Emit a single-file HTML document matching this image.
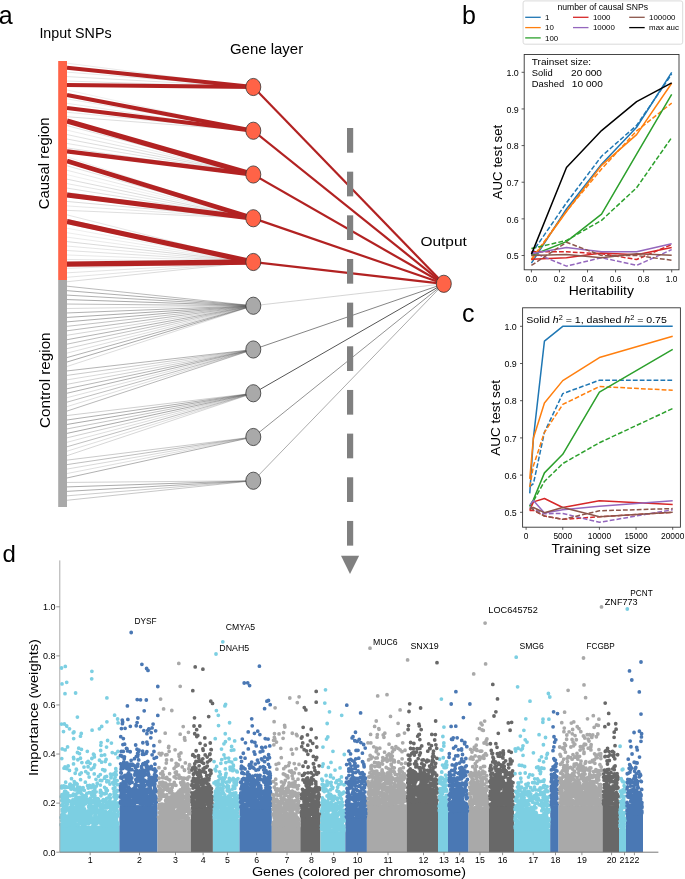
<!DOCTYPE html>
<html><head><meta charset="utf-8"><style>
html,body{margin:0;padding:0;background:#fff;}
svg{display:block;font-family:"Liberation Sans",sans-serif;will-change:transform;}
</style></head><body>
<svg width="685" height="879" viewBox="0 0 685 879">
<text x="-1.2" y="23.6" font-size="25" fill="#000">a</text>
<text x="39.4" y="38.2" font-size="14.2" textLength="72.2" lengthAdjust="spacingAndGlyphs" fill="#000">Input SNPs</text>
<text x="229.9" y="54.1" font-size="14.2" textLength="73.3" lengthAdjust="spacingAndGlyphs" fill="#000">Gene layer</text>
<text x="420.4" y="245.5" font-size="13.6" textLength="46.4" lengthAdjust="spacingAndGlyphs" fill="#000">Output</text>
<text x="49.5" y="209.2" font-size="14.2" textLength="91.7" lengthAdjust="spacingAndGlyphs" transform="rotate(-90 49.5 209.2)" fill="#000">Causal region</text>
<text x="49.6" y="428" font-size="14.2" textLength="95.6" lengthAdjust="spacingAndGlyphs" transform="rotate(-90 49.6 428)" fill="#000">Control region</text>
<line x1="67" y1="63.2" x2="253.3" y2="87" stroke="#808080" stroke-width="0.5" stroke-opacity="0.33"/>
<line x1="67" y1="67.66" x2="253.3" y2="87" stroke="#808080" stroke-width="0.5" stroke-opacity="0.44"/>
<line x1="67" y1="72.12" x2="253.3" y2="87" stroke="#808080" stroke-width="0.5" stroke-opacity="0.38"/>
<line x1="67" y1="76.58" x2="253.3" y2="87" stroke="#808080" stroke-width="0.5" stroke-opacity="0.46"/>
<line x1="67" y1="81.04" x2="253.3" y2="87" stroke="#808080" stroke-width="0.5" stroke-opacity="0.47"/>
<line x1="67" y1="85.5" x2="253.3" y2="87" stroke="#808080" stroke-width="0.5" stroke-opacity="0.27"/>
<line x1="67" y1="89.96" x2="253.3" y2="130.75" stroke="#808080" stroke-width="0.5" stroke-opacity="0.25"/>
<line x1="67" y1="94.42" x2="253.3" y2="130.75" stroke="#808080" stroke-width="0.5" stroke-opacity="0.54"/>
<line x1="67" y1="98.88" x2="253.3" y2="130.75" stroke="#808080" stroke-width="0.5" stroke-opacity="0.34"/>
<line x1="67" y1="103.34" x2="253.3" y2="130.75" stroke="#808080" stroke-width="0.5" stroke-opacity="0.33"/>
<line x1="67" y1="107.8" x2="253.3" y2="130.75" stroke="#808080" stroke-width="0.5" stroke-opacity="0.6"/>
<line x1="67" y1="112.26" x2="253.3" y2="130.75" stroke="#808080" stroke-width="0.5" stroke-opacity="0.41"/>
<line x1="67" y1="116.72" x2="253.3" y2="130.75" stroke="#808080" stroke-width="0.5" stroke-opacity="0.54"/>
<line x1="67" y1="121.18" x2="253.3" y2="174.5" stroke="#808080" stroke-width="0.5" stroke-opacity="0.42"/>
<line x1="67" y1="125.64" x2="253.3" y2="174.5" stroke="#808080" stroke-width="0.5" stroke-opacity="0.47"/>
<line x1="67" y1="130.1" x2="253.3" y2="174.5" stroke="#808080" stroke-width="0.5" stroke-opacity="0.3"/>
<line x1="67" y1="134.56" x2="253.3" y2="174.5" stroke="#808080" stroke-width="0.5" stroke-opacity="0.47"/>
<line x1="67" y1="139.02" x2="253.3" y2="174.5" stroke="#808080" stroke-width="0.5" stroke-opacity="0.55"/>
<line x1="67" y1="143.48" x2="253.3" y2="174.5" stroke="#808080" stroke-width="0.5" stroke-opacity="0.43"/>
<line x1="67" y1="147.94" x2="253.3" y2="174.5" stroke="#808080" stroke-width="0.5" stroke-opacity="0.51"/>
<line x1="67" y1="152.4" x2="253.3" y2="174.5" stroke="#808080" stroke-width="0.5" stroke-opacity="0.48"/>
<line x1="67" y1="156.86" x2="253.3" y2="218.25" stroke="#808080" stroke-width="0.5" stroke-opacity="0.27"/>
<line x1="67" y1="161.32" x2="253.3" y2="218.25" stroke="#808080" stroke-width="0.5" stroke-opacity="0.52"/>
<line x1="67" y1="165.78" x2="253.3" y2="218.25" stroke="#808080" stroke-width="0.5" stroke-opacity="0.46"/>
<line x1="67" y1="170.24" x2="253.3" y2="218.25" stroke="#808080" stroke-width="0.5" stroke-opacity="0.36"/>
<line x1="67" y1="174.7" x2="253.3" y2="218.25" stroke="#808080" stroke-width="0.5" stroke-opacity="0.26"/>
<line x1="67" y1="179.16" x2="253.3" y2="218.25" stroke="#808080" stroke-width="0.5" stroke-opacity="0.55"/>
<line x1="67" y1="183.62" x2="253.3" y2="218.25" stroke="#808080" stroke-width="0.5" stroke-opacity="0.42"/>
<line x1="67" y1="188.08" x2="253.3" y2="218.25" stroke="#808080" stroke-width="0.5" stroke-opacity="0.5"/>
<line x1="67" y1="192.54" x2="253.3" y2="218.25" stroke="#808080" stroke-width="0.5" stroke-opacity="0.56"/>
<line x1="67" y1="197" x2="253.3" y2="218.25" stroke="#808080" stroke-width="0.5" stroke-opacity="0.5"/>
<line x1="67" y1="201.46" x2="253.3" y2="218.25" stroke="#808080" stroke-width="0.5" stroke-opacity="0.57"/>
<line x1="67" y1="205.92" x2="253.3" y2="218.25" stroke="#808080" stroke-width="0.5" stroke-opacity="0.39"/>
<line x1="67" y1="210.38" x2="253.3" y2="218.25" stroke="#808080" stroke-width="0.5" stroke-opacity="0.53"/>
<line x1="67" y1="214.84" x2="253.3" y2="262" stroke="#808080" stroke-width="0.5" stroke-opacity="0.41"/>
<line x1="67" y1="219.3" x2="253.3" y2="262" stroke="#808080" stroke-width="0.5" stroke-opacity="0.58"/>
<line x1="67" y1="223.76" x2="253.3" y2="262" stroke="#808080" stroke-width="0.5" stroke-opacity="0.56"/>
<line x1="67" y1="228.22" x2="253.3" y2="262" stroke="#808080" stroke-width="0.5" stroke-opacity="0.28"/>
<line x1="67" y1="232.68" x2="253.3" y2="262" stroke="#808080" stroke-width="0.5" stroke-opacity="0.3"/>
<line x1="67" y1="237.14" x2="253.3" y2="262" stroke="#808080" stroke-width="0.5" stroke-opacity="0.33"/>
<line x1="67" y1="241.6" x2="253.3" y2="262" stroke="#808080" stroke-width="0.5" stroke-opacity="0.59"/>
<line x1="67" y1="246.06" x2="253.3" y2="262" stroke="#808080" stroke-width="0.5" stroke-opacity="0.4"/>
<line x1="67" y1="250.52" x2="253.3" y2="262" stroke="#808080" stroke-width="0.5" stroke-opacity="0.47"/>
<line x1="67" y1="254.98" x2="253.3" y2="262" stroke="#808080" stroke-width="0.5" stroke-opacity="0.36"/>
<line x1="67" y1="259.44" x2="253.3" y2="262" stroke="#808080" stroke-width="0.5" stroke-opacity="0.43"/>
<line x1="67" y1="263.9" x2="253.3" y2="262" stroke="#808080" stroke-width="0.5" stroke-opacity="0.39"/>
<line x1="67" y1="268.36" x2="253.3" y2="262" stroke="#808080" stroke-width="0.5" stroke-opacity="0.37"/>
<line x1="67" y1="272.82" x2="253.3" y2="262" stroke="#808080" stroke-width="0.5" stroke-opacity="0.45"/>
<line x1="67" y1="277.28" x2="253.3" y2="262" stroke="#808080" stroke-width="0.5" stroke-opacity="0.45"/>
<line x1="67" y1="281.74" x2="253.3" y2="262" stroke="#808080" stroke-width="0.5" stroke-opacity="0.57"/>
<line x1="67" y1="286.2" x2="253.3" y2="305.75" stroke="#555" stroke-width="0.6" stroke-opacity="0.68"/>
<line x1="67" y1="290.66" x2="253.3" y2="305.75" stroke="#555" stroke-width="0.6" stroke-opacity="0.81"/>
<line x1="67" y1="295.12" x2="253.3" y2="305.75" stroke="#555" stroke-width="0.6" stroke-opacity="0.77"/>
<line x1="67" y1="299.58" x2="253.3" y2="305.75" stroke="#555" stroke-width="0.6" stroke-opacity="0.85"/>
<line x1="67" y1="304.04" x2="253.3" y2="305.75" stroke="#555" stroke-width="0.6" stroke-opacity="0.67"/>
<line x1="67" y1="308.5" x2="253.3" y2="305.75" stroke="#555" stroke-width="0.6" stroke-opacity="0.39"/>
<line x1="67" y1="312.96" x2="253.3" y2="305.75" stroke="#555" stroke-width="0.6" stroke-opacity="0.77"/>
<line x1="67" y1="317.42" x2="253.3" y2="305.75" stroke="#555" stroke-width="0.6" stroke-opacity="0.83"/>
<line x1="67" y1="321.88" x2="253.3" y2="305.75" stroke="#555" stroke-width="0.6" stroke-opacity="0.8"/>
<line x1="67" y1="326.34" x2="253.3" y2="305.75" stroke="#555" stroke-width="0.6" stroke-opacity="0.61"/>
<line x1="67" y1="330.8" x2="253.3" y2="305.75" stroke="#555" stroke-width="0.6" stroke-opacity="0.69"/>
<line x1="67" y1="335.26" x2="253.3" y2="305.75" stroke="#555" stroke-width="0.6" stroke-opacity="0.42"/>
<line x1="67" y1="339.72" x2="253.3" y2="305.75" stroke="#555" stroke-width="0.6" stroke-opacity="0.76"/>
<line x1="67" y1="344.18" x2="253.3" y2="305.75" stroke="#555" stroke-width="0.6" stroke-opacity="0.62"/>
<line x1="67" y1="348.64" x2="253.3" y2="305.75" stroke="#555" stroke-width="0.6" stroke-opacity="0.46"/>
<line x1="67" y1="353.1" x2="253.3" y2="305.75" stroke="#555" stroke-width="0.6" stroke-opacity="0.33"/>
<line x1="67" y1="357.56" x2="253.3" y2="305.75" stroke="#555" stroke-width="0.6" stroke-opacity="0.77"/>
<line x1="67" y1="362.02" x2="253.3" y2="305.75" stroke="#555" stroke-width="0.6" stroke-opacity="0.84"/>
<line x1="67" y1="366.48" x2="253.3" y2="305.75" stroke="#555" stroke-width="0.6" stroke-opacity="0.35"/>
<line x1="67" y1="370.94" x2="253.3" y2="349.5" stroke="#555" stroke-width="0.6" stroke-opacity="0.74"/>
<line x1="67" y1="375.4" x2="253.3" y2="349.5" stroke="#555" stroke-width="0.6" stroke-opacity="0.53"/>
<line x1="67" y1="379.86" x2="253.3" y2="349.5" stroke="#555" stroke-width="0.6" stroke-opacity="0.38"/>
<line x1="67" y1="384.32" x2="253.3" y2="349.5" stroke="#555" stroke-width="0.6" stroke-opacity="0.46"/>
<line x1="67" y1="388.78" x2="253.3" y2="349.5" stroke="#555" stroke-width="0.6" stroke-opacity="0.72"/>
<line x1="67" y1="393.24" x2="253.3" y2="349.5" stroke="#555" stroke-width="0.6" stroke-opacity="0.78"/>
<line x1="67" y1="397.7" x2="253.3" y2="349.5" stroke="#555" stroke-width="0.6" stroke-opacity="0.32"/>
<line x1="67" y1="402.16" x2="253.3" y2="349.5" stroke="#555" stroke-width="0.6" stroke-opacity="0.64"/>
<line x1="67" y1="406.62" x2="253.3" y2="349.5" stroke="#555" stroke-width="0.6" stroke-opacity="0.32"/>
<line x1="67" y1="411.08" x2="253.3" y2="349.5" stroke="#555" stroke-width="0.6" stroke-opacity="0.7"/>
<line x1="67" y1="415.54" x2="253.3" y2="393.25" stroke="#555" stroke-width="0.6" stroke-opacity="0.48"/>
<line x1="67" y1="420" x2="253.3" y2="393.25" stroke="#555" stroke-width="0.6" stroke-opacity="0.78"/>
<line x1="67" y1="424.46" x2="253.3" y2="393.25" stroke="#555" stroke-width="0.6" stroke-opacity="0.84"/>
<line x1="67" y1="428.92" x2="253.3" y2="393.25" stroke="#555" stroke-width="0.6" stroke-opacity="0.58"/>
<line x1="67" y1="433.38" x2="253.3" y2="393.25" stroke="#555" stroke-width="0.6" stroke-opacity="0.85"/>
<line x1="67" y1="437.84" x2="253.3" y2="393.25" stroke="#555" stroke-width="0.6" stroke-opacity="0.47"/>
<line x1="67" y1="442.3" x2="253.3" y2="393.25" stroke="#555" stroke-width="0.6" stroke-opacity="0.34"/>
<line x1="67" y1="446.76" x2="253.3" y2="393.25" stroke="#555" stroke-width="0.6" stroke-opacity="0.63"/>
<line x1="67" y1="451.22" x2="253.3" y2="393.25" stroke="#555" stroke-width="0.6" stroke-opacity="0.32"/>
<line x1="67" y1="455.68" x2="253.3" y2="393.25" stroke="#555" stroke-width="0.6" stroke-opacity="0.41"/>
<line x1="67" y1="460.14" x2="253.3" y2="437" stroke="#555" stroke-width="0.6" stroke-opacity="0.52"/>
<line x1="67" y1="464.6" x2="253.3" y2="437" stroke="#555" stroke-width="0.6" stroke-opacity="0.64"/>
<line x1="67" y1="469.06" x2="253.3" y2="437" stroke="#555" stroke-width="0.6" stroke-opacity="0.39"/>
<line x1="67" y1="473.52" x2="253.3" y2="437" stroke="#555" stroke-width="0.6" stroke-opacity="0.32"/>
<line x1="67" y1="477.98" x2="253.3" y2="437" stroke="#555" stroke-width="0.6" stroke-opacity="0.78"/>
<line x1="67" y1="482.44" x2="253.3" y2="480.75" stroke="#555" stroke-width="0.6" stroke-opacity="0.47"/>
<line x1="67" y1="486.9" x2="253.3" y2="480.75" stroke="#555" stroke-width="0.6" stroke-opacity="0.83"/>
<line x1="67" y1="491.36" x2="253.3" y2="480.75" stroke="#555" stroke-width="0.6" stroke-opacity="0.79"/>
<line x1="67" y1="495.82" x2="253.3" y2="480.75" stroke="#555" stroke-width="0.6" stroke-opacity="0.51"/>
<line x1="67" y1="500.28" x2="253.3" y2="480.75" stroke="#555" stroke-width="0.6" stroke-opacity="0.55"/>
<line x1="67" y1="67.7" x2="253.3" y2="87" stroke="#b22222" stroke-width="3.9"/>
<line x1="67" y1="85" x2="253.3" y2="87" stroke="#b22222" stroke-width="4.1"/>
<line x1="67" y1="95" x2="253.3" y2="130.75" stroke="#b22222" stroke-width="4"/>
<line x1="67" y1="107.9" x2="253.3" y2="130.75" stroke="#b22222" stroke-width="4"/>
<line x1="67" y1="121" x2="253.3" y2="174.5" stroke="#b22222" stroke-width="5.2"/>
<line x1="67" y1="151.3" x2="253.3" y2="174.5" stroke="#b22222" stroke-width="4.3"/>
<line x1="67" y1="161" x2="253.3" y2="218.25" stroke="#b22222" stroke-width="4.6"/>
<line x1="67" y1="195" x2="253.3" y2="218.25" stroke="#b22222" stroke-width="4.8"/>
<line x1="67" y1="221.5" x2="253.3" y2="262" stroke="#b22222" stroke-width="5.2"/>
<line x1="67" y1="264.2" x2="253.3" y2="262" stroke="#b22222" stroke-width="5.3"/>
<line x1="253.3" y1="87" x2="443.8" y2="283.8" stroke="#b22222" stroke-width="2.2"/>
<line x1="253.3" y1="130.75" x2="443.8" y2="283.8" stroke="#b22222" stroke-width="2.2"/>
<line x1="253.3" y1="174.5" x2="443.8" y2="283.8" stroke="#b22222" stroke-width="2.2"/>
<line x1="253.3" y1="218.25" x2="443.8" y2="283.8" stroke="#b22222" stroke-width="2.2"/>
<line x1="253.3" y1="262" x2="443.8" y2="283.8" stroke="#b22222" stroke-width="2.2"/>
<line x1="253.3" y1="305.75" x2="443.8" y2="283.8" stroke="#aaa" stroke-width="0.5"/>
<line x1="253.3" y1="349.5" x2="443.8" y2="283.8" stroke="#666" stroke-width="0.8"/>
<line x1="253.3" y1="393.25" x2="443.8" y2="283.8" stroke="#555" stroke-width="1"/>
<line x1="253.3" y1="437" x2="443.8" y2="283.8" stroke="#777" stroke-width="0.8"/>
<line x1="253.3" y1="480.75" x2="443.8" y2="283.8" stroke="#888" stroke-width="0.7"/>
<rect x="58.2" y="61" width="8.8" height="219" fill="#ff6347"/>
<rect x="58.2" y="280" width="8.8" height="227" fill="#a9a9a9"/>
<ellipse cx="253.3" cy="87" rx="7.5" ry="8.6" fill="#ff6347" stroke="#333" stroke-width="0.8"/>
<ellipse cx="253.3" cy="130.75" rx="7.5" ry="8.6" fill="#ff6347" stroke="#333" stroke-width="0.8"/>
<ellipse cx="253.3" cy="174.5" rx="7.5" ry="8.6" fill="#ff6347" stroke="#333" stroke-width="0.8"/>
<ellipse cx="253.3" cy="218.25" rx="7.5" ry="8.6" fill="#ff6347" stroke="#333" stroke-width="0.8"/>
<ellipse cx="253.3" cy="262" rx="7.5" ry="8.6" fill="#ff6347" stroke="#333" stroke-width="0.8"/>
<ellipse cx="253.3" cy="305.75" rx="7.5" ry="8.6" fill="#a9a9a9" stroke="#333" stroke-width="0.8"/>
<ellipse cx="253.3" cy="349.5" rx="7.5" ry="8.6" fill="#a9a9a9" stroke="#333" stroke-width="0.8"/>
<ellipse cx="253.3" cy="393.25" rx="7.5" ry="8.6" fill="#a9a9a9" stroke="#333" stroke-width="0.8"/>
<ellipse cx="253.3" cy="437" rx="7.5" ry="8.6" fill="#a9a9a9" stroke="#333" stroke-width="0.8"/>
<ellipse cx="253.3" cy="480.75" rx="7.5" ry="8.6" fill="#a9a9a9" stroke="#333" stroke-width="0.8"/>
<ellipse cx="443.8" cy="283.8" rx="7.5" ry="8.6" fill="#ff6347" stroke="#333" stroke-width="0.8"/>
<rect x="347" y="128" width="6.2" height="24.7" fill="#808080"/>
<rect x="347" y="171.66" width="6.2" height="24.7" fill="#808080"/>
<rect x="347" y="215.32" width="6.2" height="24.7" fill="#808080"/>
<rect x="347" y="258.98" width="6.2" height="24.7" fill="#808080"/>
<rect x="347" y="302.64" width="6.2" height="24.7" fill="#808080"/>
<rect x="347" y="346.3" width="6.2" height="24.7" fill="#808080"/>
<rect x="347" y="389.96" width="6.2" height="24.7" fill="#808080"/>
<rect x="347" y="433.62" width="6.2" height="24.7" fill="#808080"/>
<rect x="347" y="477.28" width="6.2" height="24.7" fill="#808080"/>
<rect x="347" y="520.94" width="6.2" height="24.7" fill="#808080"/>
<polygon points="341,555.7 359.1,555.7 350,574" fill="#808080"/>
<text x="462" y="23.6" font-size="25" fill="#000">b</text>
<rect x="523.1" y="0.9" width="159.6" height="43.3" rx="2" ry="2" fill="#fff" stroke="#d0d0d0" stroke-width="0.8"/>
<text x="557.5" y="10" font-size="8.6" textLength="90.6" lengthAdjust="spacingAndGlyphs" fill="#000">number of causal SNPs</text>
<line x1="525.2" y1="17.3" x2="540.7" y2="17.3" stroke="#1f77b4" stroke-width="1.3"/>
<text x="545.1" y="19.9" font-size="7.9" fill="#000">1</text>
<line x1="525.2" y1="27.6" x2="540.7" y2="27.6" stroke="#ff7f0e" stroke-width="1.3"/>
<text x="545.1" y="30.2" font-size="7.9" fill="#000">10</text>
<line x1="525.2" y1="37.9" x2="540.7" y2="37.9" stroke="#2ca02c" stroke-width="1.3"/>
<text x="545.1" y="40.5" font-size="7.9" fill="#000">100</text>
<line x1="573" y1="17.3" x2="588.5" y2="17.3" stroke="#d62728" stroke-width="1.3"/>
<text x="592.9" y="19.9" font-size="7.9" fill="#000">1000</text>
<line x1="573" y1="27.6" x2="588.5" y2="27.6" stroke="#9467bd" stroke-width="1.3"/>
<text x="592.9" y="30.2" font-size="7.9" fill="#000">10000</text>
<line x1="629.2" y1="17.3" x2="644.7" y2="17.3" stroke="#8c564b" stroke-width="1.3"/>
<text x="649.1" y="19.9" font-size="7.9" fill="#000">100000</text>
<line x1="629.2" y1="27.6" x2="644.7" y2="27.6" stroke="#000000" stroke-width="1.3"/>
<text x="649.1" y="30.2" font-size="7.9" fill="#000">max auc</text>
<rect x="524.2" y="54.5" width="154.8" height="215.3" fill="none" stroke="#333" stroke-width="0.9"/>
<line x1="521.6" y1="255.5" x2="524.2" y2="255.5" stroke="#333" stroke-width="0.8"/>
<text x="518.8" y="259.2" font-size="8.9" text-anchor="end" fill="#000">0.5</text>
<line x1="521.6" y1="218.86" x2="524.2" y2="218.86" stroke="#333" stroke-width="0.8"/>
<text x="518.8" y="222.56" font-size="8.9" text-anchor="end" fill="#000">0.6</text>
<line x1="521.6" y1="182.22" x2="524.2" y2="182.22" stroke="#333" stroke-width="0.8"/>
<text x="518.8" y="185.92" font-size="8.9" text-anchor="end" fill="#000">0.7</text>
<line x1="521.6" y1="145.58" x2="524.2" y2="145.58" stroke="#333" stroke-width="0.8"/>
<text x="518.8" y="149.28" font-size="8.9" text-anchor="end" fill="#000">0.8</text>
<line x1="521.6" y1="108.94" x2="524.2" y2="108.94" stroke="#333" stroke-width="0.8"/>
<text x="518.8" y="112.64" font-size="8.9" text-anchor="end" fill="#000">0.9</text>
<line x1="521.6" y1="72.3" x2="524.2" y2="72.3" stroke="#333" stroke-width="0.8"/>
<text x="518.8" y="76" font-size="8.9" text-anchor="end" fill="#000">1.0</text>
<line x1="531.4" y1="269.8" x2="531.4" y2="272.4" stroke="#333" stroke-width="0.8"/>
<text x="531.4" y="281.5" font-size="8.4" text-anchor="middle" fill="#000">0.0</text>
<line x1="559.46" y1="269.8" x2="559.46" y2="272.4" stroke="#333" stroke-width="0.8"/>
<text x="559.46" y="281.5" font-size="8.4" text-anchor="middle" fill="#000">0.2</text>
<line x1="587.52" y1="269.8" x2="587.52" y2="272.4" stroke="#333" stroke-width="0.8"/>
<text x="587.52" y="281.5" font-size="8.4" text-anchor="middle" fill="#000">0.4</text>
<line x1="615.58" y1="269.8" x2="615.58" y2="272.4" stroke="#333" stroke-width="0.8"/>
<text x="615.58" y="281.5" font-size="8.4" text-anchor="middle" fill="#000">0.6</text>
<line x1="643.64" y1="269.8" x2="643.64" y2="272.4" stroke="#333" stroke-width="0.8"/>
<text x="643.64" y="281.5" font-size="8.4" text-anchor="middle" fill="#000">0.8</text>
<line x1="671.7" y1="269.8" x2="671.7" y2="272.4" stroke="#333" stroke-width="0.8"/>
<text x="671.7" y="281.5" font-size="8.4" text-anchor="middle" fill="#000">1.0</text>
<text x="501.7" y="199.4" font-size="12.6" textLength="74.7" lengthAdjust="spacingAndGlyphs" transform="rotate(-90 501.7 199.4)" fill="#000">AUC test set</text>
<text x="568.8" y="295.1" font-size="12.6" textLength="65.1" lengthAdjust="spacingAndGlyphs" fill="#000">Heritability</text>
<text x="531.8" y="65.4" font-size="9.4" textLength="59.3" lengthAdjust="spacingAndGlyphs" fill="#000">Trainset size:</text>
<text x="531.8" y="76.1" font-size="9.4" fill="#000">Solid</text>
<text x="571.1" y="76.1" font-size="9.4" textLength="30.9" lengthAdjust="spacingAndGlyphs" fill="#000">20 000</text>
<text x="531.8" y="87.3" font-size="9.4" fill="#000">Dashed</text>
<text x="571.8" y="87.3" font-size="9.4" textLength="31" lengthAdjust="spacingAndGlyphs" fill="#000">10 000</text>
<polyline points="531.4,263.19 566.48,208.97 601.55,164.27 636.62,127.26 671.7,72.3" fill="none" stroke="#1f77b4" stroke-width="1.5" stroke-linejoin="round"/>
<polyline points="531.4,253.67 566.48,202.74 601.55,156.21 636.62,125.43 671.7,74.13" fill="none" stroke="#1f77b4" stroke-width="1.5" stroke-linejoin="round" stroke-dasharray="4.8 2.1"/>
<polyline points="531.4,260.26 566.48,211.53 601.55,165.37 636.62,134.59 671.7,83.29" fill="none" stroke="#ff7f0e" stroke-width="1.5" stroke-linejoin="round"/>
<polyline points="531.4,259.16 566.48,211.17 601.55,169.03 636.62,130.92 671.7,103.08" fill="none" stroke="#ff7f0e" stroke-width="1.5" stroke-linejoin="round" stroke-dasharray="4.8 2.1"/>
<polyline points="531.4,255.5 566.48,241.58 601.55,214.1 636.62,154.01 671.7,94.28" fill="none" stroke="#2ca02c" stroke-width="1.5" stroke-linejoin="round"/>
<polyline points="531.4,248.54 566.48,240.48 601.55,220.33 636.62,187.72 671.7,137.52" fill="none" stroke="#2ca02c" stroke-width="1.5" stroke-linejoin="round" stroke-dasharray="4.8 2.1"/>
<polyline points="531.4,259.16 566.48,257.7 601.55,252.94 636.62,254.77 671.7,247.44" fill="none" stroke="#d62728" stroke-width="1.5" stroke-linejoin="round"/>
<polyline points="531.4,251.84 566.48,251.84 601.55,253.67 636.62,259.53 671.7,244.51" fill="none" stroke="#d62728" stroke-width="1.5" stroke-linejoin="round" stroke-dasharray="4.8 2.1"/>
<polyline points="531.4,253.67 566.48,247.44 601.55,251.84 636.62,251.84 671.7,243.78" fill="none" stroke="#9467bd" stroke-width="1.5" stroke-linejoin="round"/>
<polyline points="531.4,251.84 566.48,266.13 601.55,257.7 636.62,265.39 671.7,249.64" fill="none" stroke="#9467bd" stroke-width="1.5" stroke-linejoin="round" stroke-dasharray="4.8 2.1"/>
<polyline points="531.4,255.5 566.48,254.4 601.55,257.7 636.62,253.67 671.7,255.13" fill="none" stroke="#8c564b" stroke-width="1.5" stroke-linejoin="round"/>
<polyline points="531.4,265.39 566.48,242.31 601.55,255.5 636.62,255.5 671.7,260.26" fill="none" stroke="#8c564b" stroke-width="1.5" stroke-linejoin="round" stroke-dasharray="4.8 2.1"/>
<polyline points="531.4,254.4 566.48,167.56 601.55,130.56 636.62,101.61 671.7,82.93" fill="none" stroke="#000000" stroke-width="1.5" stroke-linejoin="round"/>
<text x="461.9" y="321.7" font-size="25" fill="#000">c</text>
<rect x="522.6" y="307.8" width="157.8" height="219.4" fill="none" stroke="#333" stroke-width="0.9"/>
<line x1="520" y1="512.3" x2="522.6" y2="512.3" stroke="#333" stroke-width="0.8"/>
<text x="516.8" y="515.9" font-size="8.9" text-anchor="end" fill="#000">0.5</text>
<line x1="520" y1="475.1" x2="522.6" y2="475.1" stroke="#333" stroke-width="0.8"/>
<text x="516.8" y="478.7" font-size="8.9" text-anchor="end" fill="#000">0.6</text>
<line x1="520" y1="437.9" x2="522.6" y2="437.9" stroke="#333" stroke-width="0.8"/>
<text x="516.8" y="441.5" font-size="8.9" text-anchor="end" fill="#000">0.7</text>
<line x1="520" y1="400.7" x2="522.6" y2="400.7" stroke="#333" stroke-width="0.8"/>
<text x="516.8" y="404.3" font-size="8.9" text-anchor="end" fill="#000">0.8</text>
<line x1="520" y1="363.5" x2="522.6" y2="363.5" stroke="#333" stroke-width="0.8"/>
<text x="516.8" y="367.1" font-size="8.9" text-anchor="end" fill="#000">0.9</text>
<line x1="520" y1="326.3" x2="522.6" y2="326.3" stroke="#333" stroke-width="0.8"/>
<text x="516.8" y="329.9" font-size="8.9" text-anchor="end" fill="#000">1.0</text>
<line x1="526.1" y1="527.2" x2="526.1" y2="529.8" stroke="#333" stroke-width="0.8"/>
<text x="526.1" y="539.1" font-size="8.4" text-anchor="middle" fill="#000">0</text>
<line x1="562.75" y1="527.2" x2="562.75" y2="529.8" stroke="#333" stroke-width="0.8"/>
<text x="562.75" y="539.1" font-size="8.4" text-anchor="middle" fill="#000">5000</text>
<line x1="599.4" y1="527.2" x2="599.4" y2="529.8" stroke="#333" stroke-width="0.8"/>
<text x="599.4" y="539.1" font-size="8.4" text-anchor="middle" fill="#000">10000</text>
<line x1="636.05" y1="527.2" x2="636.05" y2="529.8" stroke="#333" stroke-width="0.8"/>
<text x="636.05" y="539.1" font-size="8.4" text-anchor="middle" fill="#000">15000</text>
<line x1="672.7" y1="527.2" x2="672.7" y2="529.8" stroke="#333" stroke-width="0.8"/>
<text x="672.7" y="539.1" font-size="8.4" text-anchor="middle" fill="#000">20000</text>
<text x="499.7" y="455.7" font-size="12.6" textLength="75.7" lengthAdjust="spacingAndGlyphs" transform="rotate(-90 499.7 455.7)" fill="#000">AUC test set</text>
<text x="551.5" y="553" font-size="12.6" textLength="99.4" lengthAdjust="spacingAndGlyphs" fill="#000">Training set size</text>
<text x="526.3" y="323.1" font-size="9.4" textLength="140.6" lengthAdjust="spacingAndGlyphs" fill="#000">Solid <tspan font-style="italic">h</tspan><tspan font-size="6.5" dy="-3.5">2</tspan><tspan dy="3.5"> = 1, dashed </tspan><tspan font-style="italic">h</tspan><tspan font-size="6.5" dy="-3.5">2</tspan><tspan dy="3.5"> = 0.75</tspan></text>
<polyline points="529.76,493.33 533.43,437.9 544.43,341.18 562.75,326.3 599.4,326.3 672.7,326.3" fill="none" stroke="#1f77b4" stroke-width="1.5" stroke-linejoin="round"/>
<polyline points="529.76,486.63 533.43,483.66 544.43,432.32 562.75,393.63 599.4,380.24 672.7,380.24" fill="none" stroke="#1f77b4" stroke-width="1.5" stroke-linejoin="round" stroke-dasharray="4.8 2.1"/>
<polyline points="529.76,478.82 533.43,437.9 544.43,402.93 562.75,380.61 599.4,357.55 672.7,336.34" fill="none" stroke="#ff7f0e" stroke-width="1.5" stroke-linejoin="round"/>
<polyline points="529.76,487 533.43,465.8 544.43,432.32 562.75,404.42 599.4,386.56 672.7,390.28" fill="none" stroke="#ff7f0e" stroke-width="1.5" stroke-linejoin="round" stroke-dasharray="4.8 2.1"/>
<polyline points="529.76,506.35 533.43,499.65 544.43,472.87 562.75,454.27 599.4,392.14 672.7,349.36" fill="none" stroke="#2ca02c" stroke-width="1.5" stroke-linejoin="round"/>
<polyline points="529.76,506.35 533.43,501.14 544.43,481.42 562.75,463.57 599.4,442.74 672.7,408.51" fill="none" stroke="#2ca02c" stroke-width="1.5" stroke-linejoin="round" stroke-dasharray="4.8 2.1"/>
<polyline points="529.76,510.44 533.43,501.88 544.43,498.54 562.75,507.46 599.4,500.77 672.7,504.49" fill="none" stroke="#d62728" stroke-width="1.5" stroke-linejoin="round"/>
<polyline points="529.76,510.44 533.43,510.44 544.43,516.02 562.75,519.37 599.4,516.76 672.7,512.3" fill="none" stroke="#d62728" stroke-width="1.5" stroke-linejoin="round" stroke-dasharray="4.8 2.1"/>
<polyline points="529.76,504.86 533.43,500.4 544.43,513.04 562.75,509.7 599.4,506.35 672.7,500.77" fill="none" stroke="#9467bd" stroke-width="1.5" stroke-linejoin="round"/>
<polyline points="529.76,506.72 533.43,508.58 544.43,513.79 562.75,513.42 599.4,522.34 672.7,509.7" fill="none" stroke="#9467bd" stroke-width="1.5" stroke-linejoin="round" stroke-dasharray="4.8 2.1"/>
<polyline points="529.76,508.58 533.43,507.46 544.43,512.67 562.75,507.46 599.4,516.76 672.7,512.3" fill="none" stroke="#8c564b" stroke-width="1.5" stroke-linejoin="round"/>
<polyline points="529.76,507.84 533.43,509.7 544.43,516.02 562.75,519.37 599.4,510.81 672.7,508.58" fill="none" stroke="#8c564b" stroke-width="1.5" stroke-linejoin="round" stroke-dasharray="4.8 2.1"/>
<text x="2.6" y="562.4" font-size="24" fill="#000">d</text>
<rect x="59.8" y="825.7" width="59.6" height="26.5" fill="#7ccfe2"/>
<rect x="119.4" y="805.08" width="38.1" height="47.12" fill="#4a78b4"/>
<rect x="157.5" y="819.07" width="33.2" height="33.13" fill="#a9a9a9"/>
<rect x="190.7" y="806.8" width="22.2" height="45.4" fill="#686868"/>
<rect x="212.9" y="819.07" width="26.6" height="33.13" fill="#7ccfe2"/>
<rect x="239.5" y="808.03" width="32.3" height="44.17" fill="#4a78b4"/>
<rect x="271.8" y="825.7" width="28.5" height="26.5" fill="#a9a9a9"/>
<rect x="300.3" y="816.86" width="20.1" height="35.34" fill="#686868"/>
<rect x="320.4" y="831.34" width="24.9" height="20.86" fill="#7ccfe2"/>
<rect x="345.3" y="816.86" width="21.6" height="35.34" fill="#4a78b4"/>
<rect x="366.9" y="804.35" width="39.7" height="47.85" fill="#a9a9a9"/>
<rect x="406.6" y="801.89" width="31.4" height="50.31" fill="#686868"/>
<rect x="438" y="811.71" width="10" height="40.49" fill="#7ccfe2"/>
<rect x="448" y="811.71" width="20.6" height="40.49" fill="#4a78b4"/>
<rect x="468.6" y="808.03" width="20.3" height="44.17" fill="#a9a9a9"/>
<rect x="488.9" y="805.08" width="25.1" height="47.12" fill="#686868"/>
<rect x="514" y="828.89" width="36.2" height="23.31" fill="#7ccfe2"/>
<rect x="550.2" y="805.08" width="8.4" height="47.12" fill="#4a78b4"/>
<rect x="558.6" y="805.08" width="43.9" height="47.12" fill="#a9a9a9"/>
<rect x="602.5" y="805.08" width="16.5" height="47.12" fill="#686868"/>
<rect x="619" y="828.89" width="7" height="23.31" fill="#7ccfe2"/>
<rect x="626" y="814.16" width="17" height="38.04" fill="#4a78b4"/>
<path d="M104.94 825.61h0M109.56 825.21h0M115.98 825.22h0M60.83 824.66h0M113.23 825.44h0M117.27 825.12h0M65.01 825.21h0M105.64 824.92h0M65.82 825.37h0M116.33 825.29h0M67.6 824.77h0M66.62 825.39h0M106.71 825.62h0M93.02 825.48h0M71.78 825.15h0M68.34 824.8h0M67.51 824.91h0M73.06 825.18h0M116.73 825.37h0M78.32 824.71h0M72.94 824.61h0M110.01 825.21h0M66.58 824.91h0M73.08 824.48h0M105.31 825.38h0M77.87 825.29h0M65.99 825.61h0M74.8 824.98h0M82.21 824.96h0M116.05 825.14h0M93.9 825.1h0M71.33 824.63h0M113.13 825.51h0M75.17 824.69h0M103.39 825.46h0M72.12 824.54h0M111.61 824.53h0M85.08 824.96h0M63.03 825.57h0M74.53 824.52h0M75.6 824.83h0M95.16 824.69h0M88.58 823.69h0M79.17 823.57h0M65.14 823.24h0M103.25 823.8h0M103.26 823.37h0M106.49 823.61h0M81.07 823.35h0M112.69 823.63h0M84.83 823.4h0M110.54 823.5h0M96.8 823.77h0M94.36 824h0M65.42 823.72h0M118.02 823.69h0M102.74 823.39h0M103.14 823.99h0M86.17 823.76h0M65.63 823.44h0M62.52 823.55h0M88.5 823.73h0M101.02 824.19h0M96.2 823.86h0M75.54 823.34h0M78.14 824.46h0M72.47 823.64h0M112.97 824.26h0M86.26 823.66h0M79.63 823.38h0M72.23 823.65h0M107.22 823.94h0M111.5 823.35h0M63.5 823.07h0M86.52 822.47h0M98.53 822.47h0M116.01 822.25h0M72.28 822.4h0M71.09 822.66h0M88 823.23h0M71.12 822.37h0M80.71 822.91h0M90.78 822.39h0M104.36 822.49h0M106.42 822.76h0M65.82 822.13h0M102.41 822.1h0M86.92 823.08h0M113.21 822.48h0M93.56 822.78h0M106.69 822.16h0M87.51 822.08h0M72.6 822.44h0M107.94 822.36h0M102.14 822.46h0M112.64 822.98h0M117.1 822.04h0M106.35 822.58h0M113.22 822.85h0M80.87 822.19h0M86.2 823.14h0M105.05 822.57h0M62.44 822.64h0M64.49 822.25h0M70.76 822.26h0M106.18 822.83h0M69.36 823.07h0M114.1 821.26h0M105.69 821.86h0M71.98 821.99h0M100.37 821.74h0M81.27 821.62h0M66.84 821.26h0M67.87 821.12h0M75.23 821.39h0M91.35 821.77h0M82.44 821.48h0M91.29 821.51h0M72.57 821.82h0M97.58 821.24h0M109.83 821.37h0M110.15 821.27h0M103.47 821.73h0M112.79 821.02h0M78.94 821.63h0M73.37 820.88h0M111.92 820.79h0M74.59 821.85h0M75.75 821.12h0M108.73 821.9h0M106.3 821.5h0M84 821.86h0M61.82 821.18h0M100.11 821.77h0M116.58 820.9h0M89.93 821.87h0M89.76 821.09h0M71.69 821.17h0M66.92 821.93h0M92.58 821.97h0M93.56 821.38h0M71.43 821.84h0M109.2 821.77h0M114.19 820.8h0M64.37 821.9h0M87.42 820.85h0M79.63 821.08h0M90.48 821.44h0M95.41 821.49h0M101.18 822h0M71.24 820.98h0M103.39 821.46h0M72.04 821.52h0M90.32 821.81h0M112.25 822h0M101.39 821.03h0M97.05 820.96h0M66.47 820.33h0M112.97 820.48h0M90.05 820.11h0M93.52 819.6h0M97.55 819.57h0M65.19 819.8h0M104.53 820.06h0M114.38 820.73h0M87.97 820.59h0M89.34 820.58h0M64.17 820.04h0M85.03 819.63h0M95.24 820.14h0M77.26 820.34h0M93.09 819.98h0M102.08 820.44h0M61.61 820.43h0M63.26 820.49h0M104.27 820.6h0M112.5 820.31h0M63.69 819.87h0M115.2 819.58h0M112.96 820.7h0M88.31 820.26h0M74.84 819.59h0M114.79 820.15h0M87.78 819.9h0M107.84 819.59h0M67.43 820.05h0M87.05 820.02h0M63.8 820.54h0M67.96 820.14h0M99.27 820.25h0M75.9 820.23h0M84.97 820.07h0M91.37 819.83h0M115.67 819.56h0M74.53 819.89h0M112.22 820.65h0M96.8 819.83h0M76.44 820.35h0M93.34 819.95h0M97.27 820.06h0M71.73 819.86h0M79.54 818.35h0M103.78 818.89h0M85.43 818.43h0M66.39 819.11h0M65.32 818.49h0M93.3 819.46h0M100.27 818.97h0M105.47 819.2h0M73.08 819.47h0M65.51 818.75h0M102.56 819.19h0M77.1 818.71h0M81.41 819.39h0M81.9 818.67h0M101.65 819.42h0M113.71 818.86h0M113.41 818.41h0M107.06 819.02h0M79.09 819.19h0M114.64 819.07h0M75.1 818.46h0M81.86 819.12h0M83.59 819.12h0M72.03 819.09h0M106.71 818.87h0M108.98 818.9h0M70.97 818.87h0M111.54 818.63h0M62.08 819.22h0M92.14 818.93h0M116.47 818.87h0M107.13 818.76h0M77.62 817.81h0M64.21 817.14h0M67.41 817.96h0M105.49 817.54h0M64.39 818.11h0M94.44 817.77h0M62.9 817.22h0M71.43 818.2h0M74.36 818.07h0M95.06 817.45h0M71.46 818.06h0M70.74 817.99h0M78.76 817.41h0M107.87 817.66h0M75.8 817.75h0M113.46 817.25h0M92.33 817.92h0M88.6 817.16h0M63.66 818.06h0M106.96 817.17h0M91.19 817.86h0M76.61 817.7h0M98.68 817.12h0M61.43 818.04h0M82.2 817.75h0M101.89 817.36h0M69.86 817.59h0M79.34 818.14h0M110.87 818.02h0M97.49 817.7h0M76.15 817.12h0M69.48 817.68h0M60.88 817.39h0M109.54 817.33h0M65.55 817.33h0M102.07 818h0M88.45 818.22h0M115.84 817.76h0M110.18 817.62h0M106.26 817.96h0M113.61 817.82h0M108.4 818.22h0M92.1 818.08h0M69.87 817.69h0M78.74 817.31h0M75.57 816.29h0M102.93 816.86h0M115.23 816.7h0M102.49 816.42h0M108.43 816.7h0M68.91 816.99h0M99.84 816.99h0M71.16 816.24h0M109.01 816.61h0M65.99 816.38h0M69.85 816.83h0M84.23 816.96h0M113.83 817.02h0M90.27 816.58h0M104.97 816.31h0M83.03 816.1h0M84.54 816.7h0M83.88 817.09h0M117.36 816.25h0M98.83 816.14h0M61.87 816.36h0M80.51 816.7h0M66.92 816.31h0M90.14 816.64h0M108.33 816.14h0M69.92 816.36h0M112.81 816.17h0M81.11 816.44h0M68.97 816.49h0M71.17 815.84h0M114.91 814.67h0M78.52 815.07h0M103.29 815.06h0M94.89 815.41h0M61.74 814.89h0M87.76 815.64h0M83.06 815.71h0M70.8 815.18h0M75.99 815.24h0M79.93 815.18h0M62.98 815.09h0M69.14 815.06h0M95.37 814.7h0M84.5 815.3h0M100.5 815.12h0M104.1 814.95h0M118.09 815.28h0M110.05 814.85h0M85.8 815.38h0M112.94 815.19h0M91.04 815.24h0M112.89 815.35h0M63.95 815.49h0M112.65 814.99h0M95.22 814.98h0M78.35 814.96h0M64.82 815.15h0M86.54 815.73h0M83.65 815.26h0M100.83 815.82h0M74.57 815.24h0M83.58 815.5h0M64.74 815.59h0M116.47 814.76h0M110.71 815.06h0M107.18 815.36h0M103.81 815.61h0M114.59 814.04h0M88.02 813.45h0M77.81 814.4h0M112.46 813.52h0M109.06 814.41h0M88.02 814.22h0M111.47 814.44h0M72.44 813.43h0M71.83 813.88h0M63.68 813.57h0M102.6 814.52h0M112.66 814.27h0M101.88 813.59h0M100.89 814.49h0M86.44 813.5h0M73.66 814.56h0M101.73 814.28h0M71.23 814.41h0M99.08 814.36h0M82.26 813.68h0M104.03 812.86h0M114.33 812.95h0M71.16 812.81h0M97.95 812.74h0M98.72 812.99h0M90.56 812.47h0M109.49 812.81h0M90.78 812.59h0M70.82 812.26h0M70.31 812.47h0M74.36 812.68h0M105.33 812.89h0M106.37 812.46h0M88.97 813.14h0M94.21 813.16h0M62.84 812.81h0M101.97 812.69h0M111.08 812.72h0M69.54 813.21h0M89.38 813.4h0M86.24 812.89h0M106.79 813.1h0M113.06 813.34h0M92.09 812.73h0M74.51 812.46h0M78.71 813.25h0M78.91 813.37h0M91.07 812.66h0M68.95 811.11h0M77.97 811.72h0M65.21 811.68h0M118.18 812.16h0M103.08 811.26h0M75.38 811.92h0M74.72 811.52h0M114.51 811.63h0M80.21 811.75h0M95.99 811h0M84.02 812.15h0M64.17 811.4h0M100.81 811.78h0M94.82 811.14h0M87.45 811.11h0M109.36 811.72h0M105.81 811.73h0M80.81 811.94h0M92.45 811.97h0M72.53 812h0M87.74 811.94h0M86.55 811.82h0M99.92 810.98h0M65.59 810.5h0M79.53 809.89h0M90.71 810.03h0M83.49 810.91h0M63.15 810.68h0M95.09 810.79h0M78.79 810.93h0M92.13 810.45h0M101.5 810.81h0M102.59 810.65h0M69.28 810.16h0M76.95 810.72h0M84.15 810.1h0M110.68 810.5h0M77.62 810.7h0M73.23 810.55h0M62.21 810.92h0M93.4 810.2h0M116.99 809.98h0M99.42 810.61h0M73.25 809.85h0M99.2 810.13h0M101.2 809.03h0M101.13 809.07h0M83.34 809.72h0M64.43 809.3h0M63.95 809.25h0M94.55 809.14h0M79.55 809.17h0M62.16 809.43h0M112.17 809.32h0M75.89 809.05h0M71.51 808.93h0M96.24 809.17h0M81.69 808.57h0M115.08 809.04h0M96.93 808.8h0M84.47 808.98h0M76.71 809.24h0M111.47 808.73h0M113.19 809.28h0M68.62 809.7h0M78.58 809.12h0M100.85 807.64h0M116.32 807.68h0M69.99 807.51h0M89.06 807.76h0M82.08 807.83h0M103.94 808.17h0M74.45 807.86h0M79.52 808.21h0M90.39 808.3h0M64.44 808.36h0M66.69 808.43h0M67.3 807.65h0M105.27 807.96h0M70.16 807.93h0M110.9 807.46h0M75.42 808.45h0M106.68 807.9h0M102.04 808.04h0M102.03 808.21h0M80.03 808.12h0M109.34 807.59h0M77.28 807.24h0M118.03 806.39h0M79.81 807.14h0M92.05 807.26h0M82.31 806.7h0M106.91 806.91h0M77.14 806.26h0M96.38 806.81h0M117.3 806.35h0M100.78 806.81h0M106.89 806.62h0M70.88 807.11h0M114.57 807.16h0M88.92 806.98h0M79.44 807.14h0M93.4 807.27h0M96.82 807.12h0M73.91 806.96h0M81.87 806.7h0M63.75 806.97h0M112.22 807.21h0M65.32 806.91h0M88.65 807.07h0M72.45 806.07h0M88.69 806.23h0M78.66 805.14h0M61.4 805.43h0M116.05 805.81h0M91.17 806.05h0M106.44 805.07h0M83.8 805.16h0M108.47 805.08h0M117.59 805.12h0M115.54 805.94h0M101.42 805.57h0M113.2 805.76h0M94.02 806.04h0M83.17 805.79h0M98.64 805.61h0M81.81 805.07h0M81.19 805.28h0M112.94 805.72h0M66.22 805.67h0M103.52 805.65h0M67.04 803.91h0M85.57 803.63h0M73.45 803.66h0M101.47 804.34h0M76.55 804.62h0M115.39 804.01h0M71.37 804.44h0M117.79 804.4h0M97.36 804.66h0M97.89 804.37h0M96.3 804.58h0M110.13 803.75h0M89.88 804.07h0M67.37 804.14h0M100.53 803.81h0M99.13 804.28h0M82.96 804.32h0M118.04 802.98h0M110.92 803.53h0M75.24 802.74h0M86.95 802.62h0M110.66 802.95h0M76.91 803.37h0M65.04 802.82h0M106.14 802.93h0M74.73 803.01h0M110.05 802.63h0M92.44 802.67h0M106.69 802.5h0M81.87 803.42h0M62.92 803.49h0M110.62 803.19h0M67.56 802.59h0M83.19 803.39h0M96.34 802.57h0M64.94 802.5h0M72.71 802.4h0M111.29 802.84h0M72.15 802.72h0M85.61 802.79h0M80.36 803.59h0M97.07 803.22h0M95.54 803.27h0M71.21 802.76h0M89.97 801.82h0M80.75 801.23h0M74.34 801.52h0M77.21 801.67h0M77.3 801.31h0M99.78 801.34h0M114.58 801.83h0M103.61 801.91h0M86.63 801.65h0M84.94 802.31h0M86.2 802.04h0M77.67 801.21h0M99.51 801.53h0M84.5 802.08h0M112.37 802.22h0M85.03 802.08h0M108.06 801.96h0M94.82 801.34h0M66.53 801.71h0M83.91 800.59h0M73.36 800.35h0M72.86 799.94h0M69.03 800.7h0M103.53 800.67h0M70.41 801.05h0M96.68 800.36h0M75.4 800.25h0M102.9 800.16h0M67.69 800.2h0M61.71 800.58h0M115.21 800.1h0M62.19 800.06h0M91.67 800.73h0M67.21 800.5h0M78.17 800.19h0M67.98 800.53h0M68.27 800.46h0M90.3 801.05h0M105.58 800.8h0M84.64 800.85h0M73.34 801.09h0M92.95 800.6h0M109.8 800.59h0M109.77 801.03h0M78.12 799.79h0M97.84 798.74h0M63.45 798.89h0M65.31 799.42h0M67.24 799.61h0M79.74 798.8h0M98.47 799.33h0M115.32 798.84h0M89.65 799.23h0M83.52 798.82h0M103.39 799.56h0M81.99 799.61h0M88.27 799.4h0M85.6 799.49h0M63.66 799.38h0M116.46 798.2h0M94.98 798.69h0M81.86 797.52h0M82.05 797.97h0M95.89 798.33h0M78.95 797.98h0M90.53 798.09h0M63.86 797.78h0M75.31 798.59h0M106.63 798.37h0M110.34 798.18h0M77.26 798.21h0M65.72 797.87h0M61.12 796.76h0M84.9 796.57h0M117.46 796.64h0M65.12 796.35h0M86.17 796.52h0M82.56 796.55h0M85.96 796.93h0M79.23 797.33h0M64.92 796.57h0M108.84 797.33h0M92.37 796.66h0M67.62 797.34h0M115.74 797.1h0M113.92 796.79h0M84.69 797.22h0M109.14 796.82h0M72.44 795.53h0M70.24 795.82h0M94.86 795.82h0M83.18 795.61h0M109.32 795.54h0M94.43 795.81h0M117.28 795.66h0M100.97 795.85h0M75.85 795.96h0M93.92 795.35h0M64.5 795.93h0M82.55 795.24h0M85.73 795.37h0M93.03 795.49h0M104.85 793.86h0M66.43 794.03h0M73.38 794.06h0M91.61 794.78h0M67.76 794.27h0M94.35 794.08h0M114.02 793.92h0M81.77 794.18h0M102.19 793.85h0M110.2 794.66h0M76.05 794.13h0M61.97 794.72h0M75.41 794.36h0M75.37 794.66h0M114.75 793.73h0M106.15 793.35h0M86.88 793.51h0M102.8 793.34h0M89.93 792.64h0M80.89 793.1h0M115.51 793.51h0M114.97 793.66h0M64.94 792.99h0M66.68 792.69h0M67.7 793.1h0M78.62 792.58h0M64.34 792.72h0M64.71 792.98h0M93.69 793.76h0M100.26 792.59h0M106.01 792.75h0M92.92 791.97h0M93.14 791.37h0M78.09 792.4h0M101.24 792.16h0M117.02 791.42h0M114.1 791.4h0M114.65 791.51h0M89.01 792.54h0M100.3 791.84h0M96.12 791.82h0M65.78 791.42h0M100.46 790.32h0M94.21 790.7h0M107.33 790.41h0M64.71 791.34h0M116.98 790.37h0M84.28 790.32h0M80.77 790.93h0M70.92 789.03h0M75.4 789.93h0M105.94 789.53h0M74.52 789.71h0M75.79 789.31h0M75.48 789.47h0M71.43 789.04h0M78.17 789.83h0M113.27 788.45h0M83.1 787.67h0M106.28 788.72h0M80.28 787.93h0M82.66 787.92h0M94.97 788.53h0M88.21 787.98h0M61.6 787.88h0M82.71 788.27h0M113.48 788.81h0M72.64 788.71h0M67.72 787.2h0M114.88 787.32h0M71.45 787.57h0M63.64 787.23h0M71.33 787.28h0M91.15 787.51h0M93.5 787h0M91.14 786.72h0M65.49 786.5h0M65.22 787.39h0M104.62 787.28h0M89.82 786.53h0M79.83 787.46h0M77.76 786.96h0M63.79 785.94h0M70.77 786.23h0M72.99 785.53h0M73.46 786.41h0M89.55 785.45h0M87.59 785.63h0M61.67 786.21h0M63.19 786.06h0M96.44 786.11h0M88.04 785.98h0M109.93 784.06h0M70.17 784.12h0M117.51 784.58h0M70.65 784.85h0M74.34 784.32h0M69.88 784.49h0M77.16 784.04h0M100.39 785.09h0M93.02 784.78h0M113.94 784.6h0M76.3 783.37h0M97.2 783.27h0M65.67 782.21h0M74.31 781.77h0M106.76 781.73h0M112.8 782.44h0M85.35 782.13h0M115.28 782.07h0M108.85 781.26h0M117.17 780.54h0M100.26 780.4h0M101.79 780.55h0M106.95 780.53h0M107.73 781.31h0M80.57 779.67h0M95.97 779.33h0M114.51 779.18h0M110.99 777.87h0M71.51 778.69h0M104.47 778.22h0M105.07 776.78h0M111.12 776.88h0M115.14 777.15h0M89.14 777.06h0M106.63 776.42h0M98.45 776.34h0M100.33 774.59h0M79.84 774.23h0M113.3 774.25h0M115.64 775.03h0M116.24 774.63h0M110.48 774.12h0M88.05 773.51h0M75.19 773.25h0M94.25 773.92h0M81.27 772.87h0M115.46 772.29h0M116.04 771.13h0M85.74 771.56h0M104.72 770.87h0M91.2 769.26h0M104.93 770.25h0M69.46 770.41h0M76.5 769.81h0M102.66 769.6h0M66.94 768.72h0M115.79 768.67h0M64.03 768.16h0M76.32 769.17h0M93.81 767.51h0M84.01 767.11h0M68.21 765.93h0M88.08 766.73h0M65 766.78h0M109.88 764.4h0M94.66 764.98h0M73.53 763.97h0M90.11 763.28h0M101.59 762.15h0M81.87 762.57h0M86.89 762.58h0M105.31 761.52h0M88.08 761.33h0M106.06 759.47h0M99.46 760.17h0M77.86 759.76h0M73.82 758.64h0M91.86 758.49h0M80.48 758.24h0M61.76 758.57h0M73.52 757.46h0M118.04 757.72h0M94.38 756.91h0M104.67 754.88h0M94.15 754.84h0M101.42 755.45h0M79.51 753.57h0M115.54 753.64h0M93.47 754.19h0M112.26 752.54h0M77.45 752.49h0M87.32 751.33h0M117.89 751.43h0M65.14 749.92h0M100.65 750.48h0M81.44 749.29h0M62.19 748.96h0M78.72 748.21h0M67.58 746.95h0M106.54 747.06h0M100.85 745.34h0M101.08 742.62h0M111.4 743.07h0M107.59 740.49h0M73.67 738.6h0M80.46 736.17h0M81.26 733.46h0M73.25 732.81h0M73.98 732h0M63.51 731.56h0M92.09 730.19h0M64.41 724.02h0M236.7 818.83h0M221.54 817.97h0M222.24 818.68h0M223.33 818.65h0M214.31 817.89h0M227.39 818.63h0M222.1 818.32h0M224.44 818.19h0M236.31 818.89h0M231.22 818.82h0M218.07 817.93h0M233.04 818.14h0M236.45 818.65h0M233.25 817.16h0M238.06 816.79h0M227.13 817.04h0M217.63 817.21h0M235.77 817.8h0M234.31 816.65h0M229.29 817.61h0M221.83 817.6h0M236.81 816.87h0M233.07 817.83h0M231.07 816.97h0M222.52 817.66h0M218.91 816.93h0M225.67 817.64h0M220.37 817.64h0M219.12 817.65h0M224.05 817.72h0M217.34 817.43h0M223.82 817.63h0M221.2 817.76h0M232.08 817.79h0M225.44 817.69h0M230.69 817.68h0M215.05 815.49h0M224.46 816.12h0M216.44 815.87h0M217.18 815.79h0M221.6 816.28h0M238.47 816.53h0M236.11 816.54h0M236.77 815.78h0M227.38 815.89h0M227.41 816.07h0M218.24 816.21h0M233.43 815.9h0M236.24 815.42h0M218.93 815.87h0M217.9 815.93h0M232.48 815.56h0M221.85 816.16h0M224.63 815.53h0M230.33 816.52h0M216.79 816.1h0M219.06 815.57h0M229.3 815.1h0M214.11 815.22h0M229.04 814.63h0M214.57 814.28h0M216.85 815.01h0M233.72 814.27h0M225.5 815.2h0M229.15 814.54h0M227.18 814.8h0M215.42 815.13h0M226.4 815.2h0M235.65 815.21h0M214.22 815.03h0M230.24 814.6h0M224.87 814.48h0M230.54 814.27h0M233.46 814.24h0M224.5 815.05h0M229.44 815.14h0M225.24 814.91h0M218.24 814.94h0M231.75 814.67h0M224.63 813.48h0M231.73 813.18h0M236.3 813.02h0M230.09 814.03h0M215.93 813.03h0M214.41 813.99h0M237.19 813.94h0M217.41 813.08h0M216.53 814.16h0M221.85 813.1h0M222.74 813.46h0M229.53 813.65h0M215.49 813.01h0M231.46 813.65h0M229.33 813.2h0M214.56 813.82h0M227.68 813.88h0M228.38 813.07h0M236.77 812.17h0M234.99 812.07h0M214.45 811.92h0M219.95 812.15h0M233.27 812.1h0M218.6 811.95h0M217.78 812.48h0M231.24 811.92h0M227.4 812.25h0M225.07 812.03h0M237.37 812.72h0M226.09 811.99h0M218.99 812.25h0M215.23 812.65h0M233.9 812.12h0M218.68 812.61h0M220.88 812.41h0M219.98 812.01h0M223.86 812.62h0M231.43 811.88h0M217.34 812.79h0M225.9 811.56h0M230.62 811.19h0M219.84 811.11h0M232.33 811.46h0M232.84 811.01h0M224.87 811.47h0M218.15 811.57h0M220.66 811.28h0M216.5 810.54h0M216.18 811.08h0M216.44 810.62h0M221.67 810.66h0M216.31 811.27h0M215.67 810.94h0M227.01 810.89h0M229.88 811.37h0M215.5 810.84h0M235.44 810.59h0M236.62 810.73h0M221.21 810.06h0M224.81 810.48h0M223.95 809.26h0M223.06 810.22h0M214.55 809.75h0M226.82 810.27h0M231 810.04h0M215.44 810.32h0M232.37 809.36h0M228.73 809.69h0M217.56 810.25h0M230.71 809.94h0M226.21 809.91h0M237.23 810.38h0M223.47 810.19h0M237.19 809.49h0M224.99 810.03h0M225.91 809.45h0M236.98 808.83h0M224.55 809.19h0M232.19 808.81h0M238.35 808.41h0M228.83 808.07h0M228.61 808.13h0M226.41 809h0M236.27 808.93h0M215.75 807.38h0M214.78 807.17h0M213.99 807.43h0M237.09 807.07h0M225.11 807.11h0M232.48 807.46h0M222.64 807.93h0M218.16 807.44h0M222.53 807.47h0M228.38 807.86h0M216.99 807.49h0M219.45 807.37h0M221.75 807.33h0M220.34 806.44h0M233.21 805.82h0M232.68 806.03h0M229.64 806.27h0M214.24 806.36h0M235.48 806.16h0M236.1 806.19h0M220.14 806.33h0M224.48 806.61h0M216.61 806.42h0M237.35 806.42h0M224.25 805.84h0M216.74 805.11h0M233.1 804.75h0M215.24 804.79h0M214.33 805.08h0M232.42 804.74h0M231.5 805.33h0M217.46 805.51h0M219.22 804.44h0M236.89 804.78h0M225.11 804.63h0M223.79 805.05h0M233.21 805.38h0M232.69 804.94h0M219.71 804.99h0M216.81 805.26h0M226.22 804.69h0M237.9 805.1h0M219.01 804.11h0M216.71 803.34h0M234.76 803.99h0M231.2 804.27h0M219.38 803.86h0M235.04 803.19h0M217.15 804.09h0M215.7 803.67h0M221.96 803.19h0M215.26 803.96h0M227.7 803.75h0M231.13 804.19h0M234.09 803.72h0M235.33 803.22h0M222.44 803.81h0M234.09 802.99h0M222.96 802.7h0M231.14 802.88h0M237.35 802.89h0M236.7 803.09h0M224.81 802.62h0M219.75 802.5h0M226.66 802h0M235.35 802.45h0M234.53 802.31h0M221.26 802.97h0M236.95 801.4h0M219.42 800.75h0M235.33 801.22h0M235.25 801.61h0M234.09 801.52h0M237.13 801.43h0M223.24 800.82h0M229.13 801.88h0M221.18 801.2h0M224.2 800.77h0M219.44 801.24h0M227.07 801h0M237.01 801.71h0M217.68 800.08h0M222.29 799.69h0M216 800.23h0M222.82 800.33h0M219.1 800.34h0M231.71 800.32h0M226.32 800.52h0M214.44 799.87h0M232.54 799.66h0M215.34 800.37h0M216.38 798.51h0M226.05 799.11h0M228.95 798.93h0M237.71 798.96h0M236.56 799.18h0M233.91 799.42h0M220.99 799.31h0M236.28 798.92h0M223.91 797.93h0M221.63 797.03h0M221.15 797.21h0M235.35 797.34h0M227.96 797h0M218.04 797.48h0M219.1 797.17h0M235.08 798.06h0M225.25 797.57h0M236.61 797.98h0M235.17 797.37h0M225.73 797.73h0M216.16 797.58h0M228.52 798.19h0M234.61 797.77h0M230.35 797.28h0M219.84 797.51h0M230.29 797.5h0M228.26 796.98h0M216.05 795.82h0M228.8 796h0M214.21 796.12h0M214.96 796.5h0M238.2 795.82h0M228.52 796.11h0M217.13 796.03h0M218.71 794.62h0M231.75 795.14h0M224.76 794.86h0M234.43 794.91h0M235.21 794.09h0M220.57 793.77h0M221.19 793.84h0M230.98 793.34h0M223.52 793.45h0M233.3 794.37h0M215.45 793.16h0M215.43 792.65h0M217.75 792.7h0M233.6 793.07h0M229.45 792.09h0M218.31 792.55h0M235.8 792.78h0M222.23 791.18h0M221.82 790.87h0M222.86 791.21h0M215.37 791.13h0M217 790.19h0M219.18 789.89h0M227.15 790.79h0M229.68 790.13h0M218.94 789.27h0M220.53 788.54h0M219.04 789.14h0M216.87 788.73h0M232.44 789.05h0M223.07 788.33h0M234.79 788.38h0M228.48 787.23h0M228.38 787.75h0M227.19 787.95h0M234.76 787.64h0M226.45 786.79h0M228.37 786.12h0M233.21 785.96h0M234.55 785.94h0M219.65 784.86h0M220.38 784.91h0M234.4 784.9h0M216.24 784.92h0M227.39 785.7h0M223.25 785.65h0M236.33 784.76h0M218.03 785.74h0M218.4 783.54h0M235.67 784.61h0M234.08 782.44h0M234.55 782.76h0M236.59 782.56h0M235.38 782.38h0M222.26 783.26h0M214 782.88h0M235.35 783.14h0M225.97 782.29h0M216.65 782.85h0M222.23 782.04h0M215.48 781.98h0M234.36 781.96h0M223.82 781.34h0M226.52 782.12h0M229.39 781.91h0M222.78 781.21h0M231.67 779.82h0M218.07 780.96h0M236.89 780.06h0M229.12 780.91h0M230.3 779.98h0M235.5 779.9h0M219.96 778.71h0M229.32 778.43h0M224.37 778.41h0M237.96 778.55h0M222.21 777.82h0M233.18 778.3h0M225.38 776.9h0M218.92 776.32h0M225.72 774.77h0M220.42 774.37h0M226.09 773.31h0M237.28 771.89h0M219.64 771.81h0M236.66 771.13h0M215.89 770.85h0M232.68 770.7h0M230.56 769.89h0M233.79 769.68h0M225.36 768.89h0M215.1 769.13h0M230.13 769.29h0M232.62 768.52h0M216.66 766.47h0M230.08 767.24h0M232.73 767.47h0M233.36 766h0M233.35 765.18h0M220.85 763.31h0M225.84 762.56h0M231.75 762.12h0M214.08 761.54h0M229.14 761.36h0M235.8 759.22h0M221.72 759.54h0M234.83 759.37h0M228.64 758.05h0M225.2 758.06h0M223.97 754.87h0M233.81 749.88h0M231.32 750.36h0M221.5 749.12h0M231.65 746.47h0M223.95 743.81h0M234.67 740.93h0M225.43 741.64h0M229.19 738.8h0M215.24 738.66h0M225.26 733.74h0M218.52 725.56h0M229.59 722.73h0M327.25 831.26h0M330.77 831.04h0M342.03 830.68h0M335.42 830.34h0M341.78 830.73h0M337.63 830.19h0M325.84 830.58h0M341.73 831.05h0M329.23 830.5h0M324.35 830.43h0M333.5 831.28h0M332.97 830.25h0M325.27 830.14h0M327.48 831.12h0M343.86 830.85h0M325.48 830.7h0M342.03 830.4h0M325.23 830.16h0M341.24 830.44h0M340.48 829.5h0M327.8 829.83h0M330.39 830.11h0M328.71 829.17h0M321.48 829.05h0M322.29 829.3h0M339.01 829.96h0M338.18 829.05h0M344.1 829.5h0M335.7 828.69h0M322.73 828.39h0M336.38 828.6h0M329.1 828.88h0M329 828.3h0M321.76 828.37h0M328.72 827.99h0M336.16 828.78h0M322.18 827.89h0M327.28 828.1h0M339.68 828.17h0M338 828.09h0M342.19 828.76h0M327.49 828.24h0M334.19 828.5h0M322.78 828.63h0M343.02 828.31h0M333.77 826.58h0M342.97 827.3h0M338.58 826.58h0M328.07 827.38h0M337.68 827.55h0M330.72 826.93h0M330.47 827.64h0M329.59 827.17h0M330.41 826.66h0M325.67 827.12h0M328.16 827.61h0M341.83 826.8h0M325.25 825.36h0M343.75 826.28h0M332.94 826.19h0M326.05 825.4h0M336.86 825.3h0M340.89 825.77h0M336.84 825.63h0M334.69 826.1h0M338.29 826.11h0M330.62 825.54h0M338.44 825.95h0M329.42 825.93h0M339.22 825.97h0M324 825.29h0M329.56 825.71h0M326.47 826.19h0M338.13 825.27h0M323.54 825.22h0M333.11 826.41h0M322.66 825.23h0M337.15 826.16h0M329.21 826.22h0M321.47 826.12h0M333.63 825.92h0M333.2 826.12h0M343.5 825.84h0M332.32 824.32h0M332.69 824.49h0M325.01 825.1h0M322.14 824.73h0M336.06 824.85h0M330.58 824.57h0M322.42 824.96h0M321.72 824.81h0M335.64 824.8h0M322.43 824.57h0M341 824.43h0M323.24 825.14h0M332.76 825.05h0M336.01 825.04h0M338.96 824.84h0M340.38 823.87h0M332.97 823.39h0M339.13 823.33h0M327.24 823.61h0M329.65 822.83h0M333.09 823.68h0M324.5 823.04h0M336.79 823.64h0M322.08 823.76h0M324.18 823.68h0M333.39 823.66h0M336.51 823.94h0M325.55 821.89h0M339.73 822.67h0M336 821.92h0M326.86 821.63h0M342.37 822.66h0M325.91 822.51h0M330.58 821.75h0M334.14 822.53h0M325.54 822.01h0M323.78 821.6h0M337.44 822.64h0M333.27 821.41h0M328.16 821.34h0M344.16 820.76h0M339.91 820.34h0M340.13 821.48h0M338.04 821.22h0M338.03 821.3h0M340.9 821.31h0M321.82 820.81h0M335.93 820.72h0M336.92 820.55h0M327.15 820.59h0M339.8 819.58h0M325.41 820.02h0M333.44 820.16h0M325.55 820.05h0M340.83 819.09h0M342.04 819.91h0M333.63 819.72h0M328.71 820.03h0M322.08 819.07h0M340.59 820.22h0M332.13 819.57h0M335.06 818.37h0M324.75 818h0M323.62 818.69h0M322.87 817.99h0M336.07 818.25h0M324.69 818.51h0M329.75 818.37h0M326.04 818.32h0M337.04 818.94h0M333.67 817.94h0M343.16 818.34h0M341.54 818.73h0M322.05 818.12h0M335.29 818.13h0M341.37 818.8h0M343.1 817.7h0M334.97 817.07h0M334.22 817.32h0M326.07 816.7h0M326.9 816.96h0M330.53 817.59h0M336.92 817.15h0M328.15 817.78h0M322.47 816.3h0M342.09 816.38h0M344.11 816.15h0M326.56 816.34h0M323.36 816.17h0M323.13 815.98h0M341.85 816.57h0M337.5 816.18h0M331.62 815.74h0M337.52 816.11h0M326.11 816.32h0M331.65 815.23h0M337.82 814.55h0M338.4 814.54h0M330.18 815.38h0M336.4 814.97h0M322.34 814.74h0M324.32 814.65h0M326.3 814.53h0M333.25 814.61h0M342.17 814.34h0M333.73 814.03h0M341.49 813.59h0M343.19 813.92h0M327.96 813.72h0M322.08 814.11h0M332.84 814.15h0M341.99 813.16h0M335.66 812.95h0M340.07 813.83h0M336.12 813.68h0M332.85 814.02h0M326.25 812.63h0M343.63 812.17h0M338.94 812.65h0M336.18 812.89h0M341.92 812.53h0M327.85 812.02h0M340.59 811.27h0M321.47 811.12h0M328.45 810.99h0M321.64 810.87h0M322.93 811.27h0M333.44 811.6h0M321.82 811.61h0M333.29 811.24h0M335.52 811.01h0M342.82 810.67h0M322.75 811.13h0M327.86 809.71h0M325.37 810.22h0M332.44 809.6h0M322.21 809.57h0M330.86 809.86h0M330.94 809.73h0M343.63 810.3h0M329.23 809.34h0M322.1 808.7h0M338.71 808.24h0M340.02 808.93h0M337.6 809.07h0M324.98 808.05h0M340.51 809.06h0M338.54 808.51h0M328.67 807.64h0M324.17 807.5h0M339.05 807.7h0M335.47 807.79h0M329.46 806.98h0M322.41 807.62h0M338.41 807.15h0M324.01 807.08h0M323.94 806.94h0M332.31 807.03h0M332.06 807.38h0M329.56 806.96h0M341.89 806.74h0M331.39 806.73h0M339.93 806.77h0M327.62 806.74h0M337.06 805.96h0M335.65 806.7h0M340.41 805.66h0M322.29 804.37h0M325.62 804.68h0M332.72 804.71h0M340.97 805.07h0M323.69 804.36h0M328.98 805.29h0M341.08 805.29h0M342.72 805.35h0M323.05 805.39h0M328.29 805.02h0M329.83 804.48h0M327.91 805.42h0M328.54 803.86h0M330.5 803.61h0M327.68 804h0M323.96 803.36h0M337.36 803.35h0M336.02 803.42h0M335.67 804.1h0M329.65 803.86h0M323.99 804.11h0M340.93 803.44h0M326.16 803.16h0M328.58 802.96h0M324.99 802.17h0M322.09 802.49h0M342.22 802.15h0M325.3 802.47h0M330.72 802.74h0M339.23 802.34h0M327.23 801.1h0M322.69 800.4h0M332.19 800.63h0M333.18 800.5h0M324.23 800.25h0M322.77 800.01h0M337.35 799.54h0M337.35 798.67h0M328.88 798.75h0M335.04 798.36h0M341.47 798.88h0M335.37 798.23h0M337.63 798.64h0M331.82 797.2h0M329.48 797.57h0M333.39 797.21h0M340.3 797.2h0M337.48 798.12h0M330.66 798.08h0M322.38 798.01h0M327.07 795.98h0M327.66 796.06h0M329.57 796.31h0M331.98 795.83h0M334.68 796.32h0M339.35 794.48h0M340.72 793.34h0M341.52 793.36h0M341.13 794.45h0M340.21 794.05h0M330.59 794.28h0M329.08 793.84h0M341.88 794.1h0M342.86 793.61h0M343.84 792.09h0M338.76 791.62h0M327.39 790.94h0M324.25 791.6h0M337.18 791.24h0M323.2 790.41h0M323.21 790.31h0M336.95 790.66h0M330.45 789.88h0M330.55 789.76h0M322.9 788.4h0M325.89 789.26h0M332.48 788.47h0M332.87 787.57h0M337.62 787.24h0M323.8 787.56h0M322.7 787.97h0M344.02 784.83h0M331.32 785.63h0M327.18 785.36h0M325.02 785.71h0M322.2 784.32h0M344.29 784.63h0M322.97 784.41h0M338.65 784.63h0M340.95 783.81h0M331.19 782.29h0M329.56 782.79h0M335.8 782.54h0M327.14 783.35h0M326.98 781.2h0M336.51 781.71h0M341.21 781.86h0M322.53 780.46h0M336.91 780.66h0M321.76 779.06h0M339.23 779.78h0M333.35 778.07h0M330.4 776.62h0M341.46 776.94h0M330.66 775.25h0M326.09 775.48h0M335.01 770.12h0M340.07 767.97h0M322.39 766.35h0M328.41 767.46h0M323.14 763.97h0M331.01 762.47h0M344.28 754.51h0M332.95 751.3h0M322.95 747.06h0M326.51 739.07h0M327.81 736.98h0M327.17 723.49h0M442.88 811.02h0M439.29 810.65h0M442.28 811.15h0M443.42 810.75h0M446.69 811.61h0M443.26 810.7h0M442.95 811.28h0M446.14 810.53h0M443.72 810.28h0M441 810.28h0M442.65 810.03h0M446.93 810.16h0M442.8 809.82h0M443.04 809.76h0M440.43 809.28h0M445.51 810.16h0M440.03 809.97h0M439.38 809.82h0M444.26 809.09h0M445.69 808.93h0M446.51 808.99h0M445.73 809.06h0M440.81 807.05h0M441.45 807.64h0M443.12 808.02h0M446.14 807.54h0M445.55 807.52h0M446.98 807.13h0M445.85 807.82h0M441.47 807.72h0M446.64 807.92h0M440.67 806.9h0M439.81 806.86h0M446.08 807.95h0M440.95 806.12h0M441.25 805.6h0M443.17 805.98h0M446.96 805.73h0M439.11 806.17h0M440.93 806.37h0M446.06 806.17h0M443.01 806.2h0M441.05 804.81h0M445.63 805.48h0M439.59 805.25h0M442.45 804.43h0M443.84 805.05h0M446.76 803.71h0M443.73 803.65h0M440.78 803.67h0M444.95 803.18h0M440.05 803.45h0M440.47 804.09h0M441.4 802.26h0M444.75 802.62h0M446.47 802.41h0M443.33 803.02h0M444.85 801.08h0M445.67 800.97h0M441.29 801.17h0M440.94 801.55h0M441.14 801.54h0M443.94 800.57h0M442.31 800.05h0M440.78 800.26h0M445.96 799.63h0M443.02 800.04h0M445.09 799.37h0M440.4 798.91h0M439.34 799.36h0M444.5 799.02h0M440.31 798.43h0M440.04 797.94h0M442.44 797.38h0M444.82 798.18h0M444.13 797.87h0M444.96 797.78h0M439.68 796.26h0M440.45 796.43h0M441.16 795.83h0M446.17 796.45h0M446.22 795.44h0M441.62 795.35h0M441.16 794.24h0M442.39 793.99h0M441.29 793.64h0M441.37 794.18h0M441.28 792.26h0M439.31 792.13h0M442.54 790.97h0M443.04 791.23h0M444.42 791.36h0M442.77 791.07h0M440.74 792.03h0M446.73 791.07h0M442.71 791.37h0M444.39 790.49h0M444.83 790.4h0M445.75 790.47h0M440.24 790.09h0M441.95 788.79h0M445.26 788.47h0M444.96 788.78h0M439.76 789.3h0M441.56 788.44h0M446.12 789.35h0M439.65 788.82h0M439.54 789.14h0M443.7 787.58h0M442.14 788.16h0M443.99 786.58h0M443.94 786.31h0M444.21 785.56h0M446.49 785.21h0M443.8 785.81h0M441.69 784.02h0M444.59 784.49h0M443.44 782.43h0M439.18 782.98h0M442.16 783.41h0M444.99 781.39h0M445.69 781.19h0M443.96 781.88h0M440.73 781.02h0M446.48 780h0M446.63 780.05h0M439.19 779.93h0M445.63 780.96h0M444.43 779.31h0M445.3 779.55h0M439.95 778.73h0M446.86 778.3h0M440.5 778.22h0M440.96 777.4h0M440.79 778.1h0M440.26 777.83h0M442.34 778.01h0M445.61 775.05h0M441.74 771.9h0M441.78 772.21h0M444.03 767.56h0M445.2 767.71h0M445.98 767.54h0M446.46 767.18h0M446.3 766.43h0M446.3 765.69h0M445.55 763.92h0M446.88 764.9h0M442.52 765.03h0M446.53 761.64h0M439.59 759.19h0M443.29 757.76h0M441.95 750.03h0M441.11 749.79h0M443.84 746.01h0M443.85 742.9h0M442.88 736.49h0M443.94 727.05h0M539.99 827.84h0M515.2 827.95h0M530.29 828.26h0M528.97 827.86h0M544.68 828.58h0M522.43 827.86h0M536.09 828.82h0M538.37 828.17h0M518.03 827.66h0M538.64 828.16h0M538.01 828.86h0M518.13 827.75h0M542.63 828.3h0M545.46 828.16h0M531.58 828.48h0M534.56 828.05h0M516.77 828.29h0M519.12 828.65h0M531.62 827.95h0M519.78 828.68h0M531.31 828.32h0M544.27 827.91h0M525.36 828.82h0M543.57 828.34h0M521.16 828.47h0M517.82 828.56h0M528.62 828.79h0M517.4 828.64h0M522.41 828.37h0M516.92 827.11h0M543.8 827.21h0M546.02 827.29h0M547.46 827.24h0M517.61 827.35h0M527.4 827.22h0M527.16 827.2h0M532.91 827.12h0M518.89 827.45h0M518.7 827.2h0M524.32 827.1h0M540.13 826.68h0M523.35 827.46h0M515.1 826.58h0M541.03 827.01h0M545.05 827.54h0M529.29 827.26h0M539.05 827.44h0M537.53 826.64h0M528.26 827.28h0M548.33 827.08h0M521.92 826.77h0M548.28 826.99h0M536.55 826.34h0M541.37 826.23h0M548.32 825.42h0M517.11 826.35h0M524.08 825.95h0M537.81 826.41h0M528.99 826.25h0M545.1 826.24h0M521.99 825.81h0M540.67 825.64h0M524.4 825.26h0M539.95 825.45h0M536.28 825.5h0M526.8 825.81h0M522.28 826.05h0M536.68 825.51h0M515.51 825.52h0M519.04 825.82h0M538.91 825.76h0M520.8 826h0M532.99 823.99h0M534.26 824.41h0M520.84 824.33h0M526.77 825.19h0M538.6 824.2h0M521.2 824.78h0M544.28 824.11h0M538.28 824.81h0M530.27 825.08h0M521.39 825.05h0M539.51 824.98h0M528.58 824.14h0M516.51 825.01h0M521.15 824.79h0M540.49 824.72h0M540.03 823.99h0M524.45 824.1h0M519.25 824.84h0M540.46 824.64h0M547.23 824.41h0M516.41 824.76h0M523.33 824.84h0M521.81 824.36h0M529.39 823.93h0M539.88 823.52h0M542.79 823.64h0M534.56 823.84h0M540.15 823.41h0M547.2 823.61h0M528.78 823.88h0M548.67 823.86h0M538.8 823.39h0M546.44 823.13h0M548.16 823.93h0M544.42 823.38h0M519 823.48h0M531.74 823.15h0M542.92 823.82h0M516.02 823.56h0M547.43 823.92h0M534.52 822.87h0M536.51 823.1h0M517.59 822.5h0M536.43 822.48h0M540.19 821.79h0M528.78 821.54h0M530.14 821.66h0M528.59 822.15h0M523.36 821.93h0M540.35 821.59h0M521.06 822.16h0M517.3 822.62h0M532.31 822.5h0M537.4 822.15h0M535.43 821.6h0M529.99 822.3h0M536.11 822.65h0M526.99 822.42h0M534.28 821.82h0M535.7 822.53h0M545.99 821.75h0M523.3 822.72h0M522 822.44h0M522.34 822.36h0M517.76 822.12h0M536.88 822.01h0M540.65 822.52h0M518.71 822.5h0M519.65 822.04h0M531 820.73h0M521.44 821.07h0M542.27 820.61h0M540.27 820.54h0M538.23 820.49h0M533.81 821.08h0M528.05 820.43h0M536.74 821.33h0M524.67 820.89h0M546.32 820.68h0M515.39 820.74h0M546.12 820.61h0M515.48 821.11h0M528.45 820.87h0M534.69 821.52h0M531.88 820.74h0M531.9 820.75h0M547.09 820.57h0M533.82 820.5h0M546.6 820.85h0M545.03 821.32h0M527.09 819.7h0M542.99 819.94h0M547.8 819.71h0M544.81 820.2h0M525.98 819.52h0M521.03 820.23h0M539.18 819.8h0M516.84 819.91h0M542.17 819.1h0M521.83 819.66h0M525.69 820.23h0M547.44 819.37h0M532.35 819.11h0M521.19 819.77h0M541.05 819.9h0M537.3 819.87h0M523 819.54h0M525.99 819.15h0M548.83 820.28h0M515.07 819.17h0M542.8 819.18h0M544.5 819.59h0M548.57 820.2h0M544.56 819.37h0M549.07 818.92h0M531.87 818.97h0M545.62 818.97h0M519.53 818.06h0M539.84 818.54h0M520.89 818.38h0M545.41 817.95h0M541.73 818.44h0M538.38 818.84h0M520.33 817.99h0M546.86 818.74h0M541.32 818.7h0M537.87 818.24h0M541.65 818.04h0M527.72 818.71h0M524.53 816.95h0M534.57 816.64h0M528.72 816.93h0M528.33 816.85h0M529.05 816.88h0M515.24 817.74h0M530.09 817.76h0M542.93 817.25h0M526.79 817.8h0M535.66 817.73h0M537.66 817.62h0M539.19 817.46h0M544.68 817.04h0M530.09 817.56h0M541.79 815.64h0M518.6 816.44h0M539.53 815.83h0M519.27 816.17h0M545.12 815.77h0M546 815.96h0M533.1 816.02h0M518.04 815.63h0M532.23 816.4h0M528.05 815.59h0M526.23 816.52h0M520.79 815.74h0M519.39 815.78h0M515.31 815.48h0M539.61 815.99h0M545.48 816.04h0M529.99 815.89h0M546.78 816.61h0M528.86 815.55h0M537.17 815.76h0M534.78 816.09h0M533.67 816.12h0M521.66 816.22h0M529.34 816.46h0M517.35 816.22h0M541.04 816.6h0M525.83 816.29h0M534.47 814.4h0M520.54 814.62h0M530.49 814.77h0M534.6 814.26h0M522.93 814.71h0M536.95 814.84h0M532.79 814.26h0M520.62 815.05h0M519.75 814.21h0M526.29 814.6h0M523.69 815.27h0M523.24 814.3h0M536.35 814.98h0M518.79 812.97h0M531.35 813.58h0M517.74 813.3h0M522.03 812.94h0M530.98 813.54h0M517.05 814.07h0M527.57 813.91h0M529.49 813.23h0M545.81 813.65h0M524.33 813.14h0M543.99 813.76h0M535.81 814.15h0M530.79 813.98h0M546.64 814.06h0M533.51 814.09h0M533.42 813.02h0M529.86 814.15h0M536.16 812.85h0M528.71 812.71h0M522.99 812.28h0M533.02 812.32h0M535.9 812.36h0M524.62 812.06h0M523.93 811.87h0M522.11 811.89h0M535.46 812.43h0M529.36 812.23h0M517.32 811.93h0M521.39 811.75h0M534.76 812.82h0M528.74 812h0M548.56 812.09h0M517.82 811.68h0M520.62 810.98h0M524.43 811.66h0M527.2 810.82h0M545.62 810.78h0M526.9 810.63h0M545.38 810.68h0M541.77 810.64h0M521.08 811.29h0M529.36 811.37h0M529.72 811.3h0M532.83 810.2h0M543.79 809.73h0M547.7 810.21h0M548.03 809.85h0M533.61 809.27h0M521.61 809.97h0M524.29 809.44h0M544.73 809.84h0M528.16 809.79h0M523.93 810h0M517.05 809.7h0M549.18 809.68h0M546.96 810.32h0M530.53 809.58h0M515.18 809.4h0M515.06 808.91h0M542.78 809.09h0M519.83 808.6h0M546.82 809.22h0M521.76 808.34h0M522.63 809.15h0M527.78 808.16h0M532.75 808.37h0M542.75 807.59h0M531.2 807.49h0M543.22 807.88h0M526.5 807.17h0M521.01 806.95h0M535.9 807.83h0M517.95 806.83h0M518.73 806.98h0M521.35 807.74h0M526.08 808h0M526.38 806.66h0M522.89 806.03h0M534.51 806.08h0M517.94 806.39h0M546.57 806.16h0M515.21 805.82h0M541.63 805.75h0M518.36 805.74h0M540.23 805.09h0M544.84 804.87h0M548.86 805.44h0M539.15 804.82h0M523.01 805.02h0M528.88 804.51h0M540.64 805.09h0M519.7 805.27h0M517.74 804.91h0M542.89 803.21h0M524.13 804.05h0M525.17 803.44h0M528.22 803.89h0M524.07 803.72h0M541.38 803.99h0M541.79 803.86h0M537.65 803.15h0M521.74 803.26h0M535.05 803.2h0M547.11 804.04h0M542.02 803.39h0M527.65 802.71h0M541.99 803.05h0M532.61 802.16h0M527.75 802.25h0M543.03 803.11h0M520.61 802.96h0M545.59 802h0M519.61 802.22h0M518.04 801.01h0M547.49 801.01h0M527.22 800.89h0M519.33 800.98h0M517.18 801.53h0M541.73 801.54h0M541.18 801.01h0M517.85 801.83h0M525.34 800.71h0M545.4 800.78h0M536.61 799.48h0M547.03 800.4h0M529.35 799.75h0M523.27 800.55h0M522.65 799.79h0M538.79 799.82h0M515.34 800.65h0M537.86 800.18h0M524.13 800.48h0M530.29 800.45h0M538.42 798.7h0M546.5 798.22h0M543.34 799.01h0M516.87 798.94h0M533.7 798.69h0M521.21 799.01h0M530.85 798.67h0M536.71 797.39h0M547.3 798.08h0M532.5 797.76h0M544.23 797.12h0M533.35 797.74h0M524.11 797.66h0M515.55 797.5h0M522.39 798.06h0M543.81 797.36h0M543.11 797.58h0M548.95 797.09h0M529.94 797.32h0M531.05 796.1h0M521.33 796.11h0M522.89 796.19h0M544.92 796.56h0M517.8 796.93h0M543.61 796.72h0M528 795.82h0M549.11 796.72h0M516.72 796.93h0M545.78 796.8h0M541.84 794.57h0M530.62 795.71h0M521.89 795.15h0M539.61 794.71h0M534.58 795.73h0M523.88 795.15h0M518.06 795.09h0M537.22 794.7h0M516.99 793.8h0M527.67 793.73h0M517.38 793.78h0M519.27 794.49h0M541.9 793.58h0M527.54 793.86h0M524.28 793.34h0M528.22 793.73h0M525.56 794.15h0M544.17 794.51h0M530.8 793.89h0M536.34 793.85h0M526.07 794.27h0M522.66 792.53h0M543.9 792.15h0M540.73 792.24h0M516.5 792.41h0M522.23 792.16h0M547.81 791.52h0M515.53 791.44h0M547.98 791.22h0M544.98 791.5h0M527.86 791.45h0M545.25 791.9h0M516.89 791.62h0M529.18 791.68h0M538.17 790.12h0M518.25 790.48h0M532.6 790.17h0M518.47 790.32h0M546.05 789.75h0M539.68 789.85h0M546.03 790h0M535.66 789.86h0M546.72 790.76h0M524.56 790.77h0M519.42 790.54h0M524.87 788.61h0M519.93 789.62h0M530.56 787.77h0M541.28 788.07h0M526.25 787.76h0M540.12 787.82h0M520.27 787.62h0M543.52 787.42h0M521.77 787.68h0M534.46 787.09h0M521.52 787.1h0M517.5 787.12h0M547.11 786.67h0M544.54 785.29h0M543.56 785.85h0M527.89 785.26h0M518.66 785.01h0M525.91 784.35h0M532.58 782.58h0M528.22 783.29h0M537.27 783.46h0M534.53 782.76h0M518.08 782.94h0M543.68 781.27h0M542.37 781.16h0M521.13 781.85h0M539.82 781.49h0M544.04 780.02h0M538.23 780.13h0M537.49 778.97h0M534.68 778.84h0M520.8 778.25h0M528.52 777.06h0M532.65 775.12h0M532.68 775.07h0M529.82 774.53h0M515.03 773.63h0M525.22 773.01h0M520.07 773.34h0M540.29 773.59h0M540.66 771.79h0M539.36 770.25h0M540 769.42h0M543.93 768.4h0M541.58 767.91h0M542.1 768.06h0M524.64 766.5h0M538.1 767h0M536.64 767.49h0M519.33 765.21h0M521.97 765.49h0M543.58 761.92h0M539.46 760.27h0M546.23 758.2h0M541.48 756.8h0M523.02 755.34h0M546.99 754.62h0M547.45 753.47h0M533.41 752.86h0M515.65 751h0M521.15 749.82h0M515.2 748.91h0M518.06 748.25h0M522.35 748.59h0M522.96 745.79h0M543.41 744.75h0M527.01 742.1h0M525.22 739.79h0M545.51 737.48h0M520.33 736.09h0M539.07 734.69h0M523.89 730.32h0M542.86 722.23h0M621.35 828.08h0M621.69 827.77h0M622.43 828.31h0M623.13 828.65h0M624.13 828.05h0M620.05 826.5h0M623.67 827.55h0M621.46 825.87h0M621.72 825.47h0M620.57 825.62h0M624.15 826.14h0M624.34 824.27h0M620.06 824.81h0M621.1 825.15h0M621.52 824.78h0M622.57 822.99h0M621.51 823.97h0M621.59 823.42h0M621.18 821.79h0M623.79 822.01h0M620.15 821.13h0M621.99 820.35h0M622.53 820.52h0M620.43 820.84h0M621.45 820.69h0M624.28 821.48h0M623.8 820.49h0M624.87 820.62h0M621.99 819.86h0M622.64 819.29h0M620.99 818.67h0M624.43 818.04h0M623.2 818.28h0M623.65 818.87h0M623.57 818.47h0M623.34 817.02h0M620.89 817.82h0M620.82 817.72h0M620.31 817.17h0M621.4 817.59h0M623.02 817.26h0M620.26 816.96h0M623.1 815.42h0M621.04 816.15h0M623.54 816.14h0M623.65 814.5h0M623.41 814.81h0M622.41 813.19h0M623.45 813.43h0M620.73 814.07h0M620.19 813.39h0M620.56 814.09h0M624.47 812.72h0M621.71 811.81h0M620.02 811.99h0M620.45 812.11h0M621.67 812.71h0M621.42 809.89h0M620.36 809.16h0M624.85 807.3h0M621.92 807.05h0M620.85 806.88h0M621.98 807.06h0M622.72 807.75h0M624.8 805.7h0M623.99 806.75h0M621.26 804.89h0M622.32 804.1h0M624.47 804.05h0M623.83 802.71h0M620.02 801.7h0M622.93 800.65h0M622.32 800.39h0M623.84 800.19h0M623.72 797.91h0M624 796.46h0M620.14 796.95h0M621.89 795.31h0M621.44 794.25h0M622.14 793.11h0M621.94 792.68h0M620.29 791.26h0M624.72 791.92h0M624.16 790.33h0M622.95 789.96h0M624.59 786.68h0M624.12 785.66h0M624.05 782.06h0M622.72 781.63h0M622.1 780.68h0M621.22 778.69h0M622.21 769.74h0M622.9 769.22h0M620.09 746.27h0" stroke="#7ccfe2" stroke-width="3.8" stroke-linecap="round" fill="none"/>
<path d="M128.14 804.28h0M147.9 804.99h0M154.98 804.67h0M124.06 804.4h0M129.87 804.3h0M146.54 804.08h0M122.47 804.15h0M149.2 805.04h0M127.68 804.91h0M126.3 805.05h0M154.99 804.5h0M129.76 804.69h0M127.06 804.07h0M142.61 804.3h0M121.98 803.94h0M134.22 804.39h0M129.51 804.07h0M127.09 804.21h0M155.36 804.48h0M130.47 804.79h0M144.75 803.96h0M127.13 805h0M130.87 804.79h0M145.69 804.05h0M151.62 803.76h0M127.24 803.82h0M150.87 803.28h0M147.32 803.1h0M146.48 802.92h0M150.19 803.79h0M126.26 803.67h0M121.42 803.81h0M134.15 802.78h0M122.08 803.75h0M142.12 802.82h0M121.75 802.73h0M130.75 803.72h0M124.45 803.62h0M143.52 803.61h0M126.49 803.65h0M133.96 803.2h0M140.91 803.67h0M134.41 803.23h0M121.84 803.27h0M127.38 803.1h0M120.74 803.44h0M141.61 802.77h0M139.96 803.37h0M125.17 802.7h0M130.5 801.86h0M142.31 802.23h0M136.56 802.39h0M156.03 801.58h0M133.6 802.31h0M127.25 801.78h0M127.57 801.59h0M132.65 801.95h0M120.44 802.63h0M132.25 802.63h0M156.19 802.29h0M122.76 801.85h0M128.79 801.75h0M146.49 802.04h0M154.16 801.58h0M131.87 802.11h0M131.69 802.14h0M137.11 801.72h0M125.89 801.79h0M155.3 801.67h0M142.66 802.38h0M121.68 802.43h0M127.02 802.12h0M141.06 801.73h0M155.34 801.8h0M123.95 802.56h0M136.98 802.59h0M145.08 801.62h0M151.31 801.96h0M124.48 802.17h0M121.32 801.84h0M121.48 802.35h0M122.71 802.43h0M125.02 801.98h0M150.15 801.89h0M149.42 800.78h0M153.63 800.92h0M134.77 800.81h0M133.3 800.81h0M122.07 800.18h0M123.27 800.91h0M125.84 800.57h0M135.68 801.22h0M147.97 800.66h0M131.05 800.86h0M152.47 800.95h0M120.81 801.14h0M137.83 800.32h0M125.31 801.24h0M147.44 800.31h0M144.77 801.32h0M136.5 801.14h0M122.24 800.66h0M132.5 800.25h0M148.57 801.23h0M121.74 801.27h0M137.37 800.6h0M148.94 800.3h0M122.03 801.15h0M137.38 800.66h0M153.5 801.03h0M143.62 801.15h0M150.23 799.97h0M143.67 799.57h0M133.72 799.73h0M155.58 799.96h0M125.04 799.43h0M141.98 799.31h0M148.19 799.42h0M152.04 799.43h0M135.08 798.99h0M133.91 799.38h0M133.62 799.67h0M133.13 799.38h0M150.97 799.74h0M144.81 799.19h0M134.34 799.14h0M129.47 799.39h0M124.03 799.79h0M153.66 799.2h0M134.06 799.8h0M125.53 800.03h0M152.6 799.39h0M129.59 800.07h0M128.55 799.24h0M133.14 799.1h0M127.68 799.59h0M135.73 799.82h0M133.16 798.43h0M133.39 797.76h0M151.74 797.82h0M124.95 798.24h0M123.65 797.96h0M123.91 798.26h0M135.22 798.83h0M156.21 798.76h0M152.79 798.24h0M147.76 797.77h0M137.47 798.16h0M144.56 797.99h0M139.53 798.75h0M139.01 798.44h0M145.27 798.07h0M123.76 797.05h0M122.9 796.64h0M148.15 797.39h0M144.48 797h0M139.19 797.21h0M137.09 797.47h0M144.79 797.41h0M125.37 797.59h0M139.64 797.48h0M120.51 797.01h0M150.56 796.51h0M126.13 797.26h0M155.67 796.71h0M147.69 797.5h0M154.23 796.72h0M124.75 797.47h0M128.75 797.52h0M135.77 796.4h0M150.63 795.34h0M131.83 796.46h0M131.63 796.04h0M141.71 796.33h0M134.18 795.46h0M124.2 796.28h0M148.03 796.48h0M146.54 796.21h0M123.41 795.52h0M131.79 796.26h0M147 795.55h0M136.71 796.12h0M137.43 796.06h0M129.85 795.52h0M153.61 795.5h0M155.03 795.76h0M126.58 795.34h0M127.64 795.28h0M124.78 795.51h0M136.36 796.12h0M144.97 795.46h0M140.12 794.76h0M140.8 794.78h0M121.01 794.91h0M132.52 794.44h0M134.04 794.66h0M122.27 794.94h0M131.16 794.9h0M121.47 795.13h0M121.11 794.68h0M133.41 794.19h0M139.38 794.72h0M124.06 795.24h0M140.49 794.3h0M132.81 794.66h0M138.56 794.35h0M150.57 794.3h0M146.6 794.17h0M128.51 794.03h0M152.13 793.14h0M130.33 793.09h0M146.01 793.94h0M122.59 793.14h0M139.45 792.89h0M137.71 794h0M124.17 793.63h0M154.14 792.95h0M136.49 793.89h0M144.67 793.7h0M132.44 793.91h0M137.47 793.54h0M141.92 793.51h0M154.03 792.89h0M150.32 792.93h0M129.22 793.76h0M143.62 793.48h0M133.02 793.3h0M131.68 792.82h0M123.68 794.02h0M146.78 793.78h0M121.91 793.01h0M140.86 791.81h0M146.82 792.72h0M150.64 791.79h0M122.61 792.76h0M138.01 791.92h0M156.16 791.72h0M144.79 792.26h0M145.44 792h0M143.49 792.36h0M152.89 792.73h0M149.37 791.93h0M127.8 792.25h0M144.97 792.26h0M124.32 792.14h0M134.76 792.81h0M128.59 792.51h0M135.41 792.54h0M153.36 791.96h0M121.15 791.98h0M142.38 791.75h0M142.55 791.92h0M132.65 792.38h0M144.37 792.73h0M144.99 792.75h0M144.51 791.7h0M149.57 792.07h0M133.08 791.19h0M134.66 790.37h0M145.34 791.25h0M131.43 791.47h0M124.89 791.1h0M135.67 790.85h0M132.65 790.6h0M127.46 790.39h0M128.57 790.93h0M131.29 791.57h0M130.92 790.49h0M139.32 790.99h0M139.71 791.26h0M133.01 791.51h0M149.84 791.24h0M145.7 790.64h0M151.68 790.86h0M122.39 790.68h0M147.4 791.43h0M156.11 790.56h0M126.1 790.63h0M123.64 789.35h0M123.13 789.65h0M154.65 790.24h0M146.29 790.2h0M120.44 789.71h0M122.59 789.39h0M149.95 789.27h0M136.51 789.75h0M145.67 790.33h0M139.39 790.31h0M144.88 789.22h0M146.43 790.22h0M132.29 789.5h0M141.29 789.41h0M139.38 789.85h0M130.77 790.02h0M133.02 789.27h0M133.64 789.41h0M120.45 790.13h0M147.53 789.18h0M141.66 789.15h0M135.56 788.53h0M154.74 788.68h0M150.26 788.75h0M124.11 788.48h0M142.4 789.1h0M122.22 788.06h0M128.79 788.27h0M150.47 788.29h0M129.23 788.24h0M155.31 788.94h0M127.75 787.47h0M142.64 787.37h0M123.88 787.1h0M122.43 787.25h0M149.57 787.36h0M150.09 787.58h0M134.6 787.61h0M120.53 786.93h0M139.77 787.23h0M154.62 787.03h0M128.47 787.05h0M154.4 785.79h0M120.55 786.42h0M123.42 786.52h0M142.28 785.69h0M124.53 786.09h0M125.34 785.89h0M141.84 786.51h0M149.31 785.89h0M125.35 785.66h0M125.6 786.31h0M121.42 786.08h0M145.01 785.61h0M138.03 785.69h0M150.54 785.56h0M154.79 784.62h0M125.66 784.83h0M122.76 784.75h0M123.29 784.88h0M149.92 784.94h0M151.21 784.54h0M136.32 784.89h0M148.89 785.38h0M135.13 784.75h0M136.95 785.27h0M124.73 785.37h0M135.74 785.35h0M150.27 785.28h0M151.7 784.7h0M126.16 784.77h0M150.71 785.11h0M143.73 784.73h0M120.97 783.97h0M149.55 784.19h0M125.95 783.16h0M141.2 784.21h0M142.58 783.92h0M147.37 783.11h0M142.3 783.88h0M147.82 783.87h0M151.79 783.91h0M152.6 783.39h0M154.85 783.8h0M129.69 783.51h0M130.26 782.07h0M154.06 782.55h0M150.53 781.98h0M142.19 781.79h0M142.87 781.85h0M132.09 782.28h0M140.97 782.53h0M143.58 782.69h0M136.27 781.62h0M154.58 780.68h0M141.15 781.41h0M136.79 781.13h0M148.89 781.55h0M128.63 781.67h0M127.73 781.43h0M123.28 781.53h0M126.61 781.13h0M142.07 780.98h0M137.74 781h0M131.07 781.02h0M145.26 781.2h0M146.87 781.51h0M141.74 780.52h0M142.63 779.66h0M136.15 779.58h0M142.2 779.63h0M140.2 779.77h0M140.62 779.72h0M144.77 780.43h0M135.85 779.68h0M137.76 779.35h0M138.86 780.34h0M126.37 780.1h0M126.8 779.45h0M126.54 779.67h0M156.38 779.91h0M151.41 780.43h0M155.69 780.54h0M136.59 779.43h0M142.02 778.14h0M140.16 778.98h0M122.08 778.25h0M138 778.52h0M126.15 778.96h0M136.2 779.03h0M142.11 778.8h0M142.78 778.98h0M149.12 778.74h0M128.96 778.33h0M140.13 778.12h0M129.59 778.91h0M120.96 776.88h0M149.95 778.02h0M121.46 777.75h0M138.28 777.87h0M121.12 777.05h0M120.86 777.89h0M131.78 778.02h0M155.37 777.49h0M151.25 777.29h0M153.26 777.36h0M129.06 777.26h0M137.72 777.63h0M153.76 777.95h0M127.63 777.5h0M149.47 777.49h0M141.56 776.02h0M156.34 775.94h0M156.37 776.45h0M138.8 776.3h0M123.47 776.64h0M124.12 776.07h0M123.44 776.82h0M148.76 774.61h0M148.56 775.33h0M125.03 775.51h0M127.06 775.01h0M130.65 774.95h0M136.04 774.48h0M154.51 774.63h0M148.15 775.08h0M134.82 775.03h0M144.17 775.48h0M145.23 774.5h0M138.88 773.82h0M146.83 774.23h0M134.96 774.1h0M141.97 774.1h0M145.09 773.88h0M143.13 772.99h0M128.4 773.04h0M121.3 773.02h0M155.22 772.07h0M120.86 772.73h0M144.33 772.28h0M148.07 773.13h0M128.81 773.1h0M148.1 772.23h0M139.33 771.72h0M137.02 771.22h0M140.76 771.17h0M135.24 771.16h0M139.59 770.92h0M155.99 770.87h0M142.32 770.05h0M129.04 770.2h0M145.55 770.35h0M131.91 769.64h0M136.57 770.34h0M143.23 770.2h0M148.11 769.8h0M146.59 769.73h0M130.45 769.49h0M154.74 768.92h0M152.99 769.33h0M148.96 768.31h0M121.09 769.16h0M122.87 768.42h0M154.29 769.13h0M150.14 768.67h0M126.83 768.48h0M125.49 767.46h0M122.52 767.96h0M141.56 767.56h0M135.55 767.4h0M146.48 767.12h0M137.27 765.89h0M147.92 766.79h0M151.25 766.28h0M129.62 766.37h0M137.23 766.47h0M141.36 766.61h0M129.54 766.86h0M121.38 766.9h0M129.21 764.78h0M145.06 764.65h0M146.81 765.6h0M134.31 765.63h0M132.48 765.35h0M126.2 765.38h0M123.77 765.33h0M133.17 764.84h0M132.24 764.15h0M120.67 763.83h0M123.09 763.67h0M137.91 764.07h0M143.23 763.56h0M144.46 764.41h0M142.68 764.3h0M154.91 764.08h0M130.21 764.04h0M154.97 764.21h0M146.5 762.96h0M145.35 762.76h0M123.74 762.54h0M126.8 763.3h0M126.98 762.99h0M147.76 761.49h0M123.8 761.94h0M131.13 760.31h0M138.68 759.95h0M134.46 758.68h0M124.22 758.67h0M154.17 758.37h0M156.5 757.31h0M136.4 756.44h0M121.92 756.4h0M124.47 756.87h0M137.7 756.29h0M120.47 755.52h0M121.73 755.93h0M152.11 754.82h0M142.46 754.24h0M143.96 754.27h0M144.04 754.35h0M138.07 754.52h0M146.23 753.25h0M137.6 753.35h0M121.32 751.4h0M130.2 751.75h0M146.85 751.64h0M138.7 751.27h0M123.26 751.47h0M153.96 751.51h0M127.52 750.88h0M139.02 750.12h0M142.6 751.05h0M126.97 748.7h0M137.01 749.24h0M126.45 748.41h0M135.68 745.02h0M153.88 745.63h0M122.92 744.58h0M147.4 744.06h0M124.62 744.22h0M142.85 742.75h0M146.86 742.06h0M123.35 738.54h0M150.82 737.8h0M120.75 736.68h0M146.9 733.72h0M151.23 732.6h0M143.84 730.56h0M147.82 730.44h0M155.66 730.85h0M148.86 729.45h0M152.11 727.91h0M121.43 728.58h0M140.55 726.6h0M136.23 725.74h0M130.32 726.29h0M122.4 723.71h0M122.68 721.91h0M137.1 722.53h0M241.67 807.89h0M269.26 807.47h0M261.56 806.87h0M251.93 807.74h0M253.8 807.77h0M241.44 807.08h0M247.01 807.39h0M264.42 807.27h0M251.02 807.09h0M240.93 806.93h0M244.96 807.67h0M255.15 807.19h0M242.22 807.29h0M263.21 807.9h0M268.38 807.23h0M258.59 807.5h0M267.07 807.5h0M255.4 807.67h0M251.8 807.06h0M243.5 807.5h0M255.68 806.85h0M245.5 807.45h0M251.16 807.53h0M250.5 806.21h0M242.89 805.79h0M241.24 805.98h0M254.89 806.06h0M270.4 805.66h0M261.67 805.79h0M258.42 806.34h0M262.99 806.28h0M260.47 805.6h0M257.21 806.62h0M267.68 806.15h0M252.52 806.41h0M258.82 805.95h0M258.73 806.2h0M243.22 806.52h0M256.55 806.27h0M252.53 805.91h0M269.54 806.39h0M246.85 805.69h0M243.67 804.39h0M269.87 805.48h0M257.69 804.58h0M254.44 804.93h0M265.26 804.78h0M251.33 805.41h0M245.29 804.96h0M260.02 805.44h0M265.18 804.37h0M250.7 805.19h0M265.39 804.36h0M242.92 804.84h0M263.19 805.41h0M260.53 805.12h0M261.25 805.37h0M243.84 804.94h0M248.05 805.42h0M266.51 804.25h0M269.48 803.23h0M259.08 803.45h0M256.36 803.73h0M266.94 803.96h0M268.17 803.78h0M248.06 803.9h0M261.83 803.56h0M247.16 803.75h0M259.63 804.24h0M266.13 804.18h0M262.42 803.78h0M267.99 804.02h0M270.54 804.05h0M253.24 802.44h0M269.6 802.21h0M260.43 802.39h0M269.66 802.02h0M266.67 802.58h0M254.45 802.6h0M263.04 802.81h0M250.06 802.81h0M241 802.57h0M240.53 802.11h0M267.68 802.96h0M241.15 802.17h0M253 802.85h0M247.59 803.1h0M270.21 802.7h0M261.67 803.06h0M248.09 801.47h0M242.41 801.81h0M242.26 801.67h0M265.88 801.73h0M243.15 801.37h0M245.71 800.83h0M241.82 801.62h0M254.06 800.87h0M256 801.18h0M267.83 800.85h0M256.62 800.91h0M247.07 801.04h0M262.48 800.61h0M266.77 800.48h0M256.13 800.07h0M257.32 800.33h0M240.99 800.28h0M266.95 800.01h0M254.62 799.85h0M241.96 799.62h0M251.65 800.4h0M243.23 800.64h0M254.76 799.68h0M246.08 799.86h0M268.44 799.55h0M246.51 800.25h0M249.13 800.24h0M261.24 800.2h0M267.76 799.73h0M265.4 799.91h0M242.91 799.87h0M247.66 800.45h0M249.89 799.02h0M242.72 798.85h0M270.72 799.41h0M249.59 799.43h0M270.42 798.94h0M249.25 799.02h0M259.53 798.84h0M261.38 798.36h0M267.84 799.35h0M243.66 798.33h0M268.2 798.43h0M268.72 798.41h0M259.78 799.06h0M265.72 798.48h0M267.29 798.7h0M252.1 798.63h0M252.94 798.28h0M268.16 799.31h0M264.57 798.98h0M264.18 798.35h0M250.34 798.59h0M244.65 797.86h0M242.1 798.17h0M247.09 798.09h0M249.84 798.1h0M245.28 798.08h0M251.88 797.5h0M247.5 797.37h0M249.02 797.41h0M248.17 797.69h0M270.75 798.1h0M240.58 797.9h0M242.21 797.46h0M247.39 798.09h0M251.81 797.96h0M249.85 797.8h0M252.05 797.26h0M261.76 797.11h0M254.11 796.17h0M258.89 796.04h0M264.82 795.77h0M241.63 795.9h0M245.1 796.41h0M242.71 796.61h0M254.31 795.92h0M265.55 796.3h0M266.79 796.04h0M243.57 796.94h0M258.24 796.4h0M251.14 795.78h0M247.92 796.82h0M263.14 796.83h0M248.07 796.32h0M252.1 796.06h0M242.69 796.74h0M265.64 796.03h0M269.57 796.11h0M240.66 795.8h0M255.74 796.82h0M245.87 795.29h0M249.95 795.6h0M258.72 795.75h0M244.84 795.08h0M252.98 794.85h0M267.3 795.09h0M243.8 795.14h0M245.15 795.35h0M247.7 794.67h0M254.17 795.67h0M264.22 795.35h0M247.26 795.73h0M243.77 795.37h0M267.6 795.13h0M258.26 794.63h0M259.82 795.74h0M256.73 795.57h0M269.18 795h0M268.79 794.11h0M268.1 794.15h0M254.34 794.21h0M259.89 793.35h0M240.79 793.89h0M244.47 794.05h0M270.14 793.84h0M268.66 794.21h0M245.73 793.4h0M262.04 793.44h0M244.85 794.33h0M266.89 793.78h0M263.84 794.16h0M244.35 793.74h0M249.27 793.67h0M261.32 793.11h0M254.03 792.3h0M250.53 793.24h0M270.41 792.25h0M240.92 792.83h0M261.86 792.24h0M255.68 793.25h0M270.51 792.86h0M268.66 792.6h0M251 792.79h0M243.19 792.65h0M250.03 792.81h0M270.34 791.25h0M267.13 791.78h0M256.72 791.67h0M256.89 791.52h0M263.75 791.24h0M261.54 791.61h0M255.95 791h0M254.55 791.5h0M258.91 791.85h0M251.79 791.75h0M249.25 790.94h0M260.44 791.67h0M266.24 791.34h0M248.43 791.92h0M255.48 789.97h0M243.87 789.76h0M260.95 790.49h0M254.05 790.69h0M245.83 790.33h0M248.41 790.51h0M250.77 790.18h0M250.47 790.15h0M267.1 789.97h0M265.79 790.09h0M243.05 790.28h0M266.02 788.76h0M257.44 789.11h0M258.62 789.14h0M247.65 788.43h0M240.91 788.89h0M242.2 788.5h0M251.61 789.1h0M248.09 788.95h0M256.47 789.4h0M259.6 787.72h0M247.33 787.51h0M260.95 788.16h0M270.05 787.87h0M269.59 787.22h0M267.33 787.19h0M242.08 787.42h0M265.95 787.42h0M243.86 788.19h0M245.76 787.29h0M251.3 788.34h0M249.67 787.97h0M254.34 788.17h0M241.56 787.36h0M268.95 787.81h0M250.76 787.15h0M243.78 786.71h0M254.61 786.05h0M241.88 785.96h0M243.67 786.59h0M267.68 785.98h0M251.2 787.03h0M258.5 785.98h0M265.71 785.21h0M243.08 785.28h0M246.12 784.77h0M243.88 784.95h0M260.65 785.81h0M266.15 785.45h0M243.71 785.87h0M254.07 785.84h0M245.43 785.74h0M267.68 784.71h0M253.7 783.68h0M251.94 784.59h0M251.23 784.29h0M244.83 784.18h0M242.82 784.64h0M246.44 784.54h0M244.91 784.2h0M258.1 784.54h0M248.94 784.02h0M256.64 783.85h0M241.48 782.88h0M266.93 782.95h0M254.44 782.37h0M270.12 782.28h0M265.38 783.35h0M258.8 783.18h0M247.22 782.9h0M270.38 783.25h0M263.85 782.07h0M270.67 782.13h0M251.51 781.15h0M254.22 781.14h0M267.98 781.52h0M240.71 782.23h0M256.83 781.88h0M246.58 781.36h0M240.57 782.17h0M246.75 782.26h0M253.22 781.1h0M246.05 781.94h0M247.88 781.72h0M254.26 782h0M269.53 780.31h0M245.92 780.67h0M269.41 780.53h0M257.64 779.94h0M249.78 780.12h0M246.9 780.47h0M253.21 778.58h0M263.93 779.18h0M243.55 778.62h0M268.85 778.73h0M251.49 779.35h0M260.92 779.68h0M251.76 779.28h0M266.06 779.56h0M268.55 779.76h0M253.81 779.64h0M242.32 779.48h0M243.96 779.72h0M247.92 779.78h0M257.38 779.42h0M249.09 778.08h0M259.74 777.68h0M268.42 777.39h0M267.58 778.49h0M250.11 778.47h0M247.62 778.21h0M246.92 778.11h0M248.77 777.99h0M270.23 777.93h0M243.59 778.52h0M246.95 778.38h0M264.82 777.13h0M250.81 776.35h0M252.61 776.25h0M264.06 776.62h0M257.56 776.42h0M270.33 775.53h0M260.07 775.5h0M257.53 775.38h0M255.47 775.32h0M269.29 775.61h0M259.33 775.66h0M249.38 774.96h0M247.47 774.77h0M269.64 773.16h0M264.52 772.56h0M267.76 773.33h0M243.99 773.65h0M241.8 773h0M270.09 773.53h0M265.38 772.12h0M269.68 772.16h0M242.31 772.35h0M269.26 772.27h0M247.78 772.12h0M266.04 770.71h0M256.02 770.18h0M263.6 769.78h0M241.14 768.77h0M264.02 769.82h0M245.05 768.96h0M258.56 769.52h0M253.79 768.37h0M241.98 767.73h0M264.65 767.64h0M253.77 768.17h0M264.61 767.84h0M241.95 768.02h0M249.86 768.21h0M263.34 766.59h0M260.26 767.24h0M269.68 767.09h0M243.16 767.39h0M241.48 767.38h0M253 767.4h0M241.43 766.16h0M249.14 765.56h0M255.27 764.11h0M268.44 764.33h0M250.93 764.99h0M249.42 764.66h0M258.39 762.56h0M241.57 761.44h0M251.66 762.07h0M264.64 761.67h0M264.52 761.69h0M267.66 759.15h0M257.46 760.15h0M262.05 759.81h0M245.06 758.21h0M261.43 758.81h0M267.61 758.44h0M240.79 757.32h0M264.61 757.09h0M269.49 757.68h0M254.93 754.13h0M268.59 754.69h0M243.3 753.23h0M260.21 751.93h0M254.07 751.8h0M262.88 751.08h0M262.11 747.95h0M248.3 748.89h0M261.68 747.28h0M265.57 747.09h0M269.79 745.97h0M256.24 745.95h0M245.47 742.8h0M254.94 742.52h0M251.87 741.5h0M268.11 739.04h0M265.23 738.6h0M242.3 739.1h0M259.87 734.57h0M254.42 733.3h0M257.74 731.13h0M248.22 731.95h0M252.25 725.8h0M348.82 816.55h0M356.6 816.18h0M350.61 815.98h0M349.84 816.3h0M359.21 816.03h0M349.53 816.51h0M346.36 816.79h0M360.55 815.69h0M362.52 816.32h0M365.32 816.71h0M358.72 816.62h0M356.29 816.17h0M356.93 816.62h0M360.74 815.65h0M364.35 816.1h0M347.35 816.58h0M352.15 816.59h0M362.86 816.12h0M349.76 815.49h0M361.77 814.91h0M352.49 815.45h0M362.92 814.57h0M359.29 814.74h0M361.09 814.43h0M355.84 815.39h0M351.16 814.45h0M361.19 814.59h0M348.52 814.82h0M358.82 815.63h0M356.38 814.65h0M363.9 815.39h0M350.55 814.93h0M358.76 814.68h0M356.62 814.3h0M347.19 814.21h0M355.71 813.76h0M354.03 813.68h0M363.41 814.12h0M348.65 813.36h0M360.27 813.31h0M356.62 813.32h0M363.43 814.13h0M350.77 813.52h0M349.68 814.05h0M365.72 813.94h0M356.26 813.87h0M354.49 813.36h0M355.6 812.82h0M346.47 812.95h0M365.58 812.45h0M354.56 813.04h0M357.03 812.92h0M362.59 812.55h0M355.21 813.01h0M358.83 810.88h0M361.47 810.77h0M355.63 811.4h0M355.26 811.78h0M354.31 810.92h0M365.11 811.48h0M347.98 811.73h0M359.28 811.82h0M363.52 811.15h0M364.92 811.21h0M349.58 811.93h0M353.18 811.04h0M347.97 811h0M349.52 811.62h0M349.9 811.65h0M358.19 811.62h0M362.2 810.75h0M365.32 810.42h0M364.92 810.51h0M355.75 809.55h0M364.05 810.55h0M350.59 810.29h0M353.61 810.58h0M363.54 809.72h0M360.05 810.57h0M361.57 810.39h0M363.85 810.44h0M350.44 810.52h0M347.23 808.64h0M360.98 809.17h0M360.99 808.52h0M365.57 809.21h0M361.41 809.16h0M347.67 808.59h0M356.71 809.14h0M354.68 808.34h0M365.25 809.13h0M347.98 808.3h0M359.94 808.44h0M354.85 808.86h0M351.76 809.11h0M346.53 809.22h0M360.73 807.7h0M353.29 807.95h0M354.69 807.91h0M350.01 808.04h0M352.88 807.82h0M354 807.34h0M350.27 807.26h0M362.92 806.24h0M347.58 806.09h0M356.89 805.9h0M364.23 805.96h0M347.88 806.79h0M363.01 806.95h0M351.22 806.63h0M350.27 806.89h0M350.63 806.27h0M360.48 806.28h0M351.49 806.83h0M355.15 806.63h0M364.77 804.61h0M346.31 805.1h0M363.49 804.59h0M356.42 805.28h0M346.83 804.74h0M347.96 805.66h0M350.02 804.9h0M352.06 804.67h0M365.23 805.51h0M350.12 805.27h0M355.35 805.01h0M349.96 805.01h0M359.91 804.11h0M357.25 803.7h0M357.14 803.94h0M350.37 804.04h0M352.64 804.56h0M347.22 803.77h0M365.73 804.18h0M347.85 803.16h0M360.87 802.81h0M360.59 803.13h0M364.66 802.35h0M365.56 803.2h0M356.8 803.3h0M355.09 802.5h0M358.73 803.05h0M348.91 801.47h0M347.54 800.92h0M362.87 801.92h0M365.76 801.31h0M362.65 801.27h0M361.56 801.69h0M346.46 801.54h0M354.95 801.78h0M364.31 801.06h0M355.81 800.92h0M363.02 801.4h0M363.79 800.26h0M365.17 799.75h0M348.59 800.85h0M347.21 800.4h0M354.08 800.37h0M364.77 799.79h0M354.05 799.36h0M358.77 799.36h0M351.13 798.85h0M357.2 799.55h0M362.06 798.94h0M352.54 799.36h0M363.96 797.36h0M365.33 798.39h0M353.48 797.78h0M349.07 797.98h0M356.73 797.76h0M353.65 797.61h0M361.51 798.36h0M358.17 797.85h0M361.12 796.08h0M360.4 797.12h0M362.09 796.45h0M349.21 797.03h0M357.92 796.68h0M364.7 796.75h0M353.64 796.71h0M352.8 796.83h0M361.78 796.22h0M349.04 797.16h0M354.62 796.79h0M356.06 797.02h0M362.93 796.66h0M347.21 796.64h0M358.3 794.87h0M359.38 794.85h0M363.63 794.82h0M349.85 795.5h0M349.22 795.09h0M356.48 795.88h0M361.59 794.93h0M356.54 794.76h0M348.76 793.77h0M359.98 794.65h0M354.58 793.95h0M361.89 793.67h0M358.96 794.58h0M359.71 794.22h0M358.23 794.58h0M361.77 793.62h0M347.14 792.85h0M362.39 793.37h0M354.77 792.85h0M352.66 793.32h0M364.92 791.96h0M347.98 791.22h0M353.36 791.54h0M360.95 791.78h0M352.83 792.13h0M358.69 791.07h0M357.61 790.6h0M347.77 790.56h0M361.84 788.89h0M356.37 789.32h0M353.19 789.52h0M363.29 789.02h0M364.44 787.64h0M361.34 787.86h0M363.3 787.53h0M347.03 788.5h0M349.21 788.47h0M351.35 787.23h0M358.59 786.21h0M364.14 786.53h0M349.42 785.3h0M355.31 786.08h0M352.37 785.03h0M350.69 784.99h0M359.85 785.46h0M350.91 785.88h0M364.63 785.77h0M348.19 784.1h0M365.8 784.61h0M350.21 783.79h0M352.94 784.03h0M361.93 783.35h0M361.72 782.67h0M348.07 783.7h0M355.93 782.71h0M355.76 783.17h0M346.32 782.26h0M357.5 782.19h0M365.28 782.19h0M363.6 781.85h0M350.52 781.62h0M365.42 781.78h0M354.9 780.68h0M349.06 781.28h0M360.34 781.1h0M353.1 780.96h0M358.84 781.22h0M363.05 780.13h0M362.41 780.12h0M351.15 778.83h0M355.3 779.37h0M354.18 777.95h0M352.7 778.26h0M365.51 778.27h0M346.73 778.08h0M358.12 778.44h0M356.12 778.47h0M360.58 777.22h0M363.6 776.99h0M363.65 775.81h0M352.35 775.35h0M348.96 775.35h0M364.09 774.29h0M363.17 774.84h0M359.97 773.35h0M359.81 772.84h0M362.43 772.59h0M353.05 772.69h0M355.76 772.55h0M348.87 771.22h0M350.75 770.8h0M349.39 770.53h0M358.09 771.02h0M351.98 769.41h0M348.8 768.95h0M355.27 768.61h0M364.15 766.79h0M355.07 767.65h0M357.75 766.07h0M364 765.69h0M351.09 766.05h0M346.62 764.53h0M354.45 765.25h0M363.83 764.28h0M349.72 763.66h0M355.02 763.42h0M362.51 761.66h0M362.88 762.2h0M354.05 761.53h0M352.03 760.28h0M348.74 760.12h0M350.71 759.38h0M358.76 758.14h0M355.77 758.82h0M362.4 753.15h0M350.57 753.91h0M348.85 751.04h0M356.04 750.46h0M358.01 750.31h0M365.23 748.11h0M363.64 744.52h0M360.85 742.58h0M357.13 741.38h0M354.82 740.75h0M359.24 739.3h0M352.1 737.96h0M352.99 736.68h0M355.48 732.25h0M465.63 810.93h0M452.82 810.6h0M461.96 810.61h0M461.84 811.4h0M451.36 810.57h0M467 811.49h0M452.44 810.57h0M460.74 810.74h0M467.4 810.71h0M457.97 811.21h0M450.6 810.52h0M463.09 811.01h0M453.7 811.37h0M463.91 810.8h0M456.12 810.26h0M456.13 809.44h0M463.57 809.73h0M449.72 809.84h0M458.86 810.14h0M452.49 809.55h0M464.88 809.53h0M457.21 809.75h0M456.1 809.57h0M464.6 808.56h0M450.56 809h0M454.42 809.19h0M452.62 808.22h0M449.69 808.59h0M460.21 808.15h0M453.42 808.67h0M467.01 807.53h0M459.21 807.31h0M449.65 806.84h0M455.92 807.94h0M456.11 807.82h0M465.74 806.92h0M465.16 807.83h0M451.11 806.83h0M467.47 807.29h0M465.86 807.23h0M466.85 807.66h0M451.26 807.93h0M452.1 807.88h0M461.57 807.3h0M451.95 806.47h0M466.93 806.12h0M449.07 805.81h0M461.8 806.59h0M465.33 806.41h0M454.25 805.99h0M462.77 806.64h0M466.32 806.66h0M450.19 806.52h0M452.14 805.67h0M464.6 806.64h0M457.3 805.61h0M453.05 806.36h0M449.4 804.59h0M456.17 804.78h0M454.03 805.2h0M465.21 804.64h0M449.87 805.03h0M451.11 804.71h0M467.22 804.89h0M461.63 805.24h0M466.61 804.45h0M463.51 803.84h0M455.51 803.27h0M458.6 803.92h0M449.17 804.32h0M453.51 804.02h0M457.15 803.51h0M452.34 803.76h0M457.53 803.53h0M455.69 803.68h0M455.18 804.2h0M462.08 804.11h0M458.13 803.7h0M463.23 803.75h0M465.95 803.42h0M459.01 802.08h0M453.72 803.03h0M449.88 802.72h0M454.02 802.48h0M457.37 803h0M457.61 801.95h0M452.9 802.71h0M456.11 802.78h0M450.36 802.33h0M457.79 801.98h0M457.19 802.22h0M463.74 802.05h0M454.8 802.57h0M458.4 803.01h0M462.16 802.53h0M453.96 802.38h0M459.27 801.36h0M452.83 800.94h0M455.57 800.75h0M462.37 799.93h0M453.55 800.44h0M453.65 800.49h0M449.18 799.47h0M454.38 800.24h0M454.05 799.5h0M457.43 800.58h0M458.05 799.75h0M457.32 799.9h0M458.47 799.58h0M458.84 799.37h0M462.24 798.33h0M466.5 798.78h0M458.81 797.54h0M456.4 797.94h0M467.14 797.6h0M455.16 798.02h0M452.62 797.15h0M459.22 797.57h0M466.09 797.19h0M458.06 797.5h0M451.88 797.09h0M460.33 797.73h0M459.65 797.77h0M467.24 798.04h0M466.42 796.58h0M450.02 796.15h0M460.67 796.98h0M466.57 796.4h0M457.18 796.28h0M462.15 796.87h0M466.95 796.62h0M465.78 795.57h0M456.37 795.04h0M453.32 795.74h0M458.23 795.37h0M451.55 794.97h0M449.09 794.82h0M456.86 794.66h0M461.61 794.88h0M462.87 793.87h0M454.39 794.26h0M456.24 793.61h0M455.11 793.76h0M460.83 793.67h0M455.43 793.91h0M463.14 794.09h0M454.79 793.56h0M455.26 794.11h0M467.02 793.66h0M463.55 794.37h0M461.73 792.5h0M450.28 793.16h0M453.29 792.88h0M460.81 792.98h0M461.42 792.41h0M458.13 792.37h0M450.69 792.66h0M456.09 792.32h0M450.31 793.1h0M459.81 791.81h0M453.97 791.47h0M458.45 791.07h0M465.28 791.01h0M456.39 791.41h0M456.93 790.91h0M453.84 791.63h0M463.13 789.99h0M454.2 790.25h0M466.36 790.38h0M458.35 790.21h0M455.08 789.67h0M462.37 790.61h0M453.64 790.18h0M465.14 789.04h0M450.74 789.52h0M451.22 788.72h0M464.23 789.08h0M458.54 789.37h0M452.44 787.94h0M460.47 787.43h0M461.51 788.28h0M452.97 785.98h0M458.95 787.09h0M457.4 786.94h0M465.21 786.78h0M449.74 785.14h0M455.68 785.84h0M450.99 785.89h0M460.45 785.35h0M449.56 785.66h0M451.02 785.54h0M461.73 784.91h0M457.27 785.78h0M454.01 785.64h0M464.07 784.6h0M463.12 784.38h0M466.37 784.64h0M458.69 784.6h0M465.82 783.83h0M465.43 783.57h0M463.06 784.07h0M460.79 784.46h0M454.77 783.79h0M466.25 784.09h0M458.32 783.6h0M463.56 783.55h0M464.51 783.72h0M458.37 783.2h0M452 783.1h0M461.75 783.15h0M465.6 782.73h0M457.61 783.03h0M462.45 783.27h0M450.36 781.39h0M452.56 781.23h0M456.16 781.8h0M449.46 781.54h0M466.1 781.76h0M450.91 780.45h0M449.33 779.82h0M456.89 780.4h0M452.89 778.79h0M450.83 778.64h0M455.28 779.18h0M461.57 778.75h0M450.64 778.79h0M467.38 779.38h0M454.2 778.76h0M449.6 779.1h0M450.09 779.3h0M459.82 779h0M449.68 777.4h0M459.98 778.29h0M457.26 778.02h0M450.79 777.71h0M450.63 777.82h0M460.98 776.95h0M460.36 776.32h0M463.72 776.84h0M462.14 775.08h0M453.98 774.9h0M465.74 775.3h0M449.19 774.96h0M450.33 775.67h0M450.23 774.35h0M460.09 774.38h0M464.93 774.07h0M451.01 774.85h0M449.5 772.51h0M462.09 772.89h0M459.08 772.56h0M458.33 773.39h0M455.12 772.25h0M467.57 771.83h0M460.72 771.27h0M462.97 770.03h0M464.87 771.01h0M454.28 770.16h0M451.67 770.5h0M460.91 769.19h0M462.59 769.37h0M461.12 767.83h0M455.13 768.5h0M459.86 768.21h0M465.16 766.92h0M461.44 767.39h0M466.32 765.8h0M455.13 765.77h0M452.22 764.93h0M455.72 764.55h0M456.46 763.98h0M459.49 763.03h0M463.73 761.76h0M461.24 761.28h0M454.11 759.06h0M465.84 758.48h0M461.7 758.78h0M449.08 757.26h0M455.75 755.83h0M457.85 755.76h0M462.49 754.51h0M449.35 753.74h0M458.36 749.78h0M461.58 750.04h0M461.53 748.79h0M453.54 748.08h0M455.71 746.29h0M466.85 746.67h0M464.57 743.81h0M464.92 742.31h0M461.76 740.45h0M452.51 739.4h0M451.55 739.23h0M457.16 737.83h0M453.22 737.79h0M451.11 726.41h0M455.79 726.13h0M551.76 805.06h0M551.47 804.95h0M556.93 803.97h0M551.52 804.93h0M551.84 804.88h0M554.91 803.86h0M555.42 802.71h0M556.85 803.45h0M557.44 803.51h0M551.33 802.72h0M553 803.51h0M556.21 803.07h0M556.12 803.21h0M555.69 801.51h0M553.34 802.3h0M553.72 802.31h0M553.66 801.42h0M551.32 801.83h0M553.63 801.03h0M555.3 800.86h0M552.58 801.16h0M553.66 801.24h0M551.96 800.82h0M555.8 799.85h0M552.54 799.57h0M552.3 800.11h0M551.92 799.92h0M553.48 800.07h0M555.56 799.27h0M554.11 797.99h0M556.94 798.53h0M556.82 798.65h0M556.49 798.92h0M551.72 798.22h0M556.46 796.64h0M554.35 797.2h0M556.66 796.94h0M551.29 795.31h0M554.09 796.33h0M555.32 795.38h0M553.37 795.45h0M553.13 794.94h0M556 794.77h0M556.26 794.56h0M553.3 794.3h0M551.6 794.84h0M552.39 793.8h0M556.93 793.85h0M553.26 793.86h0M557.12 793.18h0M553.74 793.36h0M555.39 792.31h0M552.89 792.23h0M553.1 790.69h0M551.64 790.97h0M555.11 790.88h0M554.57 791.15h0M552.79 790.83h0M551.43 789.21h0M553.79 790.31h0M557.51 789.44h0M553.03 789.9h0M555.84 790.09h0M556.51 789.32h0M552.03 789.7h0M553.23 788.09h0M553.16 788.96h0M551.33 788.82h0M551.67 788.76h0M553.99 787.42h0M552.7 787.4h0M555.17 787.89h0M556.11 785.61h0M552.45 785.86h0M552.18 785.46h0M551.33 786.44h0M554.34 786.32h0M553.44 784.93h0M556.98 784.25h0M553.31 785.18h0M554.23 785.44h0M554.31 784.1h0M557.5 781.2h0M555.24 781.05h0M555.86 781h0M551.24 781.77h0M552.19 781.76h0M556.12 778.17h0M551.7 779.12h0M554.34 777.62h0M551.76 777.53h0M553.97 777.65h0M551.81 775.68h0M556.75 776.65h0M555.58 776.64h0M551.45 774.46h0M553.19 775.26h0M555.34 775.51h0M553.61 774.37h0M554.45 773.47h0M556.89 770.91h0M551.41 769.96h0M555.79 770.26h0M553.5 769.05h0M555.78 766.27h0M553.08 766.78h0M555.07 765.47h0M556.31 763.57h0M554.75 760.26h0M555.44 760.03h0M553.85 758.75h0M552.99 750.65h0M553.85 746.95h0M554.62 742.19h0M555.81 739.82h0M554 736.74h0M553.07 726.84h0M628.05 813.54h0M635.26 813.69h0M639.35 812.95h0M640.67 813.47h0M641.62 813.55h0M641.61 813.48h0M627.33 813.99h0M632.14 813.21h0M628.52 813.98h0M632.98 814.07h0M631.36 813.25h0M639.4 813.22h0M630.89 814.04h0M637.23 813.42h0M634.69 813.64h0M632.53 813.57h0M638.54 813.99h0M633.29 812.21h0M636.76 812.15h0M628.45 812.57h0M637.19 812.67h0M637.04 811.9h0M627.98 811.73h0M639.64 812.77h0M641.89 812.66h0M632.6 811.46h0M641.84 811.15h0M629.8 810.81h0M627.07 810.71h0M628.41 811.38h0M635.73 811.71h0M632.15 811.04h0M627.14 810.54h0M639.73 811.06h0M635.79 811.29h0M641.06 811.58h0M628.1 810.72h0M631.25 810.96h0M640.16 811.36h0M630.65 810.42h0M638.35 809.41h0M627.16 809.96h0M630.21 809.74h0M634.3 809.55h0M628.91 809.47h0M634.71 809h0M633.76 808.83h0M637.92 808.09h0M632.1 808.74h0M636.88 808.77h0M628.48 808.95h0M631.22 808.98h0M633.73 808.46h0M635.48 808.73h0M638.18 808.07h0M628.57 808.73h0M639.2 808.18h0M635.8 808.47h0M637.33 808.72h0M629.82 808.22h0M633.74 808.93h0M638.22 807.54h0M640.27 807.72h0M641.44 807.01h0M641.93 807.47h0M641.27 807.05h0M640.71 807.61h0M641.85 807.87h0M640.35 807.85h0M630.97 807.43h0M637.45 807.61h0M640.63 807.69h0M641.97 806.8h0M638.43 807.38h0M632.02 807.93h0M629.13 806.56h0M627.16 806.05h0M635.38 806.67h0M636.87 806.47h0M637.86 805.88h0M641.98 806.47h0M637.97 806.67h0M633.39 806.49h0M639.07 805.3h0M631.29 804.88h0M640.69 804.82h0M641.71 804.77h0M636.29 805.07h0M639.61 804.45h0M635.73 804.39h0M627.17 805.5h0M633.25 804.49h0M636.86 805.34h0M639.23 805.13h0M632.97 805.42h0M641.18 803.47h0M627.87 804.09h0M637.38 803.47h0M634.31 803.78h0M633.24 802.14h0M636.47 802.88h0M627.04 802.39h0M634.97 802.57h0M640.39 802.56h0M641.9 802.73h0M635.83 802.29h0M637.84 801.36h0M632.21 801.55h0M630.81 801h0M636.86 801.28h0M630.72 801.21h0M640.81 801.68h0M635.98 800.11h0M636.08 799.52h0M637.37 800.08h0M639.03 799.52h0M635.6 799.49h0M635.13 800.4h0M637.53 799.99h0M640.67 799.09h0M640.3 799.02h0M635.26 799.18h0M632.16 799.13h0M635.23 797.9h0M635.59 798.04h0M635.88 797.69h0M640.33 797.32h0M634.25 797.9h0M628.09 796.99h0M629.25 797h0M633 797.43h0M640.37 797.64h0M639.91 797.77h0M629.53 797.47h0M631.6 796.49h0M629.92 796.19h0M640.63 796.15h0M631.78 795.98h0M627.24 795.83h0M634.12 796.25h0M634.16 795.81h0M631.46 796h0M637.49 795.87h0M631.77 796.72h0M635.75 796.54h0M638.13 796.44h0M634.27 795.14h0M632.91 795.27h0M634.69 795.74h0M629.51 795.2h0M641.05 794.62h0M629.02 794.58h0M631.11 795.2h0M628.49 795.46h0M628.09 795.18h0M638.2 795.18h0M641.08 795.69h0M629.74 794.02h0M637.56 793.72h0M630.57 792.25h0M640.14 792.98h0M634.41 792.09h0M637.64 792.28h0M639.49 792.3h0M627.87 792.83h0M632.87 791.86h0M628.6 792.03h0M636.16 791.77h0M631.98 789.78h0M636.62 790.83h0M636.02 790.84h0M634.03 789.72h0M630.44 790.74h0M634 789.64h0M632.41 790.74h0M627.1 788.9h0M641.71 789.38h0M634.03 788.29h0M637.7 787.77h0M638.35 787.79h0M630.81 786.01h0M637.56 786.21h0M627.66 786.92h0M633.85 786.01h0M637.09 784.95h0M635.11 783.86h0M629.16 782.85h0M637.38 783.47h0M627.37 782.43h0M627.58 783.09h0M632.14 782.29h0M637.51 781.33h0M640.79 781.1h0M641.39 781.6h0M635.56 781.09h0M636.95 781.87h0M632.78 782.19h0M628.23 781.38h0M628.6 782.26h0M636.52 780.4h0M630.92 780.47h0M629.74 779.61h0M627.82 779.38h0M634.87 778.89h0M633.89 778.62h0M635.66 777.46h0M634.16 778.54h0M634.56 778.43h0M639.42 776.95h0M634.64 776.08h0M640.64 775.31h0M636.3 773.99h0M640.11 774.08h0M627.24 773.75h0M639.8 774.75h0M628.22 773.35h0M629.87 772.17h0M638.77 771.77h0M634.64 771.21h0M630.47 769.86h0M635.75 767.81h0M629.14 768.31h0M631.52 768h0M635.17 768.66h0M635.78 767.39h0M630.2 765.69h0M629.64 764.58h0M637.13 762.98h0M636 762.75h0M634.2 762.23h0M628.26 759.17h0M639.5 757.05h0M632.07 753.99h0M637.27 749.89h0M630.94 746.76h0M636.7 747.35h0M640.98 741.34h0M630.14 741.04h0M641.42 736.95h0M641.6 733.67h0M634.07 732.48h0M639.39 731.16h0" stroke="#4a78b4" stroke-width="3.8" stroke-linecap="round" fill="none"/>
<path d="M178.09 818.71h0M186.96 818.95h0M171.31 818.8h0M172.73 818.98h0M164.33 817.89h0M175.56 818.85h0M162.96 818.29h0M177.35 818.8h0M159.36 818.78h0M185.6 818.22h0M185.18 818.08h0M168.17 818.81h0M177.72 818.33h0M175.76 818.3h0M165.94 818.78h0M160.29 818.97h0M161.19 818.36h0M188.42 818h0M181.99 817.41h0M169.48 816.89h0M169.46 816.94h0M171.58 817.63h0M180.9 817.7h0M174.03 817.54h0M177.17 816.85h0M181.14 816.73h0M181.61 816.99h0M187.16 817h0M179.12 817.11h0M175.16 817.17h0M167.86 816.69h0M174.13 817.61h0M180.78 817.46h0M158.56 817.06h0M186.37 815.9h0M161.34 815.48h0M167.59 815.43h0M182 815.86h0M168.06 816.26h0M183.19 815.51h0M161.43 815.42h0M181.57 815.85h0M181.14 815.44h0M161.65 816.27h0M166.58 816.4h0M168.57 815.92h0M161.2 816.43h0M183.92 815.78h0M174.53 816.47h0M169.76 815.41h0M183.8 815.96h0M185.74 816.59h0M181.47 815.67h0M173.84 816.2h0M160.41 815.46h0M178.47 816.52h0M163.15 815.45h0M172.85 816.39h0M176.09 815.65h0M160.12 815.81h0M176.77 816.37h0M161.35 815.73h0M168.31 816.51h0M162.44 814.3h0M174.73 815.06h0M182.59 815.32h0M162.16 814.51h0M162.51 814.63h0M161.41 814.74h0M172.55 815.04h0M178.9 814.72h0M168.96 814.25h0M165.03 814.96h0M169.96 814.48h0M164.5 815.13h0M184.6 814.87h0M183.89 814.85h0M176.64 814.81h0M171.27 815.08h0M161.13 814.5h0M166.39 814.83h0M169.05 815.03h0M176.48 815.15h0M165.93 815.34h0M164.15 815.07h0M179.92 814.37h0M162.49 813.73h0M165.06 813.09h0M163.96 813.77h0M162.01 813.12h0M165.38 813.62h0M189.53 813.86h0M181.48 813.29h0M189 813.73h0M178.33 812.98h0M160.02 813.88h0M173.68 813.49h0M189.65 813.1h0M171.01 812.88h0M188.72 812.93h0M173.45 811.93h0M166.71 812.86h0M167.66 811.99h0M171.83 812.82h0M162.45 812.23h0M175.87 812.47h0M171.2 812.02h0M166.48 811.72h0M160.97 812.02h0M175.5 811.81h0M183.92 812.72h0M162.55 811.85h0M188.42 811.85h0M183.16 812.5h0M176.19 812.05h0M168.27 812.46h0M182.92 811.93h0M160.63 811.78h0M180.52 812.24h0M159.15 812.67h0M182.86 811.84h0M166.09 811.25h0M175.25 811.61h0M188.08 811.3h0M171.91 810.93h0M160.03 811.52h0M177.6 810.86h0M174.29 811.1h0M186.78 811.21h0M165.72 811.64h0M168.34 810.73h0M171.98 811.3h0M182.2 811.35h0M175.83 811.59h0M169.22 810.83h0M169.58 810.81h0M161.69 810.94h0M175.99 811.32h0M172.97 810.96h0M175.32 811.66h0M166.98 810.65h0M177.87 811.45h0M161.68 811.42h0M178 811.62h0M182.57 810.63h0M185.79 810.99h0M166.88 810.67h0M170.04 810.36h0M173.09 809.36h0M164.21 809.5h0M183.42 810.05h0M181.29 810.12h0M178.95 809.75h0M169.74 810.45h0M170.21 809.27h0M189.68 810.14h0M180.22 809.76h0M177.95 809.89h0M167.08 810h0M165.59 810.12h0M161.24 809.63h0M173.33 808.83h0M160.92 808.99h0M188.14 809.11h0M187.01 808.05h0M164.79 809.09h0M158.98 808.18h0M178.75 809.07h0M187.37 808.07h0M168.41 808.22h0M187.72 808.35h0M188.79 808.15h0M183.05 808.32h0M167.98 807.64h0M179.02 807.76h0M178.77 807.05h0M162.05 806.91h0M171.02 807.68h0M181.53 807.06h0M185.72 806.81h0M181.57 807.38h0M174.73 807.02h0M185.13 807.19h0M163.41 807.01h0M180.56 807.99h0M164.41 807.03h0M182.11 806.98h0M163.33 807.83h0M177.94 807.22h0M186.83 807.83h0M184.5 807.76h0M162.27 806.87h0M173.9 805.77h0M159.61 805.82h0M165.68 806.6h0M159.23 805.8h0M170.29 806.77h0M184.91 806.33h0M165.98 805.75h0M169.65 805.89h0M179.08 805.86h0M173.16 806.71h0M172.83 806.28h0M180.05 806.12h0M174.71 806.31h0M179.74 805.79h0M162.8 806.56h0M188.18 806.47h0M185.93 806.33h0M161.12 805.12h0M172.57 805.08h0M189.02 804.99h0M163.67 804.92h0M179.71 805.35h0M171.28 804.94h0M171.29 804.97h0M176.99 804.74h0M173.97 805.51h0M176.68 805.27h0M182.24 805.01h0M181.65 804.39h0M174.34 804.82h0M181.29 805.44h0M170.34 805.33h0M166.76 804.86h0M175.54 804.51h0M159.2 804.38h0M168.57 805h0M178.72 804.87h0M187.82 804.85h0M170.06 805.03h0M175.79 804.65h0M187.25 805.24h0M160.84 805.3h0M186.28 803.22h0M170.58 803.76h0M179.31 803.47h0M174.4 804.23h0M178.72 804h0M167.8 804.14h0M167.25 804.04h0M185.43 803.65h0M178.67 803.56h0M170.69 803.41h0M178.82 803.82h0M182 804.09h0M185.98 803.22h0M187.07 804.27h0M162.56 804.07h0M169.31 803.59h0M177.47 804.13h0M175.24 803.69h0M177.74 803.72h0M180.99 803.39h0M184.32 803.48h0M178.46 803.77h0M161.05 804.21h0M179.74 803.79h0M188.44 804.06h0M173.83 803.99h0M175.08 803.04h0M188.17 802.72h0M184.68 802.58h0M165.86 803.08h0M170.03 801.91h0M166.6 803.07h0M174.96 802.67h0M168.01 802.65h0M173.14 802.54h0M174.66 802.9h0M176.39 802.41h0M172.64 802.21h0M187.92 802.86h0M167.98 802.98h0M179.29 801.33h0M187.96 801.43h0M185.63 801.29h0M170.63 801.81h0M184.63 801.04h0M185.28 801.29h0M171.39 800.96h0M174.61 801.02h0M186.56 801.75h0M186.33 800.86h0M182.74 801.6h0M174.09 801.85h0M174.27 801.52h0M175.66 801.42h0M159.67 799.89h0M176.81 799.94h0M189.41 800.2h0M159.04 800.28h0M166 800.53h0M181.57 799.76h0M186.05 800.23h0M165.63 800.47h0M175.12 799.97h0M168.13 799.7h0M178.21 799.56h0M176.42 799.82h0M176.08 800.41h0M158.97 799.51h0M185.99 798.7h0M174.29 798.76h0M176.18 798.94h0M177.15 798.32h0M173.03 798.52h0M182.5 798.35h0M167.91 798.81h0M189.04 799.07h0M160.72 798.65h0M166.72 797.67h0M169.9 798.12h0M179.22 798.18h0M186.74 798.1h0M166.97 797.82h0M167.6 797.54h0M167.99 797.32h0M159.8 797.08h0M186.03 798.14h0M166.72 797.37h0M169.74 797.42h0M167.08 797.59h0M178.74 797.55h0M166.49 797.17h0M176.19 797.51h0M173.48 797.14h0M187.35 797.15h0M184.2 796.1h0M188.81 796.08h0M161.84 796.06h0M187.26 796.59h0M185.89 796.85h0M163.1 796.01h0M181.33 796.73h0M159.43 796.18h0M164.38 796.34h0M175.22 795.93h0M170.84 796.97h0M166.74 794.61h0M182.32 794.96h0M162.12 795.07h0M181.3 795.46h0M172.4 793.86h0M186.97 794.38h0M177.58 794.11h0M188.16 794.46h0M179.84 793.33h0M179.18 794.37h0M173.27 793.96h0M163.23 794.26h0M177.35 793.49h0M181.56 793.61h0M175.65 794.04h0M159.03 793.04h0M170.34 792.78h0M159.83 792.22h0M161.46 792.1h0M169.67 792.29h0M177.55 793h0M159 792.87h0M186.84 791.56h0M183.87 791.52h0M169.41 791.42h0M178.87 791.19h0M189.64 791.61h0M185.01 791.96h0M180.65 791.19h0M181.86 791.5h0M179.41 792.02h0M171.23 791.01h0M180.21 791.17h0M169.45 789.79h0M180.3 790.4h0M167.48 790.15h0M171.63 790.66h0M189.54 789.76h0M180.22 789.97h0M187.02 790.01h0M163.02 790.65h0M159.12 789.81h0M160.43 788.91h0M184.39 789.18h0M164.38 789.27h0M187.78 789.4h0M171.14 788.56h0M169.99 789.22h0M186.85 788.54h0M185.22 788.45h0M166.45 787.59h0M164.14 787.31h0M172.12 787.58h0M167.29 788.34h0M182.68 788.02h0M187.69 787.45h0M158.67 786.25h0M162.65 786.51h0M167.61 786.78h0M187.8 786.6h0M181.6 784.78h0M175.34 784.96h0M173.15 784.82h0M172.34 784.78h0M168.41 784.78h0M175.98 785.31h0M184.81 785.27h0M164.17 784.9h0M174.9 785.08h0M162.11 785.45h0M169.94 784.25h0M160.65 784.21h0M188.19 784.55h0M165.76 784.03h0M169.83 784.16h0M164.03 784.12h0M187.61 783.8h0M183.99 782.93h0M159.75 782.66h0M159.96 782.47h0M164.03 782.85h0M165.71 783.12h0M180.68 782.73h0M174.28 782.4h0M162.49 782.16h0M169.72 779.99h0M182.98 780.45h0M187.46 779.21h0M167.93 779.11h0M184.8 778.34h0M159.14 778.05h0M162.68 777.67h0M187.24 778.25h0M184.29 778.35h0M183.27 778.25h0M176.04 778.11h0M180.89 777.74h0M179.44 778.33h0M166.14 778.38h0M163.27 777.63h0M189.04 776.91h0M174.13 776.81h0M166.7 777.31h0M162.97 775.91h0M178.85 775.22h0M176.27 774.23h0M163.29 774.74h0M160.68 773.55h0M175.24 772.62h0M169.61 773.65h0M176.43 771.8h0M189.3 772.21h0M162.58 771.77h0M184.55 770.38h0M184.4 769.91h0M158.93 767.68h0M165.02 768.37h0M174.09 768.51h0M188.63 768.71h0M175.99 766.41h0M182.23 766.93h0M178.11 765.33h0M189.34 765.74h0M178.18 764.64h0M189.58 764.77h0M185.35 762.91h0M176.14 763.29h0M166.27 763.05h0M171.59 759.97h0M166.58 759.97h0M179.87 759.57h0M179.1 756.28h0M166.96 754.63h0M160.86 754.92h0M178.98 754.42h0M165.7 754.93h0M180.92 752.88h0M161.99 753.42h0M159.27 753.5h0M169.15 751.33h0M175.11 749.85h0M168.56 747.51h0M168.77 746.31h0M159.7 741.49h0M184.96 740.21h0M184.58 739.23h0M184.55 737.74h0M180.17 734.19h0M165.19 733.16h0M188.43 732.37h0M183.22 726.59h0M274.31 825.06h0M281.93 824.8h0M296.26 825.19h0M276 825.42h0M273.1 824.62h0M288.08 824.58h0M293.43 825.63h0M282.15 825.37h0M275.09 824.58h0M297.4 825.28h0M288.07 825.1h0M299.13 825.65h0M295.66 824.92h0M276.64 825.56h0M293.47 825.37h0M297.5 825.63h0M282.49 824.61h0M289.28 825.21h0M277.41 824.99h0M275.76 825.17h0M278.33 824.48h0M286.46 824.64h0M282.76 825.1h0M284.19 824.63h0M280.64 823.32h0M298.72 824.05h0M298.92 824.08h0M280.53 824.39h0M295.97 823.7h0M278.11 824.45h0M277.63 824.44h0M279.06 823.83h0M290.67 824.33h0M298.52 824.3h0M296.49 823.42h0M297.03 823.34h0M279.93 823.39h0M275.21 824.46h0M282.2 824.47h0M291.66 823.94h0M275.08 823.98h0M290.75 823.97h0M273.48 823.73h0M291.86 823.95h0M282.19 824.26h0M283.7 822.26h0M294 822.99h0M278.35 823.24h0M281.1 822.69h0M273.61 822.32h0M275.45 822.61h0M278.46 823.21h0M276.04 823.12h0M299.21 822.78h0M279.51 822.04h0M283.23 822.95h0M292.52 823.01h0M289.2 822.66h0M278.53 822.71h0M277.05 823.07h0M285.6 822.77h0M280.31 821.8h0M293.26 821.03h0M292.43 821.51h0M288.87 821.8h0M297.51 821.33h0M286.64 820.96h0M277.43 821.72h0M275.56 820.85h0M287.73 821.68h0M297.55 821.95h0M295.54 821.17h0M290.46 821.46h0M294.69 822.01h0M285.89 820.97h0M278.59 821.21h0M283.36 821.66h0M286.27 820.2h0M291.66 820.51h0M276.99 819.65h0M278.06 820.47h0M284.25 820.27h0M287.48 820.36h0M287.93 819.67h0M286.08 820.64h0M286.02 820.13h0M282.89 820.48h0M288.34 820.39h0M284.55 819.57h0M274.56 820.36h0M279.35 820.62h0M281.45 818.76h0M287.21 818.39h0M293.95 818.37h0M281.25 818.91h0M279.85 819.24h0M299.05 819.43h0M290.21 818.55h0M297.89 819.39h0M289.25 818.93h0M297 819.3h0M283.67 819.52h0M297.92 819.04h0M287.39 818.87h0M290.44 819.03h0M295.85 819.53h0M285.08 818.45h0M286.57 819.01h0M294.07 818.86h0M282.05 818.61h0M284.12 817.53h0M289.37 818.17h0M291.49 817.16h0M289 817.18h0M275.98 817.38h0M276.52 818.25h0M296.55 817.4h0M284.72 818.12h0M290.85 817.28h0M297.78 817.84h0M274.22 817.38h0M286.59 817.61h0M287.58 817.61h0M293.41 817.36h0M296.68 818.21h0M281.23 816.64h0M295.7 816.68h0M281.75 817.06h0M280.72 816.42h0M292.53 816.3h0M291.22 816.67h0M284.21 816.74h0M275.61 816.11h0M286.04 816.44h0M278.81 816.17h0M287.23 816.3h0M296.05 816.04h0M287.14 816.11h0M294.58 816.76h0M281.2 816.6h0M296.41 816.69h0M295.68 816.94h0M287.6 814.81h0M281.07 814.98h0M283.08 815.38h0M279.48 814.75h0M291.07 814.96h0M295.31 814.73h0M273.43 815.18h0M295.95 814.71h0M281.73 815.07h0M288.74 815.84h0M278.18 814.74h0M280.46 815.71h0M295.37 814.8h0M290.58 814.72h0M287.78 815.16h0M285.32 815.23h0M290.39 814.16h0M292.78 813.6h0M295.68 814.17h0M294.15 813.87h0M273.32 813.9h0M286.06 813.59h0M292.86 814h0M284.85 813.48h0M287.7 814.01h0M275.77 814.2h0M278.04 813.63h0M279.74 813.09h0M274.44 812.95h0M281.18 812.32h0M275.04 812.66h0M290.1 812.69h0M275.26 813.38h0M292.77 812.9h0M286.13 813.25h0M279.61 811.48h0M277.52 811.78h0M297 811.29h0M280.9 811.09h0M298.57 812.05h0M283.36 811.02h0M289.99 811.29h0M290.89 811.03h0M284.31 812.13h0M297.55 810.94h0M284.87 809.89h0M278.31 809.76h0M290.08 809.75h0M297.85 810.44h0M292.58 809.9h0M274.92 810.65h0M286.74 809.91h0M282.53 810.25h0M284.31 809.17h0M273.21 809.68h0M288.84 809.18h0M278.14 809.63h0M285.35 809.35h0M296.86 809.63h0M293.11 809.47h0M294.87 808.91h0M284.85 809.01h0M277.89 809.09h0M275.12 808.67h0M298.51 808.23h0M285 807.79h0M278.08 807.77h0M298.35 807.83h0M280.52 808.14h0M291.05 807.74h0M289.03 807.65h0M295.3 807.91h0M276.45 807.47h0M277.94 808.34h0M280.16 807.35h0M279.32 807.46h0M281.07 808.25h0M293.67 808.47h0M279.06 807.74h0M290.37 806.12h0M287.65 806.99h0M287.08 806.45h0M279.32 806.15h0M296.04 806.81h0M284.04 806.84h0M279.87 806.39h0M288.92 806.36h0M290.54 806.21h0M297.85 806.99h0M273.65 806.67h0M296.09 806.84h0M274.06 807.14h0M273.36 804.98h0M286.99 805.04h0M286.07 805.13h0M298.77 804.95h0M294.28 805.92h0M273.94 805.34h0M275.91 805.69h0M278.8 805.93h0M280.38 805.98h0M284.55 805.57h0M286.66 805.25h0M274.91 804.95h0M298.69 805.51h0M292.07 803.88h0M281.22 803.76h0M294.3 804.7h0M278.79 804.01h0M280.8 804.03h0M296.61 804.62h0M290.88 804.11h0M273.58 804.63h0M288.44 803.86h0M281.47 802.52h0M273.67 803.41h0M278.83 802.89h0M282.72 802.65h0M285.61 802.74h0M280.6 802.87h0M278 803.42h0M278.98 803.03h0M298.42 802.58h0M290.56 802.71h0M287.9 803.54h0M289.2 801.55h0M298.85 801.24h0M275.2 801.23h0M295.08 801.19h0M273 801.23h0M280.6 801.47h0M277.26 800.13h0M296.81 800.11h0M282.05 800.67h0M294.71 800.96h0M291.54 800.1h0M282.5 800.01h0M293.09 801.04h0M282.08 800.48h0M286.59 800.21h0M291.8 800.49h0M284.51 799.15h0M276.66 799.1h0M289.68 798.96h0M281.35 799.24h0M281.29 798.21h0M282.31 798.26h0M273.56 798.06h0M297.85 798.65h0M283.57 797.55h0M281.05 798.32h0M282.35 798.61h0M297.88 797.69h0M297.59 796.45h0M292.19 796.55h0M297.56 797.22h0M288.48 796.73h0M289.88 797.21h0M297 797.13h0M290.21 796.37h0M296.55 796.58h0M295.37 795.16h0M293.87 795.22h0M294 795.27h0M298.23 795.67h0M293.03 795.78h0M277.7 795.3h0M296.68 796.04h0M280.4 795.44h0M285.91 795.32h0M285.01 795.4h0M284.5 794.01h0M285.96 794.82h0M275.69 794.89h0M272.91 794.7h0M294.14 794.46h0M291.78 794.09h0M298.6 793.39h0M289.87 793.29h0M280.3 792.91h0M297.62 793.6h0M283 793.78h0M286.38 792.67h0M286.66 792.94h0M276.48 793.06h0M289.36 792.41h0M289.96 791.57h0M295.02 792.33h0M284.85 792.28h0M283.35 791.39h0M280.51 792.28h0M292.75 791.3h0M286.19 790.61h0M292.02 791.09h0M279.29 789.13h0M278.38 790.11h0M275.64 789.78h0M279.63 789.38h0M288.22 789.62h0M277.28 788.98h0M282.4 789.7h0M297.58 788.75h0M282.68 788.32h0M286.25 788.37h0M293.27 786.72h0M288.33 787.16h0M281.83 786.72h0M295.92 786.72h0M274.29 787.15h0M294.8 785.48h0M295.68 785.26h0M288.73 785.69h0M290.88 785.98h0M298.54 785.58h0M282.78 785.93h0M283.73 784.35h0M292.35 784.43h0M292.45 783.15h0M276.01 783.89h0M294.89 782.85h0M289.08 782.83h0M273.34 781.67h0M281.44 781.89h0M295.11 781.73h0M284.41 782.6h0M285.27 780.5h0M298.04 779.22h0M275.72 779.26h0M292.93 778.64h0M287.99 777.73h0M287.53 775.81h0M286.42 775.89h0M292.18 775.92h0M285.02 774.74h0M299.1 773.56h0M283.35 773.95h0M291.35 772.27h0M294.32 772.91h0M289.45 771.06h0M291.55 770.95h0M295.8 768.76h0M283.72 768.68h0M276.89 769.22h0M288.46 765.58h0M285.66 766.67h0M299.04 764.41h0M276.15 764.29h0M294.28 763.59h0M278.76 763.46h0M289.34 762.81h0M281.29 757.63h0M292.59 754h0M291.36 749.46h0M296.42 748.86h0M280.72 748.33h0M273.86 744.8h0M276.48 742.03h0M273.58 740.31h0M274.85 738.95h0M283.07 738.34h0M274.33 737.34h0M297.08 735.65h0M296.4 734.47h0M279.06 733.97h0M274.48 733.61h0M283.61 732.57h0M292.29 733.24h0M284.86 726.98h0M284.62 725.34h0M274.12 721.63h0M387.67 804.25h0M378.71 804.32h0M386.56 804.13h0M389.73 803.39h0M369.89 804.19h0M402.09 804.31h0M389.48 803.65h0M401.84 804.03h0M380.32 803.19h0M389.17 803.92h0M371.8 804.11h0M372.73 803.77h0M402.79 804.21h0M374.68 803.33h0M392.46 803.46h0M388.44 803.34h0M371.47 803.27h0M389.49 804.14h0M376.71 804.17h0M395.64 803.43h0M387.52 804.08h0M384.38 804.34h0M400.62 803.24h0M389.04 804.3h0M373.21 804.15h0M401.04 803.21h0M390.33 804.28h0M367.94 803.59h0M396.97 802.43h0M382.63 803.07h0M397.49 802.83h0M372.01 802.07h0M379.47 802.24h0M373.15 802.93h0M369.17 802.39h0M369.21 802.79h0M379.73 801.9h0M380.6 802.32h0M372.51 802.3h0M376.64 802.1h0M395.04 802.78h0M392.44 802.27h0M374.68 802.45h0M374.65 802.81h0M376.61 802.99h0M398.8 802.68h0M375.47 802.41h0M372.3 802.81h0M389.51 802.19h0M393.55 802.04h0M383.41 802.5h0M368.04 802.93h0M381.39 802.37h0M401.84 801.47h0M383.7 801.82h0M370.82 801.37h0M394.02 801.28h0M403.41 801.22h0M397.92 801.59h0M391.43 801.74h0M399.53 801.88h0M379.83 800.74h0M374.6 801.85h0M403.05 801.27h0M400.28 800.77h0M395.53 801.66h0M370.27 801.49h0M382.88 801.07h0M383.06 800.68h0M382.9 801.49h0M384.86 801.73h0M402.85 800.69h0M374.06 800.91h0M380.96 801.51h0M375.71 801.83h0M385.81 800.78h0M373.67 801.39h0M404.94 800.99h0M382.43 801.66h0M397.92 801.03h0M391.23 801.85h0M370.52 801.73h0M386.99 799.81h0M401.29 799.47h0M385.67 799.53h0M373.14 800.37h0M382.5 800.01h0M403.11 800.48h0M399.83 800.54h0M378.32 800.51h0M402.42 800.64h0M376.56 800.21h0M383.69 800.64h0M380.33 800.5h0M378.53 800.45h0M389.48 800.56h0M392.03 800.53h0M372.49 799.56h0M379.96 799.54h0M385.55 800.31h0M394.9 799.51h0M373.42 800.09h0M383.01 799.95h0M396.49 800.57h0M405.32 798.78h0M372.38 798.78h0M395.42 798.59h0M375.07 798.79h0M391.92 799.11h0M374.03 798.52h0M370.96 799.03h0M390.43 799.43h0M400.6 799.22h0M382.33 798.29h0M367.95 798.77h0M382.04 799.18h0M403.87 799.31h0M389.36 799.39h0M404.88 799.01h0M405.18 798.22h0M374.27 798.23h0M384.45 799.22h0M400.02 799.09h0M393.12 798.77h0M403.19 798.91h0M371.87 799h0M389.74 798.84h0M395.49 797.39h0M397.76 798.16h0M374.37 797.71h0M400.24 797.52h0M403.46 797.63h0M397.8 797.97h0M402.93 798.01h0M377.9 797.09h0M375.82 797.31h0M369.15 798.15h0M369.17 797.36h0M385.69 797.55h0M388.92 798.04h0M399.76 797.87h0M387.28 797.96h0M398.21 797.12h0M394.37 797.93h0M403.08 797.98h0M370.45 798.03h0M386.22 797.63h0M382.92 797.67h0M404.57 796.54h0M385.55 795.91h0M402.38 796.18h0M387.67 796.42h0M381 796.08h0M388.65 795.79h0M390.86 796.36h0M405.23 796.64h0M399.67 796.8h0M386.64 796.79h0M394.42 795.9h0M377.17 796.29h0M376.08 796.5h0M391.65 796.43h0M375.98 795.57h0M383.43 795.32h0M396.6 795.43h0M374.31 794.9h0M402.02 794.75h0M398.64 795.7h0M381.28 795.11h0M404.33 794.65h0M400.45 795.63h0M385.09 795.74h0M370.36 795.57h0M371.54 795h0M385.04 795.59h0M395.07 795.24h0M392.56 795.69h0M400.04 794.68h0M376.65 795.09h0M397.92 794.63h0M382.93 795.18h0M398.12 795.55h0M369.76 794.76h0M380.64 795.73h0M397.88 795.36h0M396.41 795.56h0M381.83 794.78h0M373.72 794.98h0M375.16 794.36h0M397.18 793.92h0M375.25 793.48h0M376.1 794.12h0M400.99 793.79h0M392.03 794.41h0M374.08 793.6h0M398.51 793.73h0M390.73 794.42h0M396.01 794.43h0M374.92 794.23h0M368.97 794.46h0M395.45 793.45h0M386.22 794.45h0M380.63 794.12h0M383.45 793.75h0M402.02 793.92h0M382.05 793.48h0M377.5 793.55h0M396.52 793.43h0M402.93 794.01h0M372.84 793.73h0M368.64 793.73h0M394.92 793.59h0M384.09 793.71h0M400.44 794.01h0M390.16 793.53h0M371.59 792.52h0M375.73 792.44h0M403.71 793.21h0M378.17 793.27h0M394.55 792.81h0M373.09 793.19h0M389.92 793.04h0M402.88 792.14h0M372.21 793.3h0M369.21 792.55h0M380.43 792.82h0M402.59 793.06h0M397.48 792.69h0M405.17 792.97h0M368.69 792.22h0M395 792.51h0M400.88 792.56h0M399.59 793.1h0M404.38 792.68h0M376.51 792.87h0M397.06 790.86h0M373.66 791.78h0M400.62 791.91h0M390.71 791.73h0M375.54 791.12h0M378.24 791.68h0M399.85 791.55h0M399.41 791.88h0M388.66 791.89h0M377.06 791.68h0M395.43 791.85h0M374.23 790.91h0M387.97 791.82h0M391.94 791.97h0M369.52 791.06h0M401.67 791.6h0M369.16 791.72h0M388.43 791.59h0M385.32 789.62h0M391.16 790.78h0M402.04 790.72h0M386.97 790.51h0M387.57 790.59h0M371.8 790.67h0M396.63 790.61h0M375.13 789.99h0M382.44 790.16h0M373.95 790.59h0M369.84 790.16h0M400.52 790.51h0M403.19 790.21h0M393.1 790.5h0M386.06 789.87h0M388.26 790.25h0M387.31 789.84h0M385.77 790.58h0M385.68 790.22h0M399.68 790.44h0M369.92 790.13h0M378.78 788.73h0M390.61 789.46h0M393.5 789.08h0M398.69 789.38h0M400.79 789.11h0M402.74 789.21h0M401.26 788.45h0M399 788.97h0M394.21 789.55h0M375.18 789.12h0M392.38 789.1h0M402.14 788.61h0M384.92 788.57h0M376.61 789.09h0M376.96 788.76h0M370.33 788.76h0M384.32 789.45h0M384.35 788.82h0M369.58 788.53h0M379.92 787.87h0M386.55 787.64h0M369.32 788.27h0M404.57 787.34h0M374.19 787.94h0M378.79 787.8h0M399.13 787.75h0M370.31 787.23h0M373.69 787.27h0M369.51 787.21h0M402.12 787.95h0M387.48 787.63h0M400.41 787.5h0M400.38 787.96h0M378.79 787.49h0M398.68 786.26h0M394.1 786.58h0M377.02 786.66h0M397.39 786.69h0M376.56 786.19h0M375.78 786.8h0M371.33 786.59h0M382.45 787.15h0M383.83 786.14h0M370.89 785.94h0M404.59 786.89h0M371.22 786.03h0M390.94 786.76h0M390.28 786.48h0M397.19 786.12h0M383.63 786.5h0M390.92 787.01h0M377.71 786.15h0M395.52 787.06h0M399.12 787.08h0M376.73 786.69h0M401.6 786.77h0M398.38 786.27h0M379.3 786.68h0M383.48 785.53h0M397.18 785.08h0M402.74 785.01h0M397.71 785.36h0M382.8 784.87h0M371.7 785.03h0M384.48 785.3h0M404.75 785.5h0M402.24 784.89h0M380.13 785.66h0M381.84 785.72h0M404.67 785.19h0M395.46 785.43h0M374.13 785.1h0M394.83 785.65h0M390.97 785.75h0M368.52 785.78h0M382.47 784.73h0M371.08 783.52h0M402.62 784.05h0M402.72 784.2h0M373.16 783.94h0M394.48 783.63h0M390.41 783.94h0M373.67 784.64h0M376.37 784.35h0M400.26 783.61h0M376.7 783.75h0M369.64 784.3h0M403.01 783.91h0M384.21 783.56h0M387.28 783.65h0M380.04 784.71h0M387.12 783.56h0M394.35 783.93h0M373.58 784.4h0M384.53 784.2h0M389.84 783.71h0M400.31 782.8h0M368.89 783.1h0M373.4 783.08h0M372.15 782.82h0M368.46 782.78h0M391.41 782.52h0M390.91 782.63h0M391.2 782.28h0M398.32 782.21h0M380.91 781.07h0M398.55 781.36h0M378.42 781.84h0M372.66 781.58h0M401.59 781.58h0M368.08 781.35h0M376.47 781.56h0M387.25 782.09h0M390.76 782.05h0M389.12 781.77h0M371.96 781.07h0M385.67 780.89h0M397.9 780.72h0M376.06 780.68h0M395.46 780.81h0M391.66 780.29h0M397.68 780.66h0M399.8 780.42h0M398.13 780.35h0M378.88 780.3h0M378.28 780.92h0M395.14 779.99h0M377.38 780.1h0M385.19 780.26h0M375.57 780.71h0M377.3 780.72h0M386.56 780.48h0M389.55 779.19h0M403.37 779.45h0M396.22 779.09h0M388.63 779.02h0M387.55 779.06h0M400.48 779.66h0M395.35 778.81h0M380.28 779.61h0M390.42 779.8h0M382.6 779.19h0M380.21 778.6h0M392.14 778.48h0M389.61 777.89h0M381.83 777.59h0M375.09 778.34h0M372.93 778.04h0M375.94 778.16h0M404.87 777.96h0M373.84 777.69h0M401.03 777.52h0M385.42 777.61h0M392.59 777.93h0M397.86 777.93h0M404.27 777.08h0M369.46 777.22h0M384.98 776.59h0M368.81 776.84h0M378.09 776.45h0M383.56 776.84h0M369.2 777.03h0M376.7 776.62h0M369.36 776.81h0M404.36 776.41h0M385.69 776.19h0M376.83 776.59h0M369.65 776.98h0M375.98 776.22h0M387.21 776.93h0M377.8 776.53h0M379.22 774.94h0M388.1 775.18h0M402.58 775.1h0M372.39 775.32h0M383.91 775.7h0M400.64 775.85h0M389.2 775.2h0M390.92 774.94h0M382.48 773.76h0M404.39 773.99h0M404.02 773.78h0M397.11 774.63h0M395.28 774.43h0M380.18 774.22h0M390.01 774.26h0M371.81 774.67h0M381.19 774.88h0M375.19 773.28h0M387.02 773.38h0M399.66 773.17h0M373.99 773.31h0M383.29 773.17h0M376.59 773.1h0M387.59 772.92h0M373.71 772.74h0M369.88 772.94h0M378.82 773.65h0M394.43 772.33h0M391.69 771.32h0M402.25 771.8h0M381.99 771.5h0M394.04 771.57h0M375.18 771.52h0M382.49 771.9h0M391 772h0M371.91 770.38h0M399.29 770.6h0M393.11 771.19h0M376.81 771.05h0M390.06 770.23h0M371.13 769.15h0M400.65 768.83h0M388.57 768.8h0M382.11 769.88h0M390.55 769.61h0M399.66 769.27h0M371.04 767.89h0M371.2 768.43h0M403.34 767.67h0M394.3 767.82h0M392.48 767.43h0M386.21 767.49h0M379.52 766.69h0M374.83 766.62h0M371.92 765.46h0M377.62 766.08h0M379.02 765.29h0M371.02 766.19h0M391.12 764.1h0M391.22 765.02h0M382.51 764.08h0M378.16 764.32h0M381.1 763.52h0M378.59 762.82h0M401.44 763.8h0M376.66 762.98h0M405.47 763.19h0M374.57 762.52h0M398.5 762.08h0M393.84 761.9h0M394.35 761.95h0M398.66 761.69h0M394.24 760.47h0M387.1 761.3h0M387.88 760.27h0M382.59 760.55h0M384.43 759.78h0M390.66 760.09h0M369.08 759.33h0M391.67 758.96h0M368.57 759.93h0M393.24 759.9h0M375.77 758.11h0M386.97 758.7h0M377.21 757.96h0M386.15 758.69h0M371.14 758.54h0M390.86 758.29h0M402.12 758.87h0M372.41 757.11h0M382.79 757.54h0M390.6 757.09h0M387.13 755.41h0M392.31 756.06h0M370.16 755.46h0M378.28 754.09h0M391 754.57h0M389.05 754h0M384.55 752.13h0M376.19 751.67h0M401.99 751.71h0M392.49 751.85h0M376.62 750.41h0M393.78 749.82h0M376.53 750.07h0M400.06 749.78h0M405.02 750.23h0M394.52 749.55h0M379.8 748.15h0M376.46 748.03h0M398.09 748.3h0M373.8 746.79h0M395.89 746.73h0M392.09 747.68h0M389.06 744.15h0M367.97 742.81h0M370.85 742.94h0M402.72 742.85h0M377.08 737.21h0M383.95 737.25h0M397.58 735.47h0M370.61 734.46h0M377.34 734.54h0M398.78 734.95h0M383.23 734.95h0M384.82 733.16h0M404.5 733.05h0M378.98 729.33h0M378.77 728.61h0M374.61 726.47h0M398.1 723.34h0M376.26 721.02h0M476.45 807.63h0M470.86 807.53h0M484.74 807.48h0M485.31 807.89h0M477.33 807.5h0M486.14 807.33h0M487.48 807.89h0M471.38 807.7h0M472.07 807.77h0M485.94 807.24h0M485.47 807.98h0M475.59 807.37h0M481.27 807.97h0M475.84 807.52h0M480.73 807.82h0M479.27 806.25h0M486.84 806.76h0M487.86 806.53h0M478.43 806.68h0M486.84 806.75h0M472.15 805.87h0M478.14 805.92h0M479.91 804.53h0M477.37 805.21h0M470.43 805.07h0M472.34 805h0M478.59 805.02h0M471.18 805.55h0M483.29 804.55h0M484.43 804.99h0M480.84 805.02h0M482.6 804.42h0M481.06 805.12h0M486.16 804.63h0M477.09 805.5h0M471.35 804.53h0M486.24 803.29h0M471.78 803.42h0M470.16 803.55h0M486.53 804.24h0M471.22 803.41h0M486.7 803.32h0M479.78 803.67h0M480.27 803.95h0M486.07 803.73h0M485.67 803.76h0M480.56 803.49h0M469.74 803.62h0M487.38 803.56h0M482.93 804.26h0M483.11 804.12h0M471.55 803.51h0M479.45 803.47h0M481.84 803.44h0M485.5 804.17h0M481.65 804.19h0M483.45 803.35h0M475.26 803.19h0M470.16 802.62h0M487.41 802.9h0M478.57 802.84h0M483.85 802.02h0M475.21 802.18h0M475.13 803.01h0M485.44 801.96h0M484.72 802.23h0M475.4 803.03h0M487.12 802.87h0M470.6 802.07h0M486.68 803.05h0M473.35 802.65h0M474.35 801.52h0M476.18 801.76h0M471.58 801.56h0M476.17 800.69h0M485.8 801.8h0M482.15 801.32h0M475.3 801.06h0M474.55 801.07h0M487.12 800.67h0M487.4 800.88h0M484.82 801.44h0M485.25 801.7h0M475.97 801.07h0M469.74 801.29h0M481.42 800.89h0M473.96 799.65h0M484.12 800.01h0M471.06 800.52h0M471.23 800.22h0M477.9 799.82h0M486.66 800.07h0M486.18 799.93h0M482.3 800.42h0M480.95 800.42h0M479.61 800h0M486.77 798.36h0M478.39 798.61h0M471.02 799.03h0M487.86 799h0M475.63 798.68h0M479.66 798.89h0M487.56 799.23h0M486.58 799.02h0M476.38 798.91h0M478.02 798.2h0M477.72 797.17h0M479.17 797.88h0M474.58 797.46h0M470.77 797.11h0M480.14 798.08h0M484.41 797.65h0M481.71 797.95h0M480.77 796.13h0M477.34 796.43h0M484.54 796.23h0M487.33 796.75h0M479.66 796.54h0M484.05 796.43h0M475.35 796.35h0M480.13 796.9h0M487.02 795.86h0M481.84 796.76h0M486.37 795.84h0M481.01 794.78h0M481.51 795h0M475.2 795.27h0M478.93 795.74h0M474.41 795.64h0M476.66 794.74h0M485.3 793.82h0M471.1 793.42h0M472.11 793.51h0M474.36 793.42h0M479.72 794.14h0M469.68 793.76h0M484.64 794.39h0M476.73 793.93h0M480.97 792.92h0M478.07 793.02h0M472.34 792.39h0M475.64 792.95h0M476.15 793.2h0M484.74 793.26h0M485.28 792.97h0M483.48 793.08h0M473.73 792.89h0M481.62 793.28h0M479.61 793h0M471.58 792.72h0M482.96 791.13h0M474 791.9h0M484.66 791.96h0M479.19 791.61h0M481.4 791.21h0M477.94 790.88h0M472.34 791.86h0M479.93 791.65h0M477.96 791.04h0M478.12 791.29h0M477.89 791.11h0M481.97 790.23h0M470.36 790.02h0M474.51 790.43h0M486.56 790.42h0M484.96 790.44h0M480.79 788.94h0M484.7 788.54h0M486.5 789.12h0M472.75 788.61h0M486.95 789.4h0M478.52 789.43h0M477.6 789.2h0M472.15 788.4h0M485.86 788.86h0M474.73 788.95h0M480.83 787.97h0M486.82 787.49h0M483.55 788h0M476.75 787.85h0M469.66 787.2h0M477.51 787.9h0M470.93 787.54h0M481.5 787.41h0M480.44 788.31h0M472.55 788.29h0M475.84 788.3h0M479.82 786.92h0M479.23 787.05h0M477.25 787.13h0M486.96 786.32h0M481.87 787.07h0M474.85 786.28h0M481.9 785.12h0M474.5 785.22h0M474.03 785.58h0M476.08 784.83h0M472.73 784.82h0M471.82 785.24h0M479.03 784.63h0M482.94 784.47h0M480.21 783.69h0M476.68 784.5h0M484.27 784.19h0M470.1 783.01h0M477.25 783.19h0M474.04 782.53h0M476.76 782.32h0M471.87 782.47h0M475.78 783.11h0M482.51 782.37h0M476.76 782.98h0M477.65 781.08h0M471.73 782.03h0M486.85 782.12h0M487 781.86h0M482.44 781.06h0M481.04 781.36h0M471.9 780.74h0M482.1 779.73h0M476.78 779.31h0M473.33 779.61h0M486.26 779.47h0M481.82 779.28h0M476.69 777.53h0M484.56 778.05h0M483.23 777.6h0M480.7 778.32h0M480.11 777.1h0M471.6 777.2h0M476.53 776.42h0M483.67 777.06h0M474.91 775.36h0M486.73 775.67h0M474.21 775.93h0M470.55 776.03h0M473.91 775.2h0M481.1 774.14h0M472.46 773.9h0M469.86 774.79h0M477.73 774.55h0M476.26 772.98h0M483.63 772.88h0M473.95 773.18h0M484.23 773.39h0M470.98 772.75h0M483.47 772.3h0M484.84 772.33h0M482.65 771.73h0M483.19 772.11h0M479.01 772.01h0M475.33 770.47h0M482.85 771.04h0M475.09 768.99h0M480.54 767.99h0M484.62 766.41h0M483.38 766.49h0M472.7 766.63h0M476.53 766.37h0M475.31 763.66h0M476.99 761.33h0M473.01 759.15h0M479.62 759.57h0M483.97 758.33h0M482.26 757.84h0M470.2 758.72h0M478.83 756.86h0M471.25 757.69h0M479.76 756.81h0M471.31 757.23h0M472.12 757.58h0M483.32 755.98h0M475.16 755.88h0M486.57 755.06h0M484.58 754.85h0M485.61 753.76h0M471.96 752.07h0M476.88 750.46h0M481.75 751.08h0M480.23 751.14h0M475.73 749.22h0M474.06 749.42h0M476.78 749.79h0M476.5 749.5h0M470.48 749.29h0M474.31 747.27h0M487.06 744.26h0M476.19 745.13h0M484.04 742.98h0M486.17 740.77h0M486.92 738.94h0M477.26 738.96h0M483.32 730.45h0M482.19 729.95h0M479.44 728.39h0M482.1 724.78h0M480.95 723.17h0M484.66 721.09h0M590.46 803.91h0M561.31 804.79h0M589.29 805.08h0M572.28 804.1h0M560.99 804.07h0M582.15 804.96h0M582.64 804.57h0M595.61 804.18h0M585.37 804.24h0M585.58 804.22h0M587.05 803.86h0M591.48 804.03h0M598.65 804.65h0M591.62 805.07h0M567.39 804.99h0M599.8 804.94h0M576.51 804.72h0M569.53 804.47h0M588.42 804.07h0M566.15 803.91h0M577.48 804.48h0M597.43 804.63h0M567.51 804.01h0M561.18 804.72h0M571.21 804.58h0M574.38 803.13h0M577.09 803.2h0M591.82 802.7h0M591.73 803.07h0M596.7 803.64h0M584.86 803.44h0M584.41 802.85h0M577.59 802.95h0M585.76 803.61h0M572.46 803.43h0M600.87 803.19h0M586.87 803.62h0M586 803.31h0M576.77 803.24h0M574.92 803.68h0M571.56 802.96h0M563.34 803.55h0M564.91 803.1h0M593.3 803.23h0M598.36 803.8h0M571.32 802.9h0M596.88 802.66h0M573.1 803.22h0M559.75 802.8h0M588.09 803.08h0M561.57 803.16h0M592.17 802.89h0M579.6 803.64h0M565.7 802.55h0M566.38 802.34h0M580.8 801.98h0M578.49 802.51h0M584.02 801.49h0M584.62 801.65h0M597.8 801.44h0M595.86 801.93h0M577.79 802.41h0M597.19 802.55h0M592.8 802.27h0M594.99 802.18h0M595.95 802.13h0M581.58 801.9h0M583.11 802.6h0M573.35 802.37h0M569.35 801.88h0M592.94 802.14h0M573.19 801.64h0M587.14 801.94h0M592.35 801.57h0M581.16 801.68h0M561.54 801.8h0M587.46 801.75h0M583.96 801.49h0M579.98 801.94h0M561.53 802.07h0M575.41 801.12h0M593.85 800.41h0M580.59 800.24h0M570.94 800.45h0M592.77 801.27h0M567.74 800.7h0M594.83 800.26h0M597.75 800.41h0M595.29 801.03h0M574.71 801.28h0M578.31 801.35h0M567.68 800.92h0M575.62 801.1h0M584.24 801.33h0M569.85 800.97h0M588.29 801.07h0M568.6 800.25h0M579.34 800.36h0M583.37 800.47h0M590.55 800.6h0M567.4 800.76h0M562.91 800.8h0M596.54 800.37h0M572.69 800.51h0M598.41 800.67h0M590.66 801.33h0M594.5 801.35h0M562.03 800.95h0M596.98 801.35h0M565.94 800.58h0M583.59 800.59h0M573.84 800.85h0M560.14 799.13h0M571.09 799.07h0M592.33 799.83h0M597.85 799.8h0M567.6 799.51h0M565.47 799.46h0M594.23 799.25h0M601.1 799.68h0M592.79 799.55h0M594.32 799.59h0M563.47 799.56h0M583.55 800.15h0M585.63 799.89h0M588.2 799.84h0M586.04 800.03h0M594.96 799.97h0M563.04 799.39h0M599.78 799.07h0M588.75 799.12h0M582.15 799.75h0M566.02 799.01h0M589.1 800.03h0M562.22 799.57h0M560.39 799.57h0M587.97 799.63h0M565.22 799.68h0M576.63 800.08h0M565.16 799.2h0M570.88 798.58h0M596.37 798.6h0M589.3 797.88h0M569.61 798.23h0M560.89 798.17h0M597.48 798.29h0M566.32 798.52h0M578.41 797.79h0M577.08 798.22h0M564.47 798.63h0M588.23 797.77h0M601.45 797.91h0M588.4 798.63h0M568.08 798.77h0M597 798.81h0M578.2 798.92h0M568.6 797.78h0M590.02 798.06h0M585.72 798.83h0M581.29 798.41h0M596.03 798.15h0M583.13 797.75h0M567.55 798.21h0M591.86 798.68h0M563.84 796.98h0M562.4 797.64h0M569.6 797.05h0M564.7 797.26h0M575.37 797.15h0M576.55 797.44h0M588.63 796.51h0M563.68 797.5h0M561.39 797.13h0M588.61 797h0M575.5 796.71h0M590.49 797.4h0M585.09 797.29h0M593.64 796.51h0M590.73 796.64h0M589.16 797.32h0M589.04 796.6h0M582.8 797.39h0M581.09 797.44h0M579.88 797.41h0M592.76 797.31h0M578.91 795.85h0M586.94 796.34h0M569.63 796.33h0M597.27 796.44h0M561.01 796.19h0M577.69 795.46h0M601.08 795.31h0M569.78 795.82h0M567.68 795.31h0M583.52 796.4h0M584.16 796h0M568.25 795.99h0M573.15 796.17h0M591.36 795.52h0M590.77 795.5h0M587.69 796.02h0M567.01 796.1h0M568.59 795.39h0M579.53 796.36h0M568.75 795.94h0M580.2 795.77h0M565.6 796.22h0M572.97 794.58h0M598.92 794.54h0M594.39 794.7h0M590.18 795.18h0M585.64 794.99h0M594.94 794.07h0M574.19 794.8h0M585.79 794.32h0M570.35 794.98h0M578.79 794.32h0M583.98 795.24h0M581.54 794.04h0M567 794.49h0M600.35 795.17h0M579.76 795.21h0M595.84 794.17h0M571.41 794.86h0M583.29 794.46h0M561.2 794.5h0M572.36 794.34h0M566.15 794.64h0M576.87 794.83h0M581.28 795.23h0M570.21 794.86h0M591.8 794.29h0M563.44 795.18h0M580.12 795.03h0M582.57 795.01h0M581.65 794.88h0M565.04 794.85h0M593.49 793.07h0M588.86 793.18h0M570.09 793.25h0M592.41 793.2h0M586.5 792.86h0M582.97 793.78h0M575.73 793.64h0M563.36 793.2h0M588.82 793.78h0M581.21 793.37h0M563.08 793.17h0M565.46 794.01h0M562.2 792.91h0M559.82 793.62h0M589.34 793.21h0M572.5 793.71h0M574.26 793.46h0M591.55 792.98h0M597.06 793.16h0M584.61 792.94h0M588.04 793.4h0M581.18 793.19h0M561.52 792.59h0M569.85 791.72h0M594.72 791.86h0M599.41 792.52h0M562.31 792.56h0M580.49 792.14h0M577.74 791.69h0M571.43 792.41h0M596.33 792.12h0M568.86 791.74h0M585.13 792.51h0M582.85 792.16h0M577.82 792.3h0M569.21 792.08h0M600.47 792.21h0M587.32 792.24h0M575.83 792.81h0M582.44 792.34h0M584.45 792.73h0M588.73 792.1h0M567.83 792.31h0M597.27 792.06h0M599.97 792.46h0M574.96 792.73h0M594.68 790.5h0M593.69 791.01h0M587.41 791.41h0M576.86 791h0M571.18 791.44h0M579.11 790.71h0M574.96 790.6h0M597.41 790.79h0M597 791.57h0M588.87 790.83h0M560.18 791.48h0M595.17 790.76h0M567.96 791.12h0M565.92 791.3h0M561.84 790.55h0M598.45 791.53h0M598.93 791.47h0M593.93 789.67h0M568.33 789.71h0M565.86 790.25h0M587.5 790.19h0M590.46 789.27h0M600.41 789.73h0M577.69 790.31h0M565.67 789.75h0M573.58 789.64h0M585.42 789.45h0M578.57 789.46h0M574.46 789.76h0M592.63 790.15h0M576.37 789.16h0M565.39 789.21h0M566.96 789.59h0M568.94 790.2h0M597.46 789.56h0M581.28 790.15h0M573.07 790.12h0M587.93 789.22h0M578.1 790.28h0M597.08 789.54h0M588.1 789.85h0M579.61 789h0M569.05 788.5h0M571.42 788.62h0M571.76 788.66h0M570 788.98h0M565.85 788.68h0M600.19 788.01h0M586.94 789.07h0M595.05 787.94h0M586.03 789.12h0M570.81 788h0M595.11 788.47h0M572.06 788.54h0M571.1 788.52h0M578.85 788.22h0M600.81 788.14h0M561.53 788.22h0M584.09 788.3h0M598.39 787.98h0M593.51 788.82h0M567.47 788.39h0M577.91 787.96h0M559.8 788.71h0M591.78 788.36h0M585.91 788.97h0M572.85 788.43h0M560.24 787.38h0M580.54 787.29h0M588.1 787.7h0M599.36 787.55h0M580.47 787.32h0M563.31 787h0M575.92 787.76h0M583.71 787.17h0M571.39 786.68h0M574.73 787.64h0M570.01 787.74h0M560.78 787h0M587.51 787.61h0M589.45 787.56h0M580.93 787.42h0M569.03 787.25h0M565.08 786.81h0M582.65 787.36h0M590.39 787.31h0M588.72 787.73h0M579.28 787.7h0M570.51 787.67h0M574.84 787.77h0M595.2 786.7h0M570.15 787.44h0M574.77 787.5h0M585.02 786.4h0M568.1 786.16h0M600.48 786.32h0M588.92 785.98h0M589.75 786.39h0M599.7 785.63h0M592.5 785.81h0M565.01 786.1h0M595.04 786.45h0M592.94 785.65h0M577.02 786.41h0M567.77 785.55h0M571.45 786.37h0M589.86 786.07h0M566.58 785.65h0M582.17 786.06h0M581.45 786.48h0M590.49 786.4h0M569.18 786.67h0M566.23 785.06h0M600.41 784.73h0M562.64 784.6h0M573.43 784.46h0M567.39 784.89h0M565.92 784.53h0M586.64 784.24h0M569.78 784.35h0M561.42 785.14h0M574.01 784.36h0M584.92 784.39h0M580 785.06h0M573.62 784.62h0M568.49 784.48h0M587 784.7h0M572.63 784.8h0M573.8 784.44h0M593.83 784.78h0M570.07 784.84h0M575.75 785.24h0M591.48 785.43h0M600.59 784.58h0M599.14 784.69h0M561.27 784.75h0M585.33 785.08h0M567.52 784.65h0M587.5 785.14h0M586.56 783.73h0M586.15 783.54h0M586.09 784.08h0M588.09 783.61h0M588.67 783.96h0M571.57 784.2h0M573 784.18h0M567.15 783.28h0M570.22 783.41h0M569.27 784.19h0M566.22 783.96h0M577.79 784.06h0M573.87 783.61h0M583.83 784h0M562.81 783.14h0M579.72 783h0M578.14 783.54h0M596.82 782.17h0M566.15 782.52h0M590.01 781.94h0M562.18 781.9h0M590.03 782.36h0M565.17 782.56h0M560.18 782.36h0M560.58 782.32h0M592.93 782.83h0M590.69 782.12h0M576.37 781.89h0M569.72 782.61h0M563.92 782.05h0M562.61 781.75h0M560.72 780.6h0M585.55 780.78h0M586.41 780.74h0M568.84 780.89h0M566.25 781.12h0M565.89 780.83h0M568.34 780.57h0M566.55 781.44h0M594.67 781.74h0M560.92 780.69h0M592.68 781.41h0M573.43 779.78h0M570.85 780.23h0M561.46 780.5h0M598.74 779.9h0M575.05 780.51h0M585.36 780.18h0M578.56 780.2h0M583.57 780.5h0M566.65 779.63h0M569.06 780.46h0M565.89 780.06h0M570.65 779.59h0M559.91 778.25h0M569.8 778.53h0M589.87 778.51h0M573.5 778.86h0M581.27 778.69h0M596.67 778.85h0M572.59 778.26h0M589.41 779.15h0M581.58 778.23h0M584.33 778.86h0M589.25 777.36h0M577.1 777.56h0M589.04 777.4h0M581.15 777.46h0M562.88 777.07h0M571.19 777.23h0M592.64 777.14h0M567.42 777.05h0M588.05 777.38h0M570.31 777.54h0M585.94 778.05h0M587.54 777.89h0M598.21 778.03h0M590.55 777.27h0M565.9 775.99h0M582.56 776.24h0M595.01 776.62h0M595.43 775.98h0M563.49 776.79h0M594.47 776.35h0M583.26 776.03h0M598.7 776.76h0M571.41 775.99h0M589.63 776.67h0M590.8 775.82h0M592.55 775.95h0M567.13 776.58h0M564.89 776.59h0M568.38 776.79h0M565.44 776.5h0M574.19 775.62h0M570.8 775.38h0M590.33 775.08h0M597.68 774.63h0M566.61 774.61h0M583.31 774.94h0M572.4 775.11h0M589.81 774.66h0M579.52 774.96h0M593.76 775.18h0M589.78 775.27h0M566.73 774.88h0M562.84 774.53h0M584.28 774.34h0M572.63 773.76h0M585.05 774.05h0M582.57 773.83h0M600.04 774.41h0M567.53 773.93h0M560.71 773.21h0M589.62 773.94h0M598.52 773.52h0M578.22 772.84h0M574.48 772.22h0M566.02 771.91h0M595.48 770.85h0M561.99 771.61h0M598.05 771.94h0M595.55 771.29h0M599.27 771h0M584.24 771.54h0M574.41 771.37h0M567.2 770.78h0M589.84 770.84h0M593.49 771.54h0M595.95 769.6h0M601.5 770.48h0M562.91 770.36h0M564.85 769.97h0M596.1 770.02h0M579.24 769.76h0M579 770.41h0M598.13 770.64h0M587.63 769.96h0M582.03 770.2h0M572.58 769h0M566.13 769.01h0M564.11 768.73h0M586 769.05h0M582.55 769.1h0M577.29 768.63h0M570.58 767.5h0M563.65 767.65h0M565.17 767.14h0M590.84 767.9h0M568.42 768h0M580.11 768h0M581.18 767.22h0M585.96 768.25h0M589.8 768h0M581.74 766.91h0M583.05 766.49h0M565.57 766.96h0M601.18 766.93h0M574.16 766.24h0M580.1 766.9h0M599.93 764.75h0M567.12 764.93h0M563.88 765.77h0M574.07 765.64h0M577.93 765.54h0M560.49 764.23h0M574.23 764.13h0M575.97 763.93h0M576.62 763.89h0M580.61 763.8h0M585.56 762.61h0M585.26 763.24h0M594.86 763.33h0M589.71 762.2h0M562.42 762.05h0M592.35 761.65h0M581.04 761.21h0M567.51 761.57h0M585.83 761.59h0M592.43 760.35h0M600.85 758.56h0M572.18 759.16h0M563.7 759.19h0M577.83 759.22h0M594.6 759.56h0M597.21 757.65h0M574.87 757.24h0M570.76 757.75h0M567.27 758.24h0M576.86 756.11h0M600.67 756.08h0M596.24 756.7h0M560.71 756.18h0M568.22 756.72h0M579.56 756.34h0M596.47 755.42h0M595.71 755.21h0M560.03 754.45h0M594.58 753.87h0M600.77 753.66h0M598.99 754.05h0M572.98 754.58h0M583.98 753.42h0M576.98 753.39h0M565.41 752.2h0M584.02 752.22h0M580.08 750.1h0M590.91 749.92h0M583.15 748.75h0M598.95 749.57h0M564.22 749.25h0M562.62 748.08h0M563.83 747.43h0M588.2 748.19h0M590.87 746.74h0M580.33 746.53h0M559.73 746.98h0M570.9 746.99h0M573.51 745.78h0M565.53 745.61h0M583.15 746.08h0M565.43 745.17h0M574.82 744.16h0M585.67 744.52h0M584.35 744.18h0M591.13 744.73h0M564.51 743.58h0M573.05 742.1h0M589.02 741.06h0M572.08 739.49h0M566.63 739.26h0M588.28 739.25h0M576.32 739.74h0M584.76 738h0M591.83 737.42h0M596.39 736.77h0M583.41 735.98h0M575.05 735.55h0M589.61 734.76h0M566.83 735h0M597.82 733.99h0M587.23 734.63h0M592.78 734.91h0M572.31 733.81h0M563.92 731.72h0M569.1 731.79h0M580.82 731.72h0M572.65 729.49h0M578.96 728.56h0M564.27 728.06h0M577.26 726.64h0M594.14 727.34h0M598.28 725.4h0M596.58 724.95h0M571.36 723.08h0M573.75 721.9h0M561.76 722.69h0" stroke="#a9a9a9" stroke-width="3.8" stroke-linecap="round" fill="none"/>
<path d="M202.99 806.79h0M202.86 806.24h0M208.62 805.77h0M211.27 806.64h0M201.2 806.24h0M196.52 806.62h0M197.37 806.57h0M196.91 806.13h0M193.93 806.47h0M210.1 806.72h0M200.84 806.26h0M211.57 806.64h0M201.42 805.24h0M193.88 805.06h0M192.93 805.42h0M204.77 805.51h0M203.69 804.39h0M204.04 805.33h0M197.42 804.97h0M197.01 804.59h0M192.62 805.2h0M210.34 805.28h0M209.33 803.23h0M200.69 803.25h0M208.82 803.99h0M199.37 804.2h0M208.12 804.27h0M210.41 803.43h0M208.6 804.12h0M202.7 803.49h0M207.97 803.8h0M210.81 803.77h0M199.12 803.21h0M200.38 803.69h0M195.68 802.11h0M196.09 802.89h0M209.75 802.47h0M210.55 802.69h0M192.6 802.1h0M211.86 803.08h0M207.43 802.51h0M197.84 802.06h0M209.21 803.1h0M199.77 801.98h0M191.93 802.31h0M204.05 801.97h0M205.61 801.92h0M195.32 802.68h0M209.16 802.49h0M202.59 802.46h0M194.67 802.85h0M197.84 802.83h0M207.97 801.61h0M203.09 801.3h0M206.7 801.09h0M211.3 800.76h0M206.66 801.76h0M194.11 801.86h0M194.32 801.58h0M196.41 801.71h0M207.59 800.9h0M202.81 801.28h0M203.63 800.98h0M200.99 801.8h0M192.17 799.87h0M204.81 800.39h0M202.16 800.26h0M203.02 799.46h0M203.1 799.85h0M211.62 800.36h0M192.18 800.2h0M200.08 800.14h0M200.34 800.41h0M210.71 800.58h0M197.49 800.03h0M203.65 799.99h0M208.05 800.19h0M210.34 800.11h0M205.69 799.73h0M209.61 798.62h0M205.11 798.6h0M206.45 798.77h0M207.84 798.77h0M201.21 799.25h0M193.09 798.67h0M194.14 798.21h0M201.94 798.11h0M201.26 798.12h0M200.6 797.28h0M198.96 797.14h0M197.05 797.62h0M203.37 798.05h0M194.68 798.06h0M206.41 797.86h0M196.09 797.01h0M211.29 797.92h0M207.79 797.5h0M205.02 796.99h0M211.53 797.91h0M191.76 797.12h0M204.8 797.02h0M201.28 797.93h0M207.35 797.84h0M193.43 797.72h0M198.39 797.12h0M205.83 798h0M208.08 796.77h0M203.28 795.82h0M211.42 796.17h0M200.6 796.35h0M211.62 796.64h0M195.54 796.84h0M192.24 795.94h0M202.38 796.74h0M199.47 796.69h0M205.21 796.95h0M197.55 796.89h0M205.75 796.86h0M201.5 795.16h0M195.1 795.4h0M192.29 795.15h0M197.48 795.75h0M196.91 795.29h0M200.09 794.89h0M203.62 795.01h0M210.53 794.89h0M205.72 795.07h0M206.57 794h0M200.95 793.43h0M203.04 793.67h0M196.02 793.85h0M196.86 794.19h0M192.22 793.32h0M195.81 794.26h0M205.26 793.53h0M193.86 794.15h0M206.78 793.71h0M206.14 793.74h0M192.3 793.8h0M209.29 793.56h0M195.2 792.32h0M207.64 792.88h0M199.77 792.29h0M205.76 792.8h0M204.39 792.08h0M196.55 792.88h0M204.05 793.07h0M196.19 792.42h0M203.91 792.39h0M202.33 792.6h0M192 792.8h0M205.07 792.64h0M211.35 792.22h0M194.94 792.51h0M200.07 792.25h0M203.68 791.68h0M195.87 791.96h0M196.32 791.18h0M204.82 791.94h0M210.6 790.87h0M206.11 791h0M194.85 792.07h0M207.3 790.25h0M207.79 789.64h0M197.73 789.89h0M202.64 790.07h0M203.73 790.24h0M199.35 790.3h0M204.77 789.91h0M211.42 788.56h0M203.84 789.21h0M199.46 789.15h0M205.68 788.84h0M199.07 788.52h0M200.8 789.02h0M202.15 788.41h0M211.27 788.5h0M207.29 789.59h0M196.85 788.21h0M204.56 787.24h0M207.97 787.73h0M206.97 787.37h0M202.61 787.9h0M193 788h0M193.32 787.26h0M208.91 787.94h0M209.81 786.2h0M195.45 786.16h0M192.63 785.95h0M198.74 786.6h0M195.8 787.14h0M195.89 785.06h0M191.82 785.51h0M197.83 785.55h0M193.66 785.8h0M193.35 785.44h0M196.91 784.79h0M192.99 785.49h0M195.52 784.95h0M206.93 783.61h0M208.67 784.41h0M201.45 784.52h0M203.16 784.36h0M202.68 784.41h0M192.02 784.4h0M206.88 782.99h0M200.99 782.59h0M196.85 782.74h0M204.63 782.32h0M199.16 782.5h0M206.05 782.78h0M192.31 781.17h0M202.65 782.03h0M205.58 781.45h0M206.24 781.42h0M194.8 781.52h0M197.37 781.59h0M201.94 782.25h0M205.22 779.92h0M208.84 779.89h0M201.15 780.32h0M198.15 780.38h0M194.28 779.99h0M198.55 779.82h0M204 780.49h0M203.98 780.65h0M203.17 779.58h0M206.76 779.73h0M195.95 778.84h0M193.53 779.26h0M205.8 778.99h0M204.08 779.73h0M206.99 778.48h0M209.07 778.34h0M193.37 778.05h0M198.32 777.58h0M201.02 776.98h0M200.28 775.04h0M209.77 775.24h0M206.67 775.4h0M197.56 774.12h0M197.38 774.46h0M199.45 773.68h0M193.44 774.33h0M193.43 773.86h0M211.01 773.24h0M198.41 773.23h0M196.35 772.76h0M203.39 771.47h0M205.37 772.31h0M201.51 771.73h0M195.39 771.5h0M204.46 771.98h0M199.1 771.12h0M199.29 770.08h0M209.71 770.14h0M210.22 770.59h0M191.89 770.02h0M210.97 770.49h0M203.08 768.91h0M203.76 769.26h0M204.76 767.57h0M193.51 768.16h0M192.59 767.98h0M195.97 768.19h0M194.12 767h0M206.24 767.23h0M207.31 766.05h0M199.12 765.85h0M203.61 763.32h0M194.76 763.75h0M207.56 762.08h0M197.37 761.58h0M195.94 761.42h0M202.09 762.3h0M200.49 761.09h0M209.69 760.57h0M198.87 761.09h0M210.69 759.55h0M198.79 758.35h0M202.8 758.8h0M194.88 756.7h0M207.18 757.03h0M198.5 755.76h0M205.19 754.94h0M209.74 754.49h0M192.92 754.73h0M192.68 755.18h0M210.05 753.99h0M196.12 750.75h0M211.01 749.57h0M203.17 750.29h0M211.24 749.63h0M202.88 748.96h0M205.23 745.2h0M200.07 743.29h0M210.26 743h0M204.82 737.91h0M196.8 736.53h0M197.78 735.38h0M194.7 733.74h0M196.67 729.7h0M307.43 815.64h0M301.58 815.68h0M304.09 816.56h0M305.04 815.95h0M317.75 816.72h0M309.41 815.94h0M318.71 816.02h0M317.11 815.98h0M314.47 816.65h0M317.53 816.85h0M313.62 815.67h0M305.37 816.06h0M305.21 814.89h0M307.91 815.48h0M313.54 815.47h0M316.34 815.36h0M304.04 815.56h0M318.35 815.12h0M303.15 814.47h0M314.45 814.99h0M308.51 815h0M302.13 814.47h0M309.17 813.88h0M308.85 813.65h0M312.26 813.23h0M319.32 814.1h0M317.31 813.68h0M307 814.1h0M312.37 813.87h0M317.94 814.03h0M310.74 814.16h0M318.2 813.56h0M308.86 813.42h0M312.84 813.45h0M301.48 814.1h0M308.95 813.31h0M301.62 812.67h0M307.43 812.7h0M312.54 812.56h0M308.27 812.75h0M311.67 813.13h0M305.27 812.97h0M312.97 812.59h0M310.91 812.59h0M304.99 812.43h0M313.93 812.97h0M308.46 812.46h0M303.78 812.3h0M301.5 812.68h0M306.3 811.88h0M317.46 811.34h0M316.63 811.19h0M314.2 811.5h0M315.68 810.77h0M308.15 811.77h0M316.67 811.68h0M304.15 811.09h0M314.51 811.23h0M316.82 811.04h0M317.06 810.93h0M313.48 811.26h0M314.84 809.9h0M302.65 809.96h0M310.18 810.59h0M317.12 809.51h0M305.22 810.03h0M313.16 809.8h0M301.93 810.71h0M317.69 809.83h0M306.62 809.79h0M304.26 810.56h0M313.79 809.04h0M303.92 809.04h0M311.63 808.29h0M307.73 809.07h0M312.03 809.5h0M315.55 809.43h0M307.13 808.69h0M306.66 808.6h0M313.35 808.91h0M309.45 809.28h0M315.14 808.81h0M318.1 807.22h0M305.72 807.21h0M305.98 807.82h0M305.49 807.87h0M302.47 807.98h0M314.25 807.06h0M315.98 807.97h0M311.55 807.72h0M315.94 807.46h0M315.41 808.15h0M301.9 807.79h0M316.74 806.94h0M313.96 806.33h0M304.09 806.93h0M301.64 805.94h0M312.37 806.83h0M311.09 806.43h0M315.79 806.26h0M311.6 806.59h0M308.1 805.11h0M301.43 805.69h0M312.02 805.58h0M307.86 805.68h0M310.57 805.39h0M317.69 804.62h0M319.09 805.07h0M304.18 803.76h0M307.07 803.88h0M304.84 804.4h0M304.11 803.51h0M308.52 804.48h0M310.82 804.32h0M318.17 803.69h0M306.88 803.77h0M313.18 802.21h0M314.81 803.14h0M311.95 802.28h0M313.63 802.2h0M316.48 802.65h0M316.27 802.18h0M313.79 802.69h0M304.71 803.06h0M308.05 803.23h0M313.29 802.41h0M306.47 802.38h0M317.18 802.98h0M317.52 803.22h0M307.18 802.36h0M318.37 802.36h0M314.93 801.81h0M305.17 801.13h0M311.73 801.16h0M308.1 801.56h0M311.95 801.36h0M318.07 801.97h0M313.04 801.08h0M316.66 801.43h0M313.82 801.41h0M303.98 801.65h0M318.05 800.3h0M310.01 799.9h0M311.94 799.77h0M308.44 800.71h0M312.41 799.9h0M305.07 800.7h0M310.86 800.08h0M305.15 800.63h0M316.97 800.76h0M302.11 798.52h0M310.87 798.92h0M313.18 799.07h0M303.83 799.19h0M318.37 798.78h0M316.94 799.09h0M311.39 798.65h0M307.49 798.62h0M310.17 799.23h0M303.92 799.12h0M301.98 797.33h0M301.53 798.31h0M312.36 798.27h0M318.03 797.96h0M307.78 798.23h0M310.24 797.3h0M314.34 796.84h0M311.5 796.97h0M309.21 797.1h0M302.67 796.42h0M305.54 796.52h0M313.62 796.69h0M309.35 797.21h0M319.1 796.56h0M317.24 796.58h0M317.04 796.15h0M303.96 796.59h0M314.08 795.13h0M304.92 795.06h0M301.87 795.84h0M313.97 794.74h0M301.64 794.76h0M306.69 794.49h0M313.98 793.84h0M318.94 794.51h0M310.84 794.75h0M303.35 793.76h0M306.29 793.99h0M301.76 794.1h0M311.87 793.87h0M304.18 794.25h0M306.9 792.98h0M308.25 792.72h0M303.94 793.52h0M308.63 793.54h0M303.18 792h0M316.22 791.64h0M315.21 791.58h0M318.32 791.83h0M316.62 791.48h0M305.13 792.14h0M305.24 791.46h0M318.72 789.93h0M304.28 790.7h0M305.47 790.61h0M312.99 790.53h0M311.51 790.56h0M313.98 790.64h0M306.34 790.6h0M310.49 790.57h0M308.64 789.71h0M316.88 789.57h0M317.96 789.34h0M311.03 788.84h0M314.46 789.75h0M319.39 789.43h0M313.48 789.09h0M302.48 789.32h0M309.27 787.61h0M319.15 787.8h0M308.41 787.76h0M307.14 787.3h0M315.85 787h0M316.73 787.22h0M306.19 785.48h0M315.83 784.01h0M306.05 783.89h0M309.63 784.48h0M308.41 783.1h0M308.08 782.52h0M311.73 783.71h0M311.26 781.62h0M315.78 781.99h0M308.62 781.58h0M304.68 782.3h0M307.29 782.05h0M309.53 780.58h0M312.2 779.77h0M310.65 779.79h0M306.23 779.14h0M308.81 780.05h0M313.58 779.92h0M302.98 779.97h0M306.85 778.44h0M307.58 777.98h0M311.62 777.79h0M302.43 775.4h0M313.37 775.08h0M303.68 774.95h0M316.79 774.13h0M317.31 772.85h0M308 772.79h0M311.18 772.76h0M304.6 773.47h0M316.43 773.19h0M318.41 772.68h0M314.91 770.5h0M314.29 767.58h0M308.17 766.9h0M308.04 767.29h0M319.09 765.79h0M303.02 766.25h0M313.62 763.85h0M313.38 763.76h0M305.62 761.85h0M305.5 762.17h0M315.81 759.67h0M316.71 757.39h0M313.33 756.4h0M307.88 754.33h0M306.39 750.93h0M304.16 749.69h0M310.51 750.57h0M316.76 747h0M301.76 746.69h0M307.82 745.14h0M312.77 743.31h0M302.72 742.9h0M310.29 740.85h0M301.4 738.07h0M316.15 737.79h0M302.04 736.99h0M307.47 734.97h0M311.22 729.25h0M303.17 727.32h0M408.98 801.63h0M408.03 801h0M423.67 801.2h0M426.31 801.21h0M422.62 800.76h0M429.82 800.78h0M421.32 801.18h0M430.31 801.72h0M408.33 801.83h0M410.23 800.87h0M432.93 801.58h0M419.9 800.97h0M422.17 801.17h0M426.66 800.84h0M426.59 801.85h0M411.71 801.06h0M414.59 801.42h0M415.85 801.53h0M428.34 801.61h0M414.18 800.96h0M412.46 801.66h0M432.76 801.64h0M425.42 799.95h0M429.84 800.23h0M416.36 800.56h0M435.61 800.02h0M423.06 800.05h0M414.1 799.76h0M418.91 800.16h0M432.77 800.56h0M420.55 800.03h0M427.07 800.16h0M428.73 800h0M423.17 800.07h0M420.92 800.15h0M435.68 799.54h0M424.87 799.61h0M428.2 799.72h0M429.33 799.7h0M436.78 800.46h0M425.58 800.07h0M425.54 799.91h0M422.21 799.96h0M433.62 800.29h0M412.43 800.38h0M427.47 799.69h0M417.68 799.95h0M430.23 799.53h0M425.2 799.79h0M414.26 800.44h0M427.4 799.97h0M422.92 800.41h0M426.31 799.9h0M420.36 799.43h0M433.29 798.57h0M432.35 798.57h0M418.44 798.94h0M432.31 798.33h0M424.13 798.85h0M423.68 798.47h0M428.56 798.51h0M435.59 799.04h0M413.04 798.38h0M432.14 798.64h0M433.83 799.06h0M419.62 799.11h0M413.93 798.74h0M413.05 798.25h0M419.83 798.87h0M413.57 798.89h0M431.72 798.89h0M421.68 798.36h0M419.52 798.57h0M434.89 798.82h0M417.09 799.18h0M430.11 799.18h0M407.81 798.33h0M428.25 798.34h0M410.39 798.94h0M425.09 797.37h0M422 797.48h0M408 797.66h0M413.52 797.35h0M422.01 797.72h0M424.82 797.92h0M435.79 797.9h0M431.53 797.84h0M422.76 798.15h0M429.76 798.14h0M430.64 797.31h0M408.52 797.58h0M432.29 797.53h0M430.56 796.97h0M408.9 795.85h0M432.05 796.68h0M423.54 796.55h0M420.51 796.6h0M407.96 795.97h0M421.64 796.71h0M423.93 796.09h0M418.25 796.88h0M425.66 796.75h0M413.99 796.7h0M413.78 795.83h0M413.39 795.83h0M418.57 796.93h0M435.89 796.95h0M421.16 796.72h0M434.74 796.43h0M418.82 795.86h0M432.4 795.97h0M418.82 796.05h0M411.49 795.97h0M422.33 795.55h0M423.39 795.69h0M429.22 794.65h0M423.53 795.4h0M429.5 795.02h0M433.71 795.42h0M426.1 795.76h0M410.95 795.44h0M418.21 795.24h0M427.64 795.69h0M433.79 794.85h0M414.01 794.82h0M411.79 794.71h0M431.96 795.23h0M413.33 795.61h0M417.71 795.44h0M424.16 795.09h0M431 793.84h0M432.3 794.07h0M419.78 794.04h0M415.68 794.13h0M418.71 794.38h0M426.17 794.06h0M434.92 794.3h0M433.73 793.31h0M417.38 793.95h0M419.75 793.91h0M425.21 793.56h0M421.95 793.46h0M422.4 794.45h0M431.43 793.56h0M412.75 793.54h0M424.12 793.78h0M424.65 793.17h0M435.86 792.16h0M412.87 793.05h0M418.74 793.26h0M436.67 792.76h0M432.04 793.11h0M432.17 792.28h0M418.14 792.11h0M436.66 792.4h0M436.69 792.9h0M418.1 792.43h0M421.11 792.83h0M427.03 792.81h0M411.03 792.76h0M410.57 792.84h0M423.61 792.86h0M429 793.3h0M412.92 792.15h0M408.27 792.6h0M416.83 793.14h0M418.43 791.69h0M436.3 790.97h0M420.94 791.11h0M408.25 790.94h0M415.7 791.95h0M431.02 791.69h0M419.65 790.87h0M417.57 791.03h0M421.52 791.08h0M428.87 789.88h0M426.87 790.05h0M414.23 790.39h0M434.47 790.34h0M419.66 790.57h0M424.8 790.52h0M435.79 790.03h0M421.62 790.07h0M425.22 790.77h0M432.49 789.77h0M408.74 789.7h0M430.14 790.66h0M427.22 789.81h0M410.23 789.45h0M420.85 788.48h0M408.69 789.11h0M416.02 789.46h0M430.28 789h0M436.71 789.1h0M416.59 789.61h0M427.24 789.43h0M413.05 788.91h0M427.34 787.72h0M423.14 787.58h0M409.91 787.88h0M425.82 787.3h0M415.35 787.52h0M436.33 787.64h0M429.89 787.69h0M407.91 787.77h0M419.44 788.34h0M429.2 787.46h0M424.07 787.04h0M408.4 787.01h0M425.83 785.96h0M408.24 786.68h0M411.52 786.47h0M434.27 786.7h0M425.93 786.25h0M428.26 786.31h0M426.33 787.17h0M421.25 786.29h0M435.56 787.12h0M415.13 786.72h0M418.26 786.98h0M421.11 786.87h0M431.13 785.57h0M431.48 785.86h0M414.71 784.72h0M421.08 785.14h0M420.19 785.26h0M431.21 784.73h0M433.94 785.6h0M427.53 785.21h0M431.4 785.6h0M408.87 785.58h0M430.58 785.38h0M413.94 784.97h0M425.27 785.32h0M420.88 783.97h0M436.42 783.83h0M409.27 783.91h0M420.87 784.68h0M424.46 783.51h0M435.31 783.82h0M425.31 784.06h0M409.3 783.98h0M422.1 784.26h0M408.62 783.65h0M423.97 784.3h0M423.12 784.14h0M413.9 784.23h0M412.15 782.76h0M413.35 782.93h0M410.31 782.28h0M435.6 782.48h0M421.92 782.85h0M430.49 783.25h0M433.08 782.6h0M434.2 783.21h0M423.08 783.13h0M425.95 782.46h0M435.77 782.35h0M412.2 782.52h0M412.63 782.99h0M407.82 782.75h0M413.97 782.73h0M415.14 782.79h0M415.9 781.27h0M414.99 781.79h0M433.67 781.9h0M427.9 781.09h0M409.54 781.64h0M412.8 782.17h0M425.84 781.51h0M410.89 781.86h0M421.68 781.43h0M421.22 781.81h0M434.02 780.93h0M410.32 780.49h0M427.49 780.3h0M416.27 779.88h0M427.75 780.58h0M415.65 780.34h0M424.93 779.91h0M410.3 779.84h0M412.06 780.63h0M436.38 779.86h0M436.19 780.55h0M434.32 780.11h0M408.08 780.03h0M422.65 780.77h0M417.42 779.43h0M432.01 778.63h0M435.41 779.21h0M422.92 779.46h0M419.48 778.87h0M409.5 778.63h0M411.44 779.57h0M409.96 779.05h0M410 779.71h0M435.24 778.79h0M424.96 778.68h0M432.48 779.46h0M415.72 778.86h0M411.24 779.39h0M430.53 779.11h0M413.85 778.43h0M426.14 778.09h0M425.25 777.89h0M428.25 777.94h0M409.15 778.46h0M408.36 778.57h0M416.7 778.45h0M417.6 777.38h0M415.49 777.6h0M420.72 776.21h0M412.34 776.26h0M420.01 776.74h0M423.73 776.65h0M430.7 776.5h0M416.32 776.48h0M421.07 777.12h0M429.77 777.31h0M426.24 777.34h0M426.91 777.12h0M408.04 775.33h0M424.56 775.61h0M432 775.9h0M420.79 775.58h0M427.3 775.08h0M436.33 775.47h0M426.3 775.89h0M421.98 775.51h0M436.68 775.27h0M410.01 775.61h0M434.9 773.73h0M408.81 774.17h0M423.95 774.72h0M428.19 774.87h0M426 774.07h0M413.64 773.82h0M427.13 774.73h0M414.33 774.77h0M417.9 774.52h0M421.91 773.72h0M412.46 773.65h0M420.15 773.54h0M412.09 772.73h0M434.96 772.88h0M412.12 773.24h0M432.63 773.35h0M424.36 773.24h0M421.2 772.96h0M414.21 772.52h0M415.44 772.66h0M433.69 772.17h0M423.94 772.11h0M411.29 772.2h0M414 771.56h0M414.28 771.7h0M429.03 772.15h0M420.32 770.96h0M429.35 770.82h0M409.32 770.51h0M408.39 771.05h0M430.79 770.86h0M427.57 770.37h0M412.47 770.64h0M432.83 770.11h0M424.26 770.82h0M424.22 769.87h0M420.08 769.24h0M410.17 768.81h0M419.15 767.97h0M423.09 767.73h0M419.99 767.6h0M420.39 768.48h0M419.9 768.41h0M433.4 767.78h0M417.04 766.49h0M435.15 766.79h0M430.18 767.2h0M415.88 766.88h0M433.66 767.07h0M423.87 765.92h0M429.57 766.11h0M408.57 765.07h0M408.53 764.01h0M424.44 765.07h0M431.69 764.16h0M422.14 763.87h0M416.76 764.52h0M410.02 764.07h0M421.72 763.55h0M414.5 763.78h0M435.46 763.69h0M435.71 763.34h0M433.11 761.42h0M415.87 761.49h0M432.23 761.92h0M426.63 761.73h0M410.02 760.31h0M428.64 760.85h0M427.2 760.18h0M433.41 761.23h0M422.04 760.12h0M432.46 759.9h0M409.8 759.14h0M408.94 759.47h0M423.4 759.95h0M418.21 758.58h0M436.87 758.34h0M432.51 756.7h0M434.04 756.55h0M410.05 755.4h0M414.41 755.03h0M419.51 755.07h0M408.18 755.05h0M420.31 752.98h0M413.19 753.16h0M411.61 753.58h0M433.19 753.63h0M412.95 752.36h0M416.45 751.99h0M414.56 752.13h0M427.78 751.18h0M433.53 751.2h0M429.76 748.32h0M410.55 748.48h0M436.68 748.29h0M413.35 748.54h0M417.07 748.65h0M419.91 748.4h0M430.04 748.64h0M410.51 748.29h0M431.51 745.56h0M421.73 745.97h0M435.89 744.86h0M428.71 743.8h0M413.87 743.49h0M410.61 742.5h0M434.71 739.99h0M419.84 739.59h0M417.71 736.21h0M431.82 734.45h0M435.34 734.53h0M419.35 734.44h0M418.78 734.68h0M421.19 729.56h0M408.12 729.52h0M419.34 725.9h0M408.51 725.59h0M418.86 724.12h0M435.66 721.02h0M490.35 804.51h0M497.05 804.87h0M501.88 804.45h0M495.19 803.99h0M500.12 804.26h0M512.77 804.46h0M501.93 804.61h0M509.41 804.6h0M498.59 804.67h0M501.36 805.05h0M509.03 804.72h0M506.12 804.15h0M506.19 804.03h0M496.69 804.38h0M490.56 805.07h0M508.61 804.31h0M501.93 804.87h0M510.26 804.72h0M492.84 804.21h0M507.12 804.68h0M495.69 804.08h0M507.75 804.28h0M494.25 804.13h0M507.42 804.85h0M509 804.62h0M505.22 804.04h0M495.85 804.32h0M504.33 803.7h0M510.9 803.53h0M494.33 803.61h0M509.6 803.64h0M510.99 803.02h0M500.15 803.02h0M500.98 803.76h0M502.55 802.92h0M491.22 803.84h0M493.54 802.99h0M491.72 803.79h0M503.79 801.97h0M493.47 802.03h0M501.43 802.28h0M492.77 801.6h0M508.58 802.04h0M494.97 801.68h0M503.3 802.48h0M497.69 801.54h0M511.69 802.24h0M503.22 801.56h0M506.99 801.67h0M501.2 800.65h0M504.33 800.99h0M494.33 800.91h0M497.87 800.85h0M508.04 800.86h0M511.8 801.14h0M510.4 800.47h0M512.3 801.21h0M497.46 800.95h0M510.55 801.03h0M493.83 801.12h0M506.13 800.56h0M503.74 800.29h0M511.09 800.78h0M500.77 800.35h0M502.9 800.97h0M507.96 799.42h0M493.13 799.67h0M503.48 799.55h0M493.44 799.89h0M493.68 799.69h0M491.56 799.59h0M508.46 799.45h0M507.27 799.31h0M495.8 799.66h0M507.7 799.94h0M492.71 799.77h0M494.74 799.14h0M502.23 799.76h0M492.67 799.39h0M509.02 799.04h0M508.67 799.07h0M495.41 799.41h0M494.45 799.59h0M507.27 799.98h0M503.07 799.29h0M498.79 799.77h0M508.42 799.52h0M493.37 799.91h0M491.54 799.03h0M490.96 799.4h0M499.35 799.3h0M499.29 799.76h0M510.89 798.66h0M501.94 798.46h0M497.87 798.4h0M507.41 798.51h0M508.8 797.77h0M511.78 798.21h0M503.99 798.44h0M492.85 798.07h0M494.1 798.51h0M500.73 798.85h0M492.32 798.75h0M502.62 798.17h0M491.77 798.25h0M495.49 797.98h0M490.23 798.73h0M498.12 798.81h0M505.57 797.15h0M508.72 797.2h0M507.33 797.33h0M509.19 797.58h0M512.98 796.58h0M492.97 797.49h0M501.42 797.04h0M502.08 796.52h0M495.89 797.28h0M510.13 797.46h0M490.37 797.02h0M509.89 796.63h0M494.49 795.47h0M492.69 796.35h0M490.02 795.83h0M490.71 796.31h0M494.62 795.59h0M506.18 795.44h0M489.97 796.17h0M510.43 796.19h0M498.32 795.72h0M494.07 794.13h0M496.61 794.58h0M511.49 794.95h0M512.38 794.08h0M496.86 795.19h0M491.88 795.14h0M498.05 794.68h0M490.33 794.6h0M500.04 794.84h0M501.9 794.37h0M495.5 795.21h0M495.51 794.52h0M504.59 794.95h0M506.32 794.21h0M490.59 792.87h0M502.3 793.44h0M507.27 793.91h0M503 792.95h0M494.8 793.08h0M494.13 793.75h0M506.45 793.05h0M490.88 793.01h0M490.62 793.99h0M509.61 793.19h0M496.6 793.83h0M506.55 793.1h0M506.71 792.95h0M504.89 794.04h0M508.14 792.31h0M490.24 792.58h0M505.12 792.77h0M506.98 792.76h0M510.92 792.76h0M508.7 792.36h0M496.81 791.83h0M492.47 792.57h0M497.58 792.49h0M498.87 791.99h0M504.26 792.16h0M490.58 791.98h0M493.89 792.67h0M494.25 792.11h0M512.57 790.63h0M496.72 791.35h0M506.6 791.53h0M490.55 791.08h0M512.26 791.01h0M507.19 790.62h0M506.93 790.88h0M511.89 791.46h0M504.07 790.49h0M509.86 790.93h0M508.84 791.44h0M497.53 790.98h0M495.88 790.78h0M497.59 789.62h0M493.02 789.88h0M511.59 789.76h0M510.64 789.15h0M497.2 789.8h0M511.17 789.28h0M497.55 789.56h0M495.8 790.23h0M508.42 789.88h0M504.26 790.34h0M509.55 788.54h0M504.32 788.95h0M505.31 787.97h0M506.69 787.98h0M509.43 789.07h0M510.81 788.86h0M509.08 788.57h0M493.51 788.89h0M509.9 789h0M500.66 788.77h0M511.58 789.07h0M507.95 788.29h0M504.98 788.19h0M496.04 788.1h0M497.45 787.66h0M490.07 786.77h0M495.9 787.14h0M511.24 787.48h0M504.06 787.37h0M509.71 787.78h0M495.29 787.3h0M497.72 787.21h0M500 787.6h0M496.43 786.76h0M508.22 787.64h0M497.12 787.72h0M491.75 787.75h0M494.97 786.34h0M510.06 786.39h0M509.2 786.01h0M511.98 786.16h0M496.96 785.62h0M502.19 786.15h0M505.79 786.57h0M490.98 786.23h0M501.42 786.3h0M499.09 785.02h0M497.56 784.87h0M505.17 784.97h0M506.96 784.29h0M493.39 785.26h0M507.62 784.77h0M501.9 784.82h0M494.1 784.61h0M499.66 784.42h0M502.94 785.31h0M510.13 784.63h0M500.2 783.16h0M491.14 783.6h0M506.75 783.32h0M497.93 783.72h0M491.67 783.16h0M503.4 783.28h0M490.61 783h0M506.52 783.81h0M497.92 784.13h0M496.31 784h0M491.15 783.52h0M492.25 782.55h0M498.66 782.8h0M496.27 781.85h0M503.76 782.44h0M512.99 782.64h0M494.04 782.44h0M497.52 782.49h0M511.66 781.8h0M498.38 782.87h0M492.14 782.82h0M508.17 782.56h0M497.44 782.45h0M490.58 781.24h0M495.47 781.44h0M489.99 781.26h0M494.9 781.57h0M511.15 781.54h0M492.36 780.59h0M500.62 781.38h0M499.14 780.83h0M510.61 781.12h0M490.5 780.76h0M503.12 780.53h0M491.58 779.71h0M500.64 779.62h0M493.12 780.19h0M495.24 779.85h0M508.48 780.4h0M509.96 779.75h0M497.51 780.31h0M496.56 780.54h0M508.16 778.78h0M491.36 778.93h0M498.45 778.85h0M498.69 778.15h0M494.36 778.1h0M495.14 779.16h0M510.01 778.17h0M495.89 778.08h0M499.79 776.89h0M504.2 777.26h0M501.29 776.88h0M501.64 777.25h0M502.68 777.91h0M503.21 777.87h0M491.12 777.38h0M495.73 777.6h0M505.63 776.86h0M496.74 776.54h0M494.92 776.26h0M510.82 776.73h0M498.29 776.24h0M511.44 774.99h0M512.43 775.53h0M494.26 775.13h0M505.79 775.62h0M495.22 774.89h0M496.64 775.13h0M506.7 774.63h0M505.38 774.73h0M490.84 774.51h0M509.72 774.58h0M506.86 773.33h0M497.22 774.03h0M491.61 773.23h0M508.46 774.34h0M510.34 773.57h0M500.21 773.81h0M511.74 772.68h0M504.67 772.05h0M509.86 772.92h0M499.18 772.46h0M508.61 773.03h0M492.51 773.03h0M506.35 771.33h0M503.36 771.42h0M504.9 771.93h0M512.56 770.78h0M506.32 771.58h0M490.02 770.81h0M496.06 770.83h0M499.75 771.47h0M505.96 771.53h0M496.01 769.67h0M505.69 770.59h0M505.63 770.56h0M500.75 770.66h0M496.75 769.56h0M491.69 769.2h0M503.21 768.81h0M499.28 769.32h0M491.16 768.36h0M504.32 769.04h0M490.14 768.54h0M495.22 767.99h0M490.55 767.17h0M508.75 767.83h0M501.53 766.2h0M504.2 766.23h0M496.42 766.17h0M501.46 766.49h0M494.91 766.99h0M500.96 765.02h0M490.89 765.43h0M502.57 765.16h0M508.38 764.32h0M510.57 763.89h0M510.94 763.86h0M498.8 764.09h0M495.09 763.41h0M510.48 763.79h0M511.07 762.6h0M503.92 762.58h0M498.56 763.24h0M495.5 761.85h0M492.73 761.94h0M512.12 760.91h0M510.36 760.79h0M505.64 760.85h0M510.25 759.05h0M493.57 758.77h0M492.95 757.27h0M502.89 757.95h0M502.79 756.79h0M499.85 756.37h0M498.25 756.21h0M491.94 753.55h0M503.32 754.41h0M497.29 753.68h0M500.1 752.88h0M503.42 752.9h0M499.59 753.44h0M492.6 753.32h0M508.99 751.22h0M511.26 752.32h0M503.19 750.86h0M491.29 750.52h0M497.02 747.35h0M490.42 743.74h0M495.87 743.71h0M498.29 733.36h0M510.11 730.25h0M508.29 722.97h0M511.62 722.31h0M604.98 805.03h0M605.34 804.63h0M616.35 804.8h0M616.35 805.07h0M617.24 804.61h0M605.18 804.3h0M613.68 803.86h0M603.81 804.32h0M608.04 805.05h0M605.92 804.24h0M614.49 803.91h0M604.95 804.61h0M615.28 803.73h0M608.48 803.67h0M611.22 803.3h0M606.02 803.39h0M608.97 803.47h0M605.46 802.93h0M617.67 802.82h0M603.51 803.64h0M608.56 803.69h0M607.41 802.66h0M607.48 803.52h0M605.26 803.07h0M612.21 803.32h0M604.26 803.8h0M610.58 803.62h0M610.04 801.56h0M608.89 801.93h0M616.92 802.46h0M606.09 802.17h0M604.91 801.84h0M617.03 802.31h0M608.26 802.52h0M611.37 802.48h0M605.63 801.54h0M615.99 801.83h0M606.9 800.57h0M605.53 801.37h0M616.64 800.83h0M610.42 801.19h0M608.3 800.91h0M617.08 800.33h0M608.58 801.4h0M605.31 801.37h0M610.16 800.48h0M603.57 800.69h0M606.2 799.45h0M616.43 799.42h0M608.66 799.51h0M604.56 799.02h0M605.27 799.61h0M605.71 799.47h0M612.95 799.83h0M608.64 799.84h0M609.65 799.22h0M613.54 798.06h0M608.5 798.01h0M608.64 798.6h0M614.71 798.3h0M611.76 798.22h0M614.94 797.83h0M615.38 797.86h0M616.49 798.77h0M614.98 796.88h0M617.95 796.5h0M607.36 797.12h0M608.98 797.66h0M603.99 796.92h0M611.42 797.08h0M611.34 796.99h0M608.22 795.32h0M617.82 796.02h0M605 796.15h0M616.33 796.31h0M604.38 795.54h0M604.79 796.21h0M617.32 795.79h0M616.14 796.46h0M612.27 795.62h0M613.19 796.18h0M617.26 795.85h0M605.76 796.25h0M605.39 795.92h0M612.35 796.05h0M611.19 794.49h0M604.6 794.13h0M613.29 794.63h0M616.97 794.49h0M611.24 795.14h0M603.84 794.79h0M607.39 795.21h0M611.37 794.41h0M611.2 795.21h0M617.34 794.44h0M607.86 793.62h0M605.31 793.75h0M610.86 793.59h0M611.7 793.25h0M612.45 793.61h0M616.42 792.9h0M615.23 793.08h0M612.99 793.25h0M610.72 792.04h0M613.03 792.39h0M610.06 791.75h0M616.33 792.56h0M608.29 792.78h0M611.23 790.99h0M603.74 791.38h0M611.72 790.44h0M607.54 789.66h0M607.16 789.66h0M607.14 789.83h0M613.67 789.38h0M606.24 790.25h0M611.51 789.44h0M608.96 789.23h0M617.13 787.93h0M612.72 788.48h0M610.27 788.35h0M614.56 788.6h0M607.48 788.83h0M616.82 788.64h0M613.27 788.64h0M617.66 788.01h0M608 788.67h0M611.87 787.17h0M607.39 787.57h0M608.12 787.36h0M617.5 787.52h0M618 787.57h0M607.08 787.06h0M606.26 787.66h0M604.39 787.49h0M608.87 786.12h0M606.27 786.18h0M605.91 786.16h0M615.29 785.84h0M608.27 785.78h0M613.11 785.78h0M616.83 786.05h0M616.21 785.7h0M608.26 784.93h0M615.92 784.89h0M604.34 784.74h0M615.33 783.07h0M616.86 783.01h0M606.63 782.42h0M614.46 782.16h0M610.26 781.8h0M610.75 781.57h0M612.83 781.58h0M613.11 781.75h0M604.25 780.16h0M617.71 779.36h0M605.76 780.39h0M608.25 780.01h0M615.51 780.09h0M604.06 780.2h0M617.2 779.74h0M616.32 779.09h0M611.2 779.08h0M605.03 779.14h0M606.68 779.1h0M616.71 778.21h0M616.46 778.24h0M609.4 778.76h0M617.56 778.46h0M612.25 777.84h0M611.94 777.86h0M612.46 777.38h0M606.11 777.28h0M607.08 777.87h0M611.54 777.79h0M603.57 777.2h0M609.14 777.16h0M617.85 777.24h0M614.3 776.55h0M612.46 776.44h0M604.14 776.46h0M610.04 776.23h0M607.31 776.07h0M617.13 775.18h0M615.18 774.85h0M603.78 773.86h0M617.06 773.55h0M614.26 773.87h0M608.94 773.83h0M616.34 773.99h0M607.23 772.28h0M610.92 772.4h0M606.41 771.7h0M605.85 770.97h0M607.25 769.53h0M614.22 769.66h0M606.79 770.08h0M604.53 770.26h0M608.98 769.37h0M612.77 768.83h0M614.41 766.93h0M614.13 766.83h0M615.1 765.92h0M607.47 763.98h0M607.04 760.89h0M609.33 760.51h0M614.79 758.85h0M608.23 756.37h0M604.95 756.69h0M613.61 756.57h0M605.27 756.36h0M613 755.54h0M613.65 755.72h0M610.16 754.79h0M617.64 754.76h0M613.9 754.75h0M612.56 751.41h0M609.08 751.6h0M605.3 751.44h0M613.71 752.29h0M605.68 750.9h0M607.56 748.37h0M615.04 745.63h0M614.1 737.37h0M614.23 732.12h0M614.22 732.17h0M616.12 729.22h0M604.87 726.64h0M615.72 723.74h0M608.5 724.06h0" stroke="#686868" stroke-width="3.8" stroke-linecap="round" fill="none"/>
<line x1="59.8" y1="560.4" x2="59.8" y2="852.2" stroke="#aaa" stroke-width="1"/>
<line x1="59.8" y1="852.2" x2="658.4" y2="852.2" stroke="#777" stroke-width="1"/>
<line x1="56.3" y1="852.2" x2="59.8" y2="852.2" stroke="#777" stroke-width="0.8"/>
<text x="55.6" y="855.5" font-size="9" text-anchor="end" fill="#000">0.0</text>
<line x1="56.3" y1="803.12" x2="59.8" y2="803.12" stroke="#777" stroke-width="0.8"/>
<text x="55.6" y="806.42" font-size="9" text-anchor="end" fill="#000">0.2</text>
<line x1="56.3" y1="754.04" x2="59.8" y2="754.04" stroke="#777" stroke-width="0.8"/>
<text x="55.6" y="757.34" font-size="9" text-anchor="end" fill="#000">0.4</text>
<line x1="56.3" y1="704.96" x2="59.8" y2="704.96" stroke="#777" stroke-width="0.8"/>
<text x="55.6" y="708.26" font-size="9" text-anchor="end" fill="#000">0.6</text>
<line x1="56.3" y1="655.88" x2="59.8" y2="655.88" stroke="#777" stroke-width="0.8"/>
<text x="55.6" y="659.18" font-size="9" text-anchor="end" fill="#000">0.8</text>
<line x1="56.3" y1="606.8" x2="59.8" y2="606.8" stroke="#777" stroke-width="0.8"/>
<text x="55.6" y="610.1" font-size="9" text-anchor="end" fill="#000">1.0</text>
<line x1="90.2" y1="852.2" x2="90.2" y2="855.2" stroke="#777" stroke-width="0.8"/>
<text x="90.2" y="862.9" font-size="8.8" text-anchor="middle" fill="#000">1</text>
<line x1="139.5" y1="852.2" x2="139.5" y2="855.2" stroke="#777" stroke-width="0.8"/>
<text x="139.5" y="862.9" font-size="8.8" text-anchor="middle" fill="#000">2</text>
<line x1="175.5" y1="852.2" x2="175.5" y2="855.2" stroke="#777" stroke-width="0.8"/>
<text x="175.5" y="862.9" font-size="8.8" text-anchor="middle" fill="#000">3</text>
<line x1="203.1" y1="852.2" x2="203.1" y2="855.2" stroke="#777" stroke-width="0.8"/>
<text x="203.1" y="862.9" font-size="8.8" text-anchor="middle" fill="#000">4</text>
<line x1="227.4" y1="852.2" x2="227.4" y2="855.2" stroke="#777" stroke-width="0.8"/>
<text x="227.4" y="862.9" font-size="8.8" text-anchor="middle" fill="#000">5</text>
<line x1="256.6" y1="852.2" x2="256.6" y2="855.2" stroke="#777" stroke-width="0.8"/>
<text x="256.6" y="862.9" font-size="8.8" text-anchor="middle" fill="#000">6</text>
<line x1="287" y1="852.2" x2="287" y2="855.2" stroke="#777" stroke-width="0.8"/>
<text x="287" y="862.9" font-size="8.8" text-anchor="middle" fill="#000">7</text>
<line x1="311.5" y1="852.2" x2="311.5" y2="855.2" stroke="#777" stroke-width="0.8"/>
<text x="311.5" y="862.9" font-size="8.8" text-anchor="middle" fill="#000">8</text>
<line x1="333.7" y1="852.2" x2="333.7" y2="855.2" stroke="#777" stroke-width="0.8"/>
<text x="333.7" y="862.9" font-size="8.8" text-anchor="middle" fill="#000">9</text>
<line x1="357.6" y1="852.2" x2="357.6" y2="855.2" stroke="#777" stroke-width="0.8"/>
<text x="357.6" y="862.9" font-size="8.8" text-anchor="middle" fill="#000">10</text>
<line x1="388" y1="852.2" x2="388" y2="855.2" stroke="#777" stroke-width="0.8"/>
<text x="388" y="862.9" font-size="8.8" text-anchor="middle" fill="#000">11</text>
<line x1="423.5" y1="852.2" x2="423.5" y2="855.2" stroke="#777" stroke-width="0.8"/>
<text x="423.5" y="862.9" font-size="8.8" text-anchor="middle" fill="#000">12</text>
<line x1="444" y1="852.2" x2="444" y2="855.2" stroke="#777" stroke-width="0.8"/>
<text x="444" y="862.9" font-size="8.8" text-anchor="middle" fill="#000">13</text>
<line x1="459.7" y1="852.2" x2="459.7" y2="855.2" stroke="#777" stroke-width="0.8"/>
<text x="459.7" y="862.9" font-size="8.8" text-anchor="middle" fill="#000">14</text>
<line x1="480" y1="852.2" x2="480" y2="855.2" stroke="#777" stroke-width="0.8"/>
<text x="480" y="862.9" font-size="8.8" text-anchor="middle" fill="#000">15</text>
<line x1="502.6" y1="852.2" x2="502.6" y2="855.2" stroke="#777" stroke-width="0.8"/>
<text x="502.6" y="862.9" font-size="8.8" text-anchor="middle" fill="#000">16</text>
<line x1="533.2" y1="852.2" x2="533.2" y2="855.2" stroke="#777" stroke-width="0.8"/>
<text x="533.2" y="862.9" font-size="8.8" text-anchor="middle" fill="#000">17</text>
<line x1="555.5" y1="852.2" x2="555.5" y2="855.2" stroke="#777" stroke-width="0.8"/>
<text x="555.5" y="862.9" font-size="8.8" text-anchor="middle" fill="#000">18</text>
<line x1="581.9" y1="852.2" x2="581.9" y2="855.2" stroke="#777" stroke-width="0.8"/>
<text x="581.9" y="862.9" font-size="8.8" text-anchor="middle" fill="#000">19</text>
<line x1="611.6" y1="852.2" x2="611.6" y2="855.2" stroke="#777" stroke-width="0.8"/>
<text x="611.6" y="862.9" font-size="8.8" text-anchor="middle" fill="#000">20</text>
<line x1="624.5" y1="852.2" x2="624.5" y2="855.2" stroke="#777" stroke-width="0.8"/>
<text x="624.5" y="862.9" font-size="8.8" text-anchor="middle" fill="#000">21</text>
<line x1="634.4" y1="852.2" x2="634.4" y2="855.2" stroke="#777" stroke-width="0.8"/>
<text x="634.4" y="862.9" font-size="8.8" text-anchor="middle" fill="#000">22</text>
<text x="37.75" y="776" font-size="13.4" textLength="137" lengthAdjust="spacingAndGlyphs" transform="rotate(-90 37.75 776)" fill="#000">Importance (weights)</text>
<text x="251.9" y="876" font-size="13.4" textLength="214.1" lengthAdjust="spacingAndGlyphs" fill="#000">Genes (colored per chromosome)</text>
<text x="134.5" y="624" font-size="9.4" textLength="22.2" lengthAdjust="spacingAndGlyphs" fill="#000">DYSF</text>
<text x="225.8" y="629.7" font-size="9.4" textLength="29.2" lengthAdjust="spacingAndGlyphs" fill="#000">CMYA5</text>
<text x="219.3" y="651.4" font-size="9.4" textLength="29.9" lengthAdjust="spacingAndGlyphs" fill="#000">DNAH5</text>
<text x="373" y="645.4" font-size="9.4" textLength="24.7" lengthAdjust="spacingAndGlyphs" fill="#000">MUC6</text>
<text x="410.4" y="648.8" font-size="9.4" textLength="28.3" lengthAdjust="spacingAndGlyphs" fill="#000">SNX19</text>
<text x="488.3" y="613" font-size="9.4" textLength="49.5" lengthAdjust="spacingAndGlyphs" fill="#000">LOC645752</text>
<text x="519.5" y="649.1" font-size="9.4" textLength="24.3" lengthAdjust="spacingAndGlyphs" fill="#000">SMG6</text>
<text x="586.6" y="649.1" font-size="9.4" textLength="28.1" lengthAdjust="spacingAndGlyphs" fill="#000">FCGBP</text>
<text x="604.8" y="605.4" font-size="9.4" textLength="32.9" lengthAdjust="spacingAndGlyphs" fill="#000">ZNF773</text>
<text x="630.3" y="595.6" font-size="9.4" textLength="22.4" lengthAdjust="spacingAndGlyphs" fill="#000">PCNT</text>
<path d="M222.8 641.8h0M216 654h0M627.3 609h0M516.2 657.2h0M61.5 668h0M65.3 666.4h0M62 683.9h0M66.7 682.3h0M65 693.7h0M75.6 693h0M91.9 671.3h0M91.7 678.8h0M106.9 697.9h0M77.4 717.1h0M61.5 724.1h0M66.7 726h0M114.6 715.2h0M106.9 721.8h0M117.6 719h0M118.1 722.9h0M101.7 726.4h0M69.5 728.8h0M99.4 728.8h0M225.6 704.3h0M224.9 705.9h0M216.4 710.6h0M218.3 715.3h0M325.5 689.8h0M324.8 703.1h0M329.5 711.8h0M341.7 715.3h0M441.4 699.1h0M517.6 686.8h0M548.4 693.5h0M549.8 697h0M530 701.2h0M525.8 718.8h0M543 719.2h0M548.9 719.2h0" stroke="#7ccfe2" stroke-width="3.8" stroke-linecap="round" fill="none"/>
<path d="M131.2 632.5h0M141.9 664.3h0M146.6 668.5h0M148 670.4h0M157.8 686.5h0M127.4 705.9h0M137.2 699.6h0M140.5 699.8h0M146.3 700h0M144.2 710.8h0M157.8 715.4h0M137.9 718h0M127.9 719.4h0M122.3 720.1h0M153.1 724.1h0M125.1 728.3h0M148.9 728.8h0M259.4 666.2h0M244.2 683h0M247.7 682.8h0M249.6 685.6h0M266.9 701.2h0M268.5 700.5h0M270.2 704.7h0M264.6 708.7h0M251.7 718.8h0M346.8 705.2h0M360.6 712.9h0M455.9 691.7h0M451.2 704h0M469.9 704h0M463.4 717.6h0M553.6 711.8h0M557.5 713.6h0M641 662h0M629.5 670.9h0M631.8 680h0M639.3 691.9h0M641 714.1h0" stroke="#4a78b4" stroke-width="3.8" stroke-linecap="round" fill="none"/>
<path d="M370 648.2h0M485.1 623.1h0M601.5 606.9h0M583.5 658h0M178.8 663.4h0M180.2 686.3h0M160.6 699.1h0M163.6 708.9h0M171.8 710.5h0M275.1 707.8h0M289.8 698h0M299.1 696.8h0M297.3 702.6h0M407.6 659.9h0M485.6 663.9h0M473.7 673.9h0M377.7 695.9h0M387 694.7h0M400.1 709.9h0M390.5 716.4h0M568.1 690.3h0M584 684.9h0M585.6 697.7h0M564.6 712.2h0M593.3 715.7h0M587.5 718.8h0M598.9 719.2h0" stroke="#a9a9a9" stroke-width="3.8" stroke-linecap="round" fill="none"/>
<path d="M195.2 666.9h0M202.9 669.2h0M192.8 690.7h0M210.8 701.2h0M212.5 703.4h0M194.5 717.8h0M208.7 716.6h0M194 726h0M199.8 726h0M304.3 707.6h0M305.9 709.9h0M316.2 691.4h0M316.2 702.2h0M437 662.7h0M492.8 684.4h0M409.7 703.8h0M420.6 708h0M409 711.5h0M497.5 698.9h0M495.9 711.8h0M494 716h0M605.2 703.1h0M608.7 713.4h0" stroke="#686868" stroke-width="3.8" stroke-linecap="round" fill="none"/>
</svg></body></html>
